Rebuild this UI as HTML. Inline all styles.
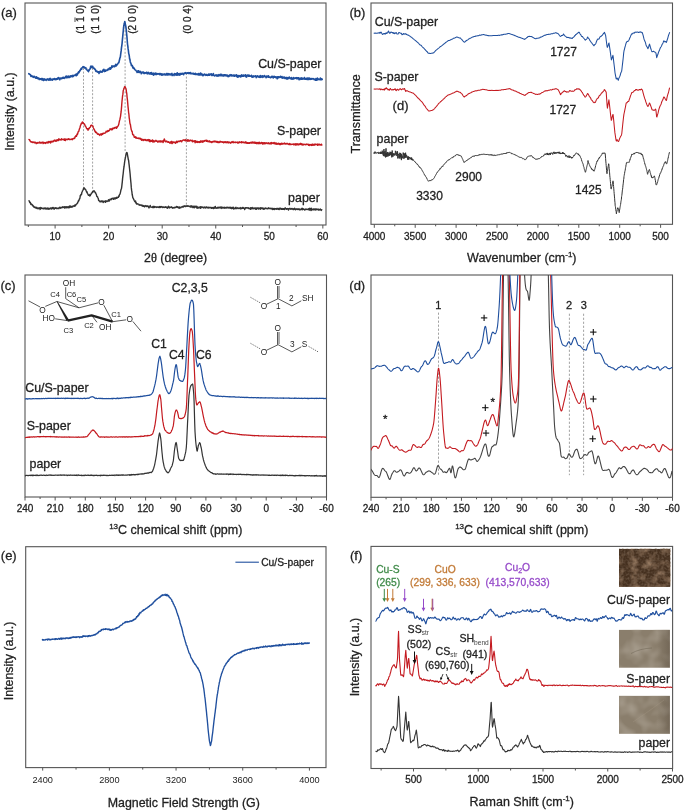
<!DOCTYPE html>
<html><head><meta charset="utf-8"><style>
html,body{margin:0;padding:0;background:#fff;}
svg{display:block;will-change:transform;}
text{font-family:'Liberation Sans',sans-serif;stroke-width:0.28px;}
</style></head><body>
<svg width="685" height="810" viewBox="0 0 685 810">
<rect width="685" height="810" fill="#fff"/>
<rect x="25" y="3" width="301" height="222" fill="none" stroke="#555" stroke-width="1.1"/>
<line x1="55.1" y1="225" x2="55.1" y2="228.5" stroke="#555" stroke-width="1.0" />
<line x1="108.65" y1="225" x2="108.65" y2="228.5" stroke="#555" stroke-width="1.0" />
<line x1="162.2" y1="225" x2="162.2" y2="228.5" stroke="#555" stroke-width="1.0" />
<line x1="215.75" y1="225" x2="215.75" y2="228.5" stroke="#555" stroke-width="1.0" />
<line x1="269.3" y1="225" x2="269.3" y2="228.5" stroke="#555" stroke-width="1.0" />
<line x1="322.85" y1="225" x2="322.85" y2="228.5" stroke="#555" stroke-width="1.0" />
<line x1="28.32" y1="225" x2="28.32" y2="227" stroke="#555" stroke-width="1.0" />
<line x1="81.88" y1="225" x2="81.88" y2="227" stroke="#555" stroke-width="1.0" />
<line x1="135.43" y1="225" x2="135.43" y2="227" stroke="#555" stroke-width="1.0" />
<line x1="188.97" y1="225" x2="188.97" y2="227" stroke="#555" stroke-width="1.0" />
<line x1="242.53" y1="225" x2="242.53" y2="227" stroke="#555" stroke-width="1.0" />
<line x1="296.08" y1="225" x2="296.08" y2="227" stroke="#555" stroke-width="1.0" />
<text x="55.1" y="240.3" font-size="10" text-anchor="middle" fill="#222" stroke="#222" >10</text>
<text x="108.65" y="240.3" font-size="10" text-anchor="middle" fill="#222" stroke="#222" >20</text>
<text x="162.2" y="240.3" font-size="10" text-anchor="middle" fill="#222" stroke="#222" >30</text>
<text x="215.75" y="240.3" font-size="10" text-anchor="middle" fill="#222" stroke="#222" >40</text>
<text x="269.3" y="240.3" font-size="10" text-anchor="middle" fill="#222" stroke="#222" >50</text>
<text x="322.85" y="240.3" font-size="10" text-anchor="middle" fill="#222" stroke="#222" >60</text>
<text x="14" y="111.6" font-size="12.4" text-anchor="middle" fill="#222" stroke="#222" transform="rotate(-90 14 111.6)" >Intensity (a.u.)</text>
<text x="175.6" y="262" font-size="12.4" text-anchor="middle" fill="#222" stroke="#222" >2<tspan font-family="Liberation Serif">θ</tspan> (degree)</text>
<text x="1" y="17" font-size="13" text-anchor="start" fill="#222" stroke="#222" >(a)</text>
<line x1="83.5" y1="68" x2="83.5" y2="188.5" stroke="#8a8a8a" stroke-width="0.8" stroke-dasharray="2,1.6"/>
<line x1="92.6" y1="68" x2="92.6" y2="190.5" stroke="#8a8a8a" stroke-width="0.8" stroke-dasharray="2,1.6"/>
<line x1="125.1" y1="23" x2="125.1" y2="151" stroke="#8a8a8a" stroke-width="0.8" stroke-dasharray="2,1.6"/>
<line x1="186.4" y1="73" x2="186.4" y2="205" stroke="#8a8a8a" stroke-width="0.8" stroke-dasharray="2,1.6"/>
<text x="84.3" y="19.3" font-size="10" text-anchor="middle" fill="#222" stroke="#222" transform="rotate(-90 84.3 19.3)" >(1 1 0)</text>
<text x="98.9" y="19.3" font-size="10" text-anchor="middle" fill="#222" stroke="#222" transform="rotate(-90 98.9 19.3)" >(1 1 0)</text>
<text x="136.2" y="19.3" font-size="10" text-anchor="middle" fill="#222" stroke="#222" transform="rotate(-90 136.2 19.3)" >(2 0 0)</text>
<text x="190.6" y="19.3" font-size="10" text-anchor="middle" fill="#222" stroke="#222" transform="rotate(-90 190.6 19.3)" >(0 0 4)</text>
<line x1="75" y1="17.4" x2="75" y2="22" stroke="#222" stroke-width="0.8" />
<polyline points="28.8,73.7 29.1,74.16 29.4,74.14 29.7,74.08 30,74.59 30.3,74.55 30.6,75.38 30.9,76.32 31.2,75.53 31.5,75.66 31.8,76.46 32.1,76.57 32.4,76.61 32.7,76.21 33,76.87 33.3,77.42 33.6,76.45 33.9,77.07 34.2,76.4 34.5,76.85 34.8,76.66 35.1,77.64 35.4,77.18 35.7,78.12 36,78.15 36.3,78.06 36.6,76.86 36.9,78.04 37.2,78.39 37.5,78.56 37.8,77.73 38.1,78.38 38.4,78.17 38.7,78.33 39,79.41 39.3,78.44 39.6,78.92 39.9,79.47 40.2,78.71 40.5,79.01 40.8,79.18 41.1,79.19 41.4,78.53 41.7,79.29 42,80.03 42.3,78.47 42.6,79.83 42.9,79.46 43.2,79.08 43.5,80.56 43.8,79.91 44.1,78.86 44.4,79.58 44.7,79.88 45,79.47 45.3,79.96 45.6,79.56 45.9,79.97 46.2,80.39 46.5,79.23 46.8,79.71 47.1,79.33 47.4,79.65 47.7,78.92 48,79.25 48.3,79.45 48.6,80.04 48.9,80.16 49.2,78.79 49.5,79.07 49.8,79.84 50.1,78.37 50.4,79.2 50.7,79.38 51,80.1 51.3,79.77 51.6,79.19 51.9,79.14 52.2,79.18 52.5,80.13 52.8,79.03 53.1,79.07 53.4,79.41 53.7,79.12 54,79.05 54.3,78.51 54.6,79.09 54.9,78.82 55.2,79.68 55.5,79.36 55.8,78.96 56.1,79.31 56.4,78.72 56.7,79.45 57,78.84 57.3,79.13 57.6,78.06 57.9,78.93 58.2,77.78 58.5,77.55 58.8,78.47 59.1,78.11 59.4,78.66 59.7,79.77 60,78.04 60.3,78.12 60.6,78.54 60.9,78.66 61.2,78.25 61.5,78.19 61.8,78.64 62.1,78.5 62.4,77.59 62.7,78.07 63,78.08 63.3,77.43 63.6,78.1 63.9,77.43 64.2,78.38 64.5,77.89 64.8,77.77 65.1,77.34 65.4,77.54 65.7,76.44 66,76.86 66.3,77.61 66.6,76.18 66.9,77.75 67.2,76.26 67.5,77.57 67.8,76.62 68.1,77.45 68.4,77.03 68.7,76.04 69,77.51 69.3,77.55 69.6,76.65 69.9,76.47 70.2,76.47 70.5,75.96 70.8,77.03 71.1,76.07 71.4,76.28 71.7,75.81 72,75.84 72.3,75.42 72.6,76.74 72.9,75.9 73.2,76.44 73.5,75.84 73.8,75.38 74.1,75.49 74.4,75.28 74.7,75.49 75,75.18 75.3,75.11 75.6,74.4 75.9,74.58 76.2,75.77 76.5,74.31 76.8,73.9 77.1,74.44 77.4,74.8 77.7,72.97 78,73.39 78.3,72.84 78.6,71.84 78.9,72.78 79.2,71.9 79.5,71.48 79.8,70.56 80.1,70.78 80.4,69.83 80.7,69.67 81,68.75 81.3,68.27 81.6,69.26 81.9,67.85 82.2,67.92 82.5,67.42 82.8,66.94 83.1,66.72 83.4,67.25 83.7,66.75 84,66.92 84.3,67.17 84.6,68 84.9,67.96 85.2,68.05 85.5,67.79 85.8,67.59 86.1,69.1 86.4,69.39 86.7,69.11 87,69.84 87.3,70.32 87.6,70.67 87.9,71 88.2,70.44 88.5,71.63 88.8,69.99 89.1,70.58 89.4,69.59 89.7,69.01 90,69.03 90.3,68.49 90.6,66.75 90.9,66.2 91.2,67.41 91.5,66.34 91.8,66.93 92.1,67.5 92.4,66.3 92.7,66.24 93,67.78 93.3,67.92 93.6,68.02 93.9,68.44 94.2,68.21 94.5,68.2 94.8,69.35 95.1,69.34 95.4,69.41 95.7,71 96,71.05 96.3,71.59 96.6,71.01 96.9,71.35 97.2,71.31 97.5,71.51 97.8,72.22 98.1,71.77 98.4,72.46 98.7,72.48 99,73.41 99.3,71.5 99.6,72.7 99.9,72.1 100.2,72.06 100.5,71.18 100.8,71.63 101.1,72.19 101.4,71.64 101.7,71.63 102,71.34 102.3,72.05 102.6,71.33 102.9,70.05 103.2,70.8 103.5,70.02 103.8,69.23 104.1,70.64 104.4,71.58 104.7,70.79 105,70.03 105.3,70.07 105.6,71.11 105.9,70.48 106.2,70.32 106.5,70.16 106.8,70.1 107.1,70.4 107.4,70.14 107.7,69.82 108,68.99 108.3,69.69 108.6,68.88 108.9,69.69 109.2,68.22 109.5,68.67 109.8,68.57 110.1,67.66 110.4,69.15 110.7,68.83 111,67.58 111.3,68.07 111.6,67.67 111.9,65.84 112.2,67.23 112.5,66.88 112.8,66.79 113.1,65.97 113.4,66.25 113.7,66.15 114,66.75 114.3,66.15 114.6,65.84 114.9,66.56 115.2,65.29 115.5,65.25 115.8,64.33 116.1,66.04 116.4,65.54 116.7,65.33 117,64.98 117.3,64.44 117.6,64.22 117.9,63.59 118.2,63.12 118.5,62.67 118.8,62.78 119.1,61.47 119.4,60.27 119.7,58.98 120,57.63 120.3,57.26 120.6,54.86 120.9,52.69 121.2,50.4 121.5,47.59 121.8,45.53 122.1,43.28 122.4,39.78 122.7,36.82 123,33.5 123.3,30.55 123.6,27.12 123.9,25.78 124.2,23.47 124.5,22.96 124.8,21.48 125.1,22.79 125.4,24.78 125.7,25.74 126,27.67 126.3,30.58 126.6,33.57 126.9,36.34 127.2,40.25 127.5,44.07 127.8,45.82 128.1,48.69 128.4,50.71 128.7,53.49 129,54.46 129.3,56.18 129.6,58.97 129.9,59.09 130.2,61.38 130.5,62.73 130.8,63.04 131.1,64.08 131.4,65.57 131.7,65.01 132,65.36 132.3,65.47 132.6,66.72 132.9,67.95 133.2,68.07 133.5,67.4 133.8,67.81 134.1,68.33 134.4,69.1 134.7,69.15 135,69.7 135.3,70.06 135.6,70.03 135.9,70.46 136.2,70.86 136.5,70.94 136.8,71.49 137.1,72.44 137.4,71.9 137.7,71.73 138,70.87 138.3,72.09 138.6,70.88 138.9,71.25 139.2,72.56 139.5,72.54 139.8,72.13 140.1,71.33 140.4,72.13 140.7,72.02 141,72.79 141.3,73.73 141.6,72.66 141.9,72.16 142.2,71.99 142.5,72.65 142.8,72.62 143.1,72.12 143.4,72.86 143.7,72.2 144,73.48 144.3,73.49 144.6,73.53 144.9,72.71 145.2,73.28 145.5,72.95 145.8,72.84 146.1,72.9 146.4,72.4 146.7,72.34 147,73.6 147.3,73.08 147.6,73.33 147.9,73.79 148.2,72.31 148.5,72.86 148.8,73.41 149.1,73.55 149.4,73.16 149.7,73.95 150,73.53 150.3,72.77 150.6,72.95 150.9,73.93 151.2,73.77 151.5,72.5 151.8,74.31 152.1,73.93 152.4,74.37 152.7,73.45 153,73.52 153.3,73.09 153.6,75.14 153.9,73.67 154.2,74.67 154.5,73.47 154.8,73.94 155.1,72.96 155.4,73.7 155.7,74.48 156,73.28 156.3,74.58 156.6,74.2 156.9,73.47 157.2,73.79 157.5,73.84 157.8,74.09 158.1,73.85 158.4,73.71 158.7,74.03 159,73.65 159.3,73.53 159.6,74.23 159.9,74.77 160.2,73.46 160.5,74.32 160.8,73.98 161.1,73.82 161.4,74.84 161.7,74.1 162,75.23 162.3,73.99 162.6,74.64 162.9,74.32 163.2,74.04 163.5,74.79 163.8,74.39 164.1,74.81 164.4,74.46 164.7,73.9 165,74.44 165.3,74.53 165.6,75.03 165.9,74 166.2,74.48 166.5,73.55 166.8,74.86 167.1,73.9 167.4,73.51 167.7,74.47 168,75.11 168.3,73.66 168.6,73.9 168.9,74.09 169.2,73.87 169.5,74.7 169.8,74.05 170.1,74.1 170.4,74.81 170.7,74.07 171,74.73 171.3,73.95 171.6,73.82 171.9,73.47 172.2,75.51 172.5,74.3 172.8,74.61 173.1,74.46 173.4,74.56 173.7,74.5 174,75.52 174.3,73.9 174.6,73.61 174.9,73.91 175.2,73.72 175.5,74.87 175.8,74.9 176.1,73.92 176.4,73.68 176.7,74.25 177,75.21 177.3,72.89 177.6,74.72 177.9,73.84 178.2,75 178.5,73.83 178.8,74.26 179.1,73.58 179.4,73.87 179.7,75.17 180,74.85 180.3,74.17 180.6,73.88 180.9,73.28 181.2,74.05 181.5,74.18 181.8,74.08 182.1,74 182.4,73.35 182.7,73.84 183,73.77 183.3,74.41 183.6,74.64 183.9,73.46 184.2,73.03 184.5,73.35 184.8,72.99 185.1,72.86 185.4,73.2 185.7,72.63 186,73.53 186.3,73.15 186.6,73.35 186.9,73.13 187.2,72.84 187.5,72.75 187.8,73.16 188.1,73.02 188.4,73.49 188.7,73.39 189,72.68 189.3,73.51 189.6,72.77 189.9,73.21 190.2,73.43 190.5,72.49 190.8,73.72 191.1,73.79 191.4,73.65 191.7,73.54 192,73.59 192.3,73.29 192.6,73.71 192.9,73.58 193.2,73.97 193.5,73.28 193.8,74.1 194.1,74.08 194.4,73.96 194.7,73.82 195,74.4 195.3,73.21 195.6,74.41 195.9,74.31 196.2,74.37 196.5,74.45 196.8,73.91 197.1,74.15 197.4,74.67 197.7,74.58 198,74.48 198.3,73.56 198.6,74.71 198.9,75.08 199.2,75.01 199.5,74.6 199.8,73.63 200.1,75.02 200.4,74.44 200.7,73.14 201,74.76 201.3,73.75 201.6,73.87 201.9,74.25 202.2,75.31 202.5,74.42 202.8,74.79 203.1,75.61 203.4,75.54 203.7,74.62 204,74.56 204.3,74.01 204.6,74.34 204.9,74.96 205.2,74.96 205.5,74.82 205.8,75.31 206.1,74.35 206.4,74.76 206.7,75.2 207,75.13 207.3,75.41 207.6,75.05 207.9,74.68 208.2,75.06 208.5,74.32 208.8,73.98 209.1,75.21 209.4,74.87 209.7,75.08 210,73.99 210.3,74.73 210.6,74.61 210.9,74.47 211.2,73.72 211.5,74.78 211.8,75.47 212.1,75.2 212.4,74.67 212.7,75 213,75.43 213.3,73.51 213.6,74.96 213.9,75.34 214.2,75.43 214.5,75.99 214.8,75.69 215.1,75.25 215.4,75.25 215.7,75.53 216,74.8 216.3,75.09 216.6,75.62 216.9,76.2 217.2,75.05 217.5,75.12 217.8,75.26 218.1,75.9 218.4,75.15 218.7,75.98 219,74.65 219.3,75.09 219.6,75.09 219.9,75.64 220.2,75.79 220.5,74.39 220.8,74.73 221.1,75.42 221.4,74.89 221.7,74.42 222,75.84 222.3,75.54 222.6,75.55 222.9,75.03 223.2,75.86 223.5,75.17 223.8,75.92 224.1,74.82 224.4,74.86 224.7,75.45 225,74.96 225.3,75.73 225.6,75.51 225.9,74.87 226.2,75.42 226.5,75.2 226.8,75.9 227.1,75.06 227.4,75.18 227.7,76.09 228,76.67 228.3,76.54 228.6,75.49 228.9,75.58 229.2,76.32 229.5,75.42 229.8,74.96 230.1,75.57 230.4,75.76 230.7,75.07 231,74.63 231.3,74.75 231.6,75.92 231.9,75.15 232.2,75.49 232.5,75.7 232.8,75.93 233.1,75.42 233.4,75.89 233.7,75.13 234,75.43 234.3,75.08 234.6,76.27 234.9,75.64 235.2,75.26 235.5,75.48 235.8,75.57 236.1,76.08 236.4,74.83 236.7,75.15 237,75.52 237.3,77.13 237.6,76.27 237.9,75.69 238.2,76.15 238.5,76.9 238.8,75.65 239.1,75.59 239.4,76.47 239.7,76.08 240,76.19 240.3,75.55 240.6,76.9 240.9,76.79 241.2,76.17 241.5,76.24 241.8,74.76 242.1,76.23 242.4,75.79 242.7,76.14 243,76.29 243.3,75.73 243.6,75 243.9,76.14 244.2,75.54 244.5,75.78 244.8,75.64 245.1,75.79 245.4,74.72 245.7,76.67 246,76.15 246.3,76.63 246.6,77.11 246.9,76.05 247.2,75.05 247.5,75.56 247.8,75.4 248.1,75.8 248.4,76.13 248.7,74.99 249,76.29 249.3,75.28 249.6,76.29 249.9,76.07 250.2,75.97 250.5,76.11 250.8,75.87 251.1,75.84 251.4,75.26 251.7,76.18 252,77.22 252.3,77.3 252.6,76.95 252.9,76.62 253.2,75.87 253.5,77.05 253.8,76.24 254.1,76.24 254.4,76.13 254.7,76.35 255,76.07 255.3,76.27 255.6,75.74 255.9,76.14 256.2,77.61 256.5,76.33 256.8,76.25 257.1,76.68 257.4,76.79 257.7,75.8 258,76.31 258.3,76.94 258.6,76.59 258.9,76.52 259.2,77.32 259.5,76.11 259.8,76.54 260.1,76.22 260.4,77.34 260.7,75.45 261,76.17 261.3,76.26 261.6,76.93 261.9,76.91 262.2,77.36 262.5,75.74 262.8,77.03 263.1,76.47 263.4,76.28 263.7,76.96 264,76.17 264.3,75.54 264.6,76.5 264.9,75.89 265.2,76.37 265.5,76.95 265.8,76.93 266.1,77.64 266.4,76.68 266.7,75.96 267,76.4 267.3,76.32 267.6,76.18 267.9,77.1 268.2,76.52 268.5,75.8 268.8,77.29 269.1,76.86 269.4,77.13 269.7,77.01 270,77.32 270.3,77 270.6,77.68 270.9,77.25 271.2,77.25 271.5,77.27 271.8,76.26 272.1,76.99 272.4,76.95 272.7,77.22 273,76.38 273.3,78.04 273.6,77.22 273.9,76.51 274.2,76.25 274.5,77.05 274.8,77.17 275.1,76.84 275.4,77.31 275.7,76.92 276,77.59 276.3,76.9 276.6,77.3 276.9,77.87 277.2,78.77 277.5,76.81 277.8,77.13 278.1,76.94 278.4,77.85 278.7,76.8 279,77.18 279.3,77.45 279.6,76.94 279.9,76.97 280.2,77.25 280.5,76.37 280.8,76.75 281.1,77.33 281.4,77.66 281.7,77.49 282,76.63 282.3,77.37 282.6,78.08 282.9,77.96 283.2,77.63 283.5,77.2 283.8,78.05 284.1,77.4 284.4,77.09 284.7,77.31 285,78.56 285.3,77.9 285.6,78.43 285.9,77.54 286.2,78.34 286.5,77.51 286.8,77.76 287.1,79.23 287.4,78.3 287.7,77.62 288,77.86 288.3,78.1 288.6,78.6 288.9,77.68 289.2,77.01 289.5,77.82 289.8,78 290.1,78.06 290.4,78.74 290.7,78.21 291,78.49 291.3,77.45 291.6,78.55 291.9,79.24 292.2,78.52 292.5,78.25 292.8,78.21 293.1,79.12 293.4,77.64 293.7,78.1 294,78.43 294.3,78.6 294.6,77.96 294.9,78.38 295.2,78.08 295.5,78.31 295.8,78.18 296.1,77.64 296.4,78.27 296.7,78.78 297,77.77 297.3,78.19 297.6,78.7 297.9,77.76 298.2,78.46 298.5,77.79 298.8,79.01 299.1,79.67 299.4,79.52 299.7,78.3 300,78.84 300.3,78.51 300.6,78.51 300.9,79.32 301.2,77.76 301.5,79.08 301.8,78.48 302.1,79.3 302.4,78.64 302.7,78.18 303,78.71 303.3,78.98 303.6,78.6 303.9,78.86 304.2,78.32 304.5,77.45 304.8,79.13 305.1,79.03 305.4,78.74 305.7,78.71 306,79.25 306.3,78.44 306.6,78.32 306.9,78.61 307.2,79.38 307.5,77.98 307.8,79.41 308.1,78.41 308.4,78.17 308.7,79.48 309,78.75 309.3,78.1 309.6,78.63 309.9,79.35 310.2,79.5 310.5,78.62 310.8,79.09 311.1,79.28 311.4,78.54 311.7,79.1 312,78.9 312.3,78.63 312.6,78.67 312.9,78.99 313.2,78.98 313.5,78.66 313.8,78.75 314.1,79.61 314.4,79.13 314.7,79.51 315,79.69 315.3,79.37 315.6,80.3 315.9,78.61 316.2,79.52 316.5,78.91 316.8,80.12 317.1,80.04 317.4,78.05 317.7,78.6 318,79.51 318.3,79.59 318.6,79.57 318.9,79.14 319.2,79.44 319.5,79.56 319.8,79.16 320.1,79.78 320.4,77.99 320.7,79.59 321,78.68 321.3,79.79 321.6,79.15 321.9,78.79 322.2,79.5" fill="none" stroke="#1f4f9e" stroke-width="1.6" stroke-linejoin="round" stroke-linecap="round" />
<polyline points="29,139.52 29.3,139.81 29.6,139.82 29.9,140.74 30.2,141.22 30.5,141.67 30.8,141.39 31.1,142.06 31.4,141.77 31.7,141.83 32,142.21 32.3,142.5 32.6,141.99 32.9,142.11 33.2,142.21 33.5,142.37 33.8,142.01 34.1,142.87 34.4,142.31 34.7,142.71 35,142.2 35.3,142.73 35.6,142.77 35.9,142.46 36.2,143.52 36.5,142.86 36.8,143.48 37.1,143.16 37.4,142.51 37.7,142.65 38,143.02 38.3,142.88 38.6,142.9 38.9,142.78 39.2,142.16 39.5,142.84 39.8,142.02 40.1,143.12 40.4,142.67 40.7,142.68 41,142.9 41.3,143.11 41.6,142.4 41.9,142.27 42.2,142.55 42.5,142.13 42.8,142.57 43.1,143.63 43.4,142.5 43.7,143.2 44,142.32 44.3,142.99 44.6,142.7 44.9,142.77 45.2,143 45.5,143.46 45.8,142.76 46.1,142.69 46.4,142.18 46.7,142.79 47,142.39 47.3,142.8 47.6,142.38 47.9,143.08 48.2,141.46 48.5,142.12 48.8,142.57 49.1,142 49.4,141.76 49.7,141.94 50,141.42 50.3,142 50.6,142.92 50.9,142.32 51.2,141.31 51.5,141.35 51.8,141.48 52.1,142 52.4,141.16 52.7,141.14 53,141.72 53.3,141.64 53.6,141.04 53.9,140.64 54.2,140.38 54.5,140.65 54.8,139.93 55.1,141.1 55.4,140.43 55.7,140.82 56,141.32 56.3,140.95 56.6,139.9 56.9,140.67 57.2,140.72 57.5,139.84 57.8,139.69 58.1,139.98 58.4,139.29 58.7,140.52 59,138.83 59.3,139.33 59.6,139.63 59.9,139.61 60.2,139.74 60.5,139.75 60.8,139.52 61.1,140.06 61.4,138.67 61.7,139.55 62,139.23 62.3,139.57 62.6,139.59 62.9,139.11 63.2,139.21 63.5,139.8 63.8,139.6 64.1,139.16 64.4,140.3 64.7,140.4 65,138.81 65.3,139.54 65.6,140.46 65.9,139.73 66.2,139.49 66.5,139.3 66.8,139.16 67.1,139.29 67.4,139.14 67.7,139.68 68,139.19 68.3,139.16 68.6,138.83 68.9,139.31 69.2,138.94 69.5,139.23 69.8,139.73 70.1,139.43 70.4,139.47 70.7,139.39 71,139.25 71.3,139.15 71.6,139.06 71.9,139.48 72.2,138.68 72.5,139.67 72.8,139.08 73.1,138.67 73.4,138.65 73.7,138.4 74,138.55 74.3,137.94 74.6,138.45 74.9,137.35 75.2,136.4 75.5,136.72 75.8,135.83 76.1,136.3 76.4,136.37 76.7,135.69 77,134.25 77.3,133.81 77.6,134.14 77.9,132.75 78.2,131.83 78.5,131.49 78.8,131.33 79.1,130.14 79.4,128.95 79.7,128.25 80,127.52 80.3,126.15 80.6,125.11 80.9,124.77 81.2,123.61 81.5,123.34 81.8,122.89 82.1,123.47 82.4,121.95 82.7,122.29 83,122.46 83.3,123.02 83.6,123.69 83.9,123.52 84.2,123.89 84.5,124.05 84.8,124.83 85.1,125.86 85.4,126.13 85.7,126.22 86,127.05 86.3,127.78 86.6,128.51 86.9,128.53 87.2,129.07 87.5,128.69 87.8,129.11 88.1,130.25 88.4,128.5 88.7,129.03 89,128.93 89.3,128.28 89.6,127.66 89.9,127.5 90.2,127.06 90.5,126.57 90.8,125.4 91.1,125.77 91.4,125.19 91.7,125.14 92,125.4 92.3,125.68 92.6,126.08 92.9,125.96 93.2,127.14 93.5,127.93 93.8,128.66 94.1,129.55 94.4,129.69 94.7,130.44 95,131.55 95.3,131.23 95.6,132.37 95.9,132.38 96.2,132.67 96.5,132.32 96.8,132.89 97.1,133.46 97.4,134.04 97.7,134.27 98,133.99 98.3,134.09 98.6,133.96 98.9,134.6 99.2,134.43 99.5,134.86 99.8,135.4 100.1,134.68 100.4,134.07 100.7,134.31 101,134 101.3,134.02 101.6,134.97 101.9,134.38 102.2,133.5 102.5,134.25 102.8,134.33 103.1,133.47 103.4,133.15 103.7,133.11 104,133.18 104.3,133.15 104.6,133.21 104.9,133.06 105.2,132.9 105.5,132.82 105.8,132.37 106.1,131.29 106.4,131.71 106.7,131.73 107,131.28 107.3,131.65 107.6,130.95 107.9,130.55 108.2,131.38 108.5,130.89 108.8,130.54 109.1,130.68 109.4,130.58 109.7,130.12 110,128.8 110.3,129.41 110.6,129.36 110.9,129.01 111.2,129.38 111.5,129.68 111.8,128.86 112.1,128.48 112.4,129.69 112.7,128.54 113,128.1 113.3,128.61 113.6,128.57 113.9,127.98 114.2,128.49 114.5,127.82 114.8,127.51 115.1,127.83 115.4,127.94 115.7,127.23 116,127.51 116.3,127.2 116.6,128.28 116.9,126.62 117.2,127.3 117.5,126.46 117.8,126.15 118.1,126.04 118.4,125.37 118.7,124.59 119,123.1 119.3,121.54 119.6,120.37 119.9,119.47 120.2,117.97 120.5,116.56 120.8,114.18 121.1,111.95 121.4,109.05 121.7,105.17 122,101.27 122.3,98.61 122.6,95.68 122.9,94.18 123.2,90.75 123.5,89.89 123.8,88.63 124.1,88.28 124.4,87.36 124.7,86.58 125,86.61 125.3,87.16 125.6,87.89 125.9,88.47 126.2,89.84 126.5,92.52 126.8,93.69 127.1,97.34 127.4,99.62 127.7,102.93 128,106.33 128.3,109.13 128.6,112.51 128.9,114.19 129.2,117.86 129.5,119.57 129.8,122.3 130.1,124.02 130.4,124.44 130.7,126.61 131,128.28 131.3,129.98 131.6,130.48 131.9,131.42 132.2,131.64 132.5,133.73 132.8,134.7 133.1,134.66 133.4,135.12 133.7,134.94 134,136.32 134.3,137.39 134.6,136.83 134.9,137.31 135.2,137.24 135.5,136.8 135.8,137.96 136.1,137.05 136.4,137.64 136.7,137.98 137,138.37 137.3,138.3 137.6,138.41 137.9,138.05 138.2,137.94 138.5,138.61 138.8,138.4 139.1,138.25 139.4,138.36 139.7,138.78 140,138.3 140.3,138.6 140.6,138.56 140.9,139.4 141.2,139.57 141.5,140.32 141.8,138.91 142.1,139.32 142.4,140.05 142.7,139.63 143,139.64 143.3,140.54 143.6,139.73 143.9,139.43 144.2,139.4 144.5,140.14 144.8,140.17 145.1,139.5 145.4,139.7 145.7,140.38 146,140.44 146.3,139.97 146.6,140.54 146.9,140.55 147.2,139.6 147.5,140.26 147.8,140.6 148.1,140.22 148.4,139.6 148.7,140.42 149,140.89 149.3,141.27 149.6,139.72 149.9,141.77 150.2,140.23 150.5,141.14 150.8,141.29 151.1,141.22 151.4,140.9 151.7,140.38 152,141.16 152.3,140.62 152.6,139.89 152.9,142.17 153.2,141.31 153.5,141.8 153.8,140.68 154.1,141.7 154.4,141.78 154.7,141.79 155,141.15 155.3,140.68 155.6,141.13 155.9,140.3 156.2,140.53 156.5,141.31 156.8,140.87 157.1,141.24 157.4,141.28 157.7,142.15 158,141.9 158.3,141.35 158.6,141.89 158.9,141.07 159.2,141.27 159.5,141.81 159.8,140.91 160.1,141.33 160.4,140.9 160.7,141.51 161,142.16 161.3,141.16 161.6,141.58 161.9,141.11 162.2,141.01 162.5,140.98 162.8,142.11 163.1,142.49 163.4,141.63 163.7,140.32 164,139.84 164.3,138.86 164.6,139.86 164.9,140.7 165.2,141.52 165.5,141.82 165.8,141.41 166.1,141.57 166.4,141.09 166.7,141.7 167,141.36 167.3,141.96 167.6,141.68 167.9,142.17 168.2,142.37 168.5,141.63 168.8,141.92 169.1,141.91 169.4,142.65 169.7,143.08 170,142.75 170.3,142.27 170.6,143.05 170.9,141.82 171.2,143.09 171.5,142.2 171.8,141.32 172.1,143.61 172.4,143.16 172.7,142.07 173,142.57 173.3,142.41 173.6,142.53 173.9,141.84 174.2,142.16 174.5,142.61 174.8,142.47 175.1,142.84 175.4,142.32 175.7,143.22 176,141.88 176.3,142.23 176.6,141.25 176.9,141.46 177.2,142.48 177.5,141.45 177.8,141.99 178.1,141.67 178.4,141.17 178.7,141.39 179,141.23 179.3,141.16 179.6,141.6 179.9,141.48 180.2,140.88 180.5,140.66 180.8,141.08 181.1,140.84 181.4,141.24 181.7,141.85 182,141.01 182.3,140.57 182.6,140.45 182.9,140.1 183.2,140.02 183.5,139.92 183.8,140.13 184.1,140.07 184.4,140.52 184.7,140.01 185,140.06 185.3,139.61 185.6,140.8 185.9,140.31 186.2,140.85 186.5,140.44 186.8,140.74 187.1,140.02 187.4,140.45 187.7,141.31 188,139.68 188.3,140.72 188.6,140.98 188.9,140.48 189.2,140.66 189.5,140.92 189.8,140.15 190.1,140.66 190.4,140.16 190.7,140.3 191,140.38 191.3,140.64 191.6,140.82 191.9,141.01 192.2,140.27 192.5,141.79 192.8,141.5 193.1,141.37 193.4,140.97 193.7,141.14 194,141.48 194.3,141.48 194.6,140.64 194.9,141.74 195.2,142.73 195.5,140.74 195.8,142.01 196.1,141.79 196.4,141.64 196.7,142.32 197,141.26 197.3,141.88 197.6,142.48 197.9,141.8 198.2,141.73 198.5,141.99 198.8,141.77 199.1,142.64 199.4,141.6 199.7,142.37 200,141.46 200.3,142.28 200.6,141.92 200.9,140.8 201.2,141.86 201.5,141.33 201.8,141.52 202.1,142.28 202.4,141.04 202.7,140.97 203,141.95 203.3,141.27 203.6,141.79 203.9,141.17 204.2,140.55 204.5,140.78 204.8,141.2 205.1,140.94 205.4,140.41 205.7,140.35 206,140.25 206.3,140.11 206.6,141.36 206.9,140.75 207.2,140.5 207.5,140.99 207.8,141.67 208.1,141.69 208.4,141.38 208.7,141.18 209,141.51 209.3,140.8 209.6,140.99 209.9,141.92 210.2,141.39 210.5,141.78 210.8,142.17 211.1,141.95 211.4,141.7 211.7,142.63 212,142.02 212.3,141.59 212.6,142.08 212.9,141.96 213.2,141.43 213.5,141.85 213.8,141.76 214.1,141 214.4,141.79 214.7,141.76 215,141.71 215.3,141.2 215.6,141.77 215.9,141.92 216.2,141.99 216.5,141.47 216.8,142.24 217.1,141.46 217.4,141.9 217.7,142.57 218,141.71 218.3,141.8 218.6,142.49 218.9,141.87 219.2,141.92 219.5,142.15 219.8,142.52 220.1,141.12 220.4,141.72 220.7,141.65 221,141.63 221.3,141.73 221.6,141.75 221.9,142.24 222.2,141.74 222.5,142.18 222.8,142.31 223.1,141.83 223.4,142.2 223.7,142.86 224,142.3 224.3,141.89 224.6,142.14 224.9,141.78 225.2,142.3 225.5,142.56 225.8,141.84 226.1,142.11 226.4,142.69 226.7,142 227,142.3 227.3,141.79 227.6,141.88 227.9,142.02 228.2,143.16 228.5,142.09 228.8,142.04 229.1,142.04 229.4,142.21 229.7,142.57 230,142.38 230.3,143.17 230.6,142.41 230.9,142.93 231.2,142.45 231.5,142.6 231.8,141.75 232.1,142.31 232.4,142.34 232.7,142.28 233,141.48 233.3,142.76 233.6,142.24 233.9,142.23 234.2,142.31 234.5,142.33 234.8,142.6 235.1,141.91 235.4,142.06 235.7,142.58 236,142.52 236.3,142.31 236.6,142.24 236.9,142.13 237.2,142.47 237.5,142.99 237.8,142.06 238.1,143.15 238.4,142.87 238.7,142.34 239,142.86 239.3,141.92 239.6,141.82 239.9,142.01 240.2,142.39 240.5,142.43 240.8,142.36 241.1,142.62 241.4,141.69 241.7,142.8 242,142 242.3,142.33 242.6,142.44 242.9,142.13 243.2,142.05 243.5,142.21 243.8,142.63 244.1,142.89 244.4,142.88 244.7,142.24 245,142.33 245.3,142.28 245.6,142.86 245.9,141.82 246.2,143.2 246.5,142.49 246.8,142.37 247.1,142.85 247.4,143.14 247.7,142.86 248,143.16 248.3,142.78 248.6,143.25 248.9,143.26 249.2,142.7 249.5,143.36 249.8,142.83 250.1,142.8 250.4,142.38 250.7,142.66 251,143.11 251.3,142.24 251.6,143.07 251.9,142.95 252.2,142.93 252.5,141.89 252.8,142.78 253.1,143.1 253.4,142.52 253.7,142.88 254,141.85 254.3,143.14 254.6,142.59 254.9,143.24 255.2,142.1 255.5,143.18 255.8,142.79 256.1,143.24 256.4,142.52 256.7,142.65 257,143.86 257.3,142.58 257.6,142.64 257.9,142.83 258.2,142.52 258.5,143.46 258.8,143.69 259.1,142.68 259.4,142.26 259.7,143.48 260,143.47 260.3,143.35 260.6,143.5 260.9,142.66 261.2,142.96 261.5,142.46 261.8,142.46 262.1,143.47 262.4,142.79 262.7,144.04 263,143.12 263.3,142.83 263.6,143.44 263.9,143.87 264.2,143.33 264.5,142.62 264.8,143.3 265.1,143.73 265.4,142.96 265.7,142.85 266,143.61 266.3,143.25 266.6,142.74 266.9,143.05 267.2,142.9 267.5,143.36 267.8,143.29 268.1,143.74 268.4,143.56 268.7,142.62 269,143.45 269.3,143.67 269.6,143.5 269.9,143.75 270.2,143.09 270.5,142.94 270.8,143.74 271.1,142.91 271.4,142.46 271.7,143.81 272,143.08 272.3,143.27 272.6,142.82 272.9,142.86 273.2,142.95 273.5,143.29 273.8,143.61 274.1,142.5 274.4,143.79 274.7,142.99 275,143.05 275.3,143.79 275.6,143.49 275.9,142.88 276.2,144.31 276.5,143.19 276.8,143.66 277.1,143.66 277.4,144.17 277.7,143.4 278,144.03 278.3,143.3 278.6,144.1 278.9,143.32 279.2,143.49 279.5,144.45 279.8,143.8 280.1,143.72 280.4,144.63 280.7,143.85 281,143.37 281.3,144.03 281.6,143.23 281.9,144.21 282.2,144.26 282.5,143.52 282.8,143.51 283.1,143.86 283.4,143.8 283.7,143.39 284,144.05 284.3,142.96 284.6,143.65 284.9,143.67 285.2,143.74 285.5,143.99 285.8,143.36 286.1,144.13 286.4,143.82 286.7,143.63 287,143.34 287.3,143.42 287.6,144.08 287.9,143.53 288.2,143.97 288.5,144.4 288.8,144.4 289.1,144.63 289.4,143.86 289.7,143.54 290,144.43 290.3,144.14 290.6,144.49 290.9,144.03 291.2,144.54 291.5,144.4 291.8,144.35 292.1,144.27 292.4,144.24 292.7,144.17 293,144.18 293.3,144.51 293.6,143.89 293.9,144.84 294.2,144.07 294.5,144.54 294.8,144.1 295.1,144.04 295.4,145.01 295.7,144.03 296,143.63 296.3,143.88 296.6,144.05 296.9,145.1 297.2,144.29 297.5,144.6 297.8,143.8 298.1,144.37 298.4,144.52 298.7,145 299,143.96 299.3,144.51 299.6,144.39 299.9,143.84 300.2,144.27 300.5,144.18 300.8,143.32 301.1,144.56 301.4,144.54 301.7,144.14 302,143.77 302.3,144.96 302.6,144.46 302.9,144.78 303.2,144.95 303.5,144.15 303.8,144.72 304.1,144.28 304.4,144.36 304.7,144.36 305,144.41 305.3,144.88 305.6,144.47 305.9,144.36 306.2,144.32 306.5,144.59 306.8,144.08 307.1,144.25 307.4,144.44 307.7,144.24 308,144.43 308.3,144.23 308.6,145.34 308.9,145.06 309.2,144.7 309.5,144.5 309.8,145.45 310.1,144.67 310.4,144.5 310.7,144.67 311,144.68 311.3,145.15 311.6,144.56 311.9,145.46 312.2,144.21 312.5,144.88 312.8,144.18 313.1,145.37 313.4,144.47 313.7,144.59 314,145.01 314.3,145.16 314.6,144.17 314.9,144.5 315.2,144.07 315.5,144.72 315.8,144.62 316.1,144.53 316.4,144.39 316.7,144.52 317,144.38 317.3,144.92 317.6,145.34 317.9,143.9 318.2,144.67 318.5,144.55 318.8,144.94 319.1,144.34 319.4,144.68 319.7,144.31 320,145.05 320.3,144.81 320.6,144.7 320.9,144.93 321.2,144.68 321.5,144.14 321.8,145.05" fill="none" stroke="#c41a20" stroke-width="1.4" stroke-linejoin="round" stroke-linecap="round" />
<polyline points="29,200.72 29.3,201.09 29.6,202.1 29.9,202.72 30.2,202.24 30.5,202.84 30.8,204.26 31.1,204.61 31.4,204.07 31.7,204.23 32,204.79 32.3,205.18 32.6,205.04 32.9,206.02 33.2,205.75 33.5,206.04 33.8,207.16 34.1,206.68 34.4,207.09 34.7,207.5 35,207.68 35.3,207.29 35.6,207.54 35.9,207.26 36.2,208.42 36.5,208.03 36.8,207.36 37.1,207.89 37.4,208.25 37.7,208.21 38,208.83 38.3,208.68 38.6,207.92 38.9,208.15 39.2,207.69 39.5,208.36 39.8,208.35 40.1,209.44 40.4,208.37 40.7,207.47 41,208.09 41.3,208.44 41.6,207.89 41.9,208.07 42.2,208.3 42.5,208.62 42.8,208.42 43.1,208.14 43.4,208.86 43.7,208.31 44,208.34 44.3,207.98 44.6,208.24 44.9,208.85 45.2,207.91 45.5,208.56 45.8,208.9 46.1,208.44 46.4,208.7 46.7,208.13 47,209.15 47.3,209.06 47.6,208.69 47.9,207.85 48.2,208.14 48.5,208.98 48.8,209.28 49.1,208.68 49.4,209.07 49.7,208.28 50,208.44 50.3,208.51 50.6,208.67 50.9,207.84 51.2,208.86 51.5,209.01 51.8,207.95 52.1,207.85 52.4,208.55 52.7,208.11 53,207.37 53.3,208.68 53.6,208.39 53.9,208.1 54.2,209.17 54.5,208.32 54.8,207.92 55.1,208.25 55.4,207.75 55.7,207.84 56,208.3 56.3,207.88 56.6,207.9 56.9,208.76 57.2,208.4 57.5,208.35 57.8,208.2 58.1,208.16 58.4,208.54 58.7,207.89 59,208.65 59.3,207.44 59.6,207.71 59.9,207.2 60.2,207.61 60.5,207.94 60.8,208.31 61.1,207.39 61.4,207.64 61.7,207.46 62,207.27 62.3,207.05 62.6,207.54 62.9,206.76 63.2,207.51 63.5,207.44 63.8,207.12 64.1,206.95 64.4,206.76 64.7,208.1 65,206.72 65.3,207.91 65.6,207.48 65.9,207.05 66.2,206.69 66.5,207.59 66.8,207.85 67.1,206.7 67.4,206.93 67.7,207.47 68,207.14 68.3,207.8 68.6,206.69 68.9,207.12 69.2,206.33 69.5,207.69 69.8,206.46 70.1,205.8 70.4,206.63 70.7,206.57 71,207.39 71.3,206.39 71.6,206.47 71.9,206.66 72.2,207.02 72.5,206.26 72.8,206.66 73.1,206.36 73.4,205.95 73.7,206.03 74,205.92 74.3,205.44 74.6,206.24 74.9,205.04 75.2,205.95 75.5,205.64 75.8,204.93 76.1,204.33 76.4,204.21 76.7,204.11 77,203.81 77.3,203.17 77.6,203.01 77.9,201.88 78.2,201.73 78.5,200.47 78.8,200.86 79.1,199.92 79.4,198.92 79.7,198.77 80,197.73 80.3,195.41 80.6,195.78 80.9,194.35 81.2,194.68 81.5,194.58 81.8,192.56 82.1,192.02 82.4,191.08 82.7,190.56 83,189.98 83.3,189.64 83.6,188.21 83.9,188.97 84.2,187.81 84.5,188.42 84.8,189.07 85.1,189.3 85.4,189.12 85.7,189.78 86,190.45 86.3,191.16 86.6,192.13 86.9,191.61 87.2,192.9 87.5,193.51 87.8,194 88.1,194.41 88.4,195.19 88.7,194.96 89,195.27 89.3,195.28 89.6,195.9 89.9,194.4 90.2,195.7 90.5,194.89 90.8,194.59 91.1,193.92 91.4,193.1 91.7,193.24 92,192.61 92.3,192.62 92.6,191.35 92.9,192.19 93.2,191.42 93.5,191.03 93.8,190.81 94.1,190.9 94.4,191.02 94.7,191.63 95,192.31 95.3,192.74 95.6,192.77 95.9,193.82 96.2,194.11 96.5,195.07 96.8,196.35 97.1,196.51 97.4,196.88 97.7,197.13 98,198.02 98.3,198.66 98.6,200.36 98.9,200.31 99.2,201.08 99.5,201.01 99.8,201.36 100.1,201.95 100.4,201.1 100.7,201.28 101,201.11 101.3,201.84 101.6,201.06 101.9,201.04 102.2,200.95 102.5,200.96 102.8,201.76 103.1,202.65 103.4,201.16 103.7,201.99 104,201.7 104.3,201.14 104.6,201.48 104.9,201.5 105.2,201.28 105.5,202.35 105.8,200.68 106.1,201.58 106.4,201.48 106.7,201 107,201.21 107.3,201.4 107.6,200.98 107.9,200.96 108.2,200.95 108.5,199.66 108.8,201 109.1,201.19 109.4,200.5 109.7,200.38 110,199.22 110.3,199.62 110.6,199.2 110.9,199.16 111.2,199.69 111.5,198.83 111.8,199.01 112.1,198.17 112.4,198.81 112.7,198.83 113,198.42 113.3,198.34 113.6,199.36 113.9,197.99 114.2,197.98 114.5,198.01 114.8,198.78 115.1,199.08 115.4,198.25 115.7,197.72 116,197.75 116.3,198.27 116.6,197.33 116.9,198.2 117.2,198.05 117.5,197.33 117.8,197.41 118.1,197.28 118.4,197.4 118.7,195.98 119,196.5 119.3,195.33 119.6,194.57 119.9,194.28 120.2,193.37 120.5,192.03 120.8,190.52 121.1,189.35 121.4,188.75 121.7,187.2 122,184.37 122.3,181.91 122.6,178.36 122.9,175.81 123.2,173.48 123.5,170.45 123.8,168.08 124.1,166.22 124.4,163.87 124.7,161.44 125,159.97 125.3,157.78 125.6,156.69 125.9,154.89 126.2,153.43 126.5,152.67 126.8,152.38 127.1,152.9 127.4,154.26 127.7,156.11 128,157.56 128.3,159.61 128.6,160.37 128.9,163.09 129.2,165.41 129.5,168.28 129.8,170.86 130.1,173.79 130.4,177.43 130.7,180.61 131,183.5 131.3,187.66 131.6,190.14 131.9,191.97 132.2,194.75 132.5,195.78 132.8,197.67 133.1,198.02 133.4,198.55 133.7,199.4 134,199.82 134.3,200.75 134.6,201.24 134.9,201.66 135.2,201.86 135.5,200.98 135.8,202.93 136.1,202.4 136.4,203.54 136.7,204.09 137,203.89 137.3,203.76 137.6,203.99 137.9,204.14 138.2,204.09 138.5,204.19 138.8,204.15 139.1,205.14 139.4,204.73 139.7,205.23 140,204.8 140.3,205.02 140.6,204.99 140.9,205.33 141.2,205.56 141.5,205.38 141.8,205.06 142.1,205.08 142.4,206.17 142.7,205.42 143,205.48 143.3,206.28 143.6,206.19 143.9,206.02 144.2,205.69 144.5,206.91 144.8,206.15 145.1,206.28 145.4,206.04 145.7,205.58 146,205.67 146.3,206.46 146.6,206.52 146.9,206.31 147.2,205.97 147.5,205.9 147.8,206.42 148.1,205.99 148.4,207.03 148.7,207.17 149,207.92 149.3,207.13 149.6,206.55 149.9,206.46 150.2,205.4 150.5,206.62 150.8,206.81 151.1,207.31 151.4,207.17 151.7,207.17 152,207.02 152.3,207.22 152.6,207.56 152.9,206.52 153.2,206.78 153.5,206.4 153.8,207.67 154.1,207.55 154.4,207.33 154.7,206.52 155,207.1 155.3,206.94 155.6,207.08 155.9,206.98 156.2,207.29 156.5,206.91 156.8,207.44 157.1,207.19 157.4,206.98 157.7,207.06 158,206.93 158.3,207.47 158.6,207.02 158.9,207.26 159.2,206.98 159.5,206.53 159.8,207.54 160.1,206.73 160.4,207.46 160.7,207.36 161,206.5 161.3,206.8 161.6,206.99 161.9,206.87 162.2,206.72 162.5,207.53 162.8,207.13 163.1,207.4 163.4,207.06 163.7,207.38 164,206.94 164.3,207.25 164.6,207.51 164.9,207.29 165.2,207.08 165.5,206.82 165.8,207.36 166.1,207.43 166.4,207.19 166.7,206.98 167,207.53 167.3,208.35 167.6,207.19 167.9,207.46 168.2,207.48 168.5,206.25 168.8,207.38 169.1,207.04 169.4,207.92 169.7,207.23 170,207.02 170.3,207.25 170.6,207.42 170.9,207.12 171.2,207.33 171.5,206.79 171.8,207.27 172.1,207.69 172.4,208.19 172.7,207.67 173,207.49 173.3,207.87 173.6,207.8 173.9,208.08 174.2,207.84 174.5,207.33 174.8,207.49 175.1,207.46 175.4,207.51 175.7,207.47 176,207.06 176.3,206.51 176.6,207.11 176.9,206.54 177.2,207.42 177.5,207.4 177.8,206.69 178.1,207.69 178.4,207.76 178.7,207.44 179,208.1 179.3,208.19 179.6,206.89 179.9,207.84 180.2,207.59 180.5,207.57 180.8,207.77 181.1,207.03 181.4,207.03 181.7,206.87 182,206.82 182.3,207.02 182.6,206.37 182.9,206.45 183.2,207.05 183.5,206.69 183.8,206.81 184.1,205.78 184.4,206.17 184.7,206.19 185,206.35 185.3,206 185.6,206.55 185.9,206.05 186.2,206 186.5,205.93 186.8,206.17 187.1,205.63 187.4,206.28 187.7,205.99 188,205.89 188.3,205.88 188.6,206.14 188.9,206.41 189.2,206.46 189.5,206.3 189.8,206.6 190.1,206.36 190.4,206.91 190.7,206.44 191,205.63 191.3,207.1 191.6,206.63 191.9,206.13 192.2,206.58 192.5,206.34 192.8,207.63 193.1,207 193.4,206.17 193.7,207.1 194,206.74 194.3,207.75 194.6,206.54 194.9,206.07 195.2,207.07 195.5,206.93 195.8,206.94 196.1,206.24 196.4,207.35 196.7,207.9 197,206.42 197.3,207.74 197.6,207.03 197.9,208.28 198.2,207.5 198.5,207.26 198.8,207.82 199.1,207.59 199.4,207.13 199.7,207.69 200,207.19 200.3,206.66 200.6,208.27 200.9,207.28 201.2,207.18 201.5,207.58 201.8,206.79 202.1,206.88 202.4,207.25 202.7,207.25 203,207.5 203.3,207.95 203.6,207.29 203.9,207.7 204.2,207.75 204.5,207.05 204.8,207.6 205.1,207.12 205.4,207.97 205.7,207.72 206,207.54 206.3,206.97 206.6,207.59 206.9,207.22 207.2,207.85 207.5,207.5 207.8,207.22 208.1,207.95 208.4,207.87 208.7,207.32 209,208.06 209.3,207.45 209.6,207.45 209.9,207.64 210.2,207.27 210.5,207.41 210.8,207.53 211.1,208.24 211.4,208.23 211.7,207.5 212,208.29 212.3,207.59 212.6,207.78 212.9,207.99 213.2,207.74 213.5,208.64 213.8,207.73 214.1,207.13 214.4,208.18 214.7,207.46 215,207.51 215.3,206.38 215.6,208.06 215.9,207.99 216.2,207.98 216.5,208.06 216.8,208.36 217.1,207.64 217.4,208.05 217.7,207.35 218,207.52 218.3,208.11 218.6,207.83 218.9,207.11 219.2,207.83 219.5,207.6 219.8,207.34 220.1,207.86 220.4,207.52 220.7,207.03 221,207.22 221.3,208.44 221.6,207.06 221.9,207.79 222.2,207.96 222.5,207.97 222.8,207.19 223.1,207.58 223.4,207.77 223.7,208.05 224,207.45 224.3,207.23 224.6,208.15 224.9,208.19 225.2,207.89 225.5,207.48 225.8,207.91 226.1,207.79 226.4,208.1 226.7,207.23 227,207.8 227.3,207.69 227.6,207.3 227.9,207.86 228.2,207.79 228.5,207.6 228.8,207.95 229.1,207.19 229.4,207.77 229.7,207.98 230,207.92 230.3,208.26 230.6,207.31 230.9,207.18 231.2,207.92 231.5,208.02 231.8,208.72 232.1,208.1 232.4,207.48 232.7,208.19 233,207.5 233.3,207.24 233.6,208.96 233.9,208.01 234.2,208.18 234.5,208.12 234.8,208.65 235.1,208.02 235.4,208.42 235.7,207.48 236,207.33 236.3,208.53 236.6,208.55 236.9,208.15 237.2,208.04 237.5,208.02 237.8,207.67 238.1,208.61 238.4,208.25 238.7,208.19 239,208.15 239.3,208.44 239.6,208.22 239.9,208.32 240.2,207.53 240.5,208.24 240.8,208.95 241.1,207.82 241.4,207.99 241.7,208.43 242,208.47 242.3,208.33 242.6,207.4 242.9,208.3 243.2,207.6 243.5,207.76 243.8,208.34 244.1,207.99 244.4,208.47 244.7,209.46 245,208.47 245.3,208.45 245.6,207.78 245.9,207.89 246.2,207.73 246.5,207.96 246.8,207.73 247.1,207.92 247.4,208.12 247.7,207.79 248,207.62 248.3,207.65 248.6,208.42 248.9,208.27 249.2,208.68 249.5,208.7 249.8,208.12 250.1,208.55 250.4,207.67 250.7,209.25 251,208.8 251.3,208.21 251.6,207.82 251.9,208.48 252.2,207.54 252.5,208.01 252.8,208.65 253.1,208.38 253.4,208.15 253.7,208.76 254,207.93 254.3,208.5 254.6,208.17 254.9,208.03 255.2,208.59 255.5,207.99 255.8,209.21 256.1,208.17 256.4,209.26 256.7,207.97 257,208.69 257.3,207.94 257.6,207.89 257.9,208.52 258.2,208.75 258.5,207.93 258.8,208.97 259.1,208.15 259.4,208.54 259.7,208.65 260,208.75 260.3,207.75 260.6,209.19 260.9,208.75 261.2,208.34 261.5,208.1 261.8,207.82 262.1,207.97 262.4,208.77 262.7,208.41 263,208.08 263.3,208.34 263.6,209.22 263.9,208.43 264.2,208.33 264.5,209.15 264.8,208.78 265.1,208.61 265.4,208.34 265.7,207.95 266,208.12 266.3,208.41 266.6,208.53 266.9,208.77 267.2,208.86 267.5,208.73 267.8,208.73 268.1,208.22 268.4,207.75 268.7,208.44 269,208.26 269.3,208.39 269.6,208.55 269.9,208.15 270.2,208.21 270.5,208.64 270.8,208.74 271.1,208.42 271.4,208.91 271.7,208.61 272,208.28 272.3,208.73 272.6,209.51 272.9,208.44 273.2,209.22 273.5,209.31 273.8,209.37 274.1,208.4 274.4,209.59 274.7,208.8 275,208.65 275.3,208.66 275.6,209.02 275.9,208.79 276.2,208.7 276.5,209.32 276.8,208.48 277.1,208.35 277.4,209.13 277.7,209.09 278,209.26 278.3,208.36 278.6,209.27 278.9,209.02 279.2,209.56 279.5,208.3 279.8,208.92 280.1,208.72 280.4,208.17 280.7,208.55 281,209.32 281.3,208.66 281.6,208.56 281.9,209.23 282.2,209.29 282.5,209.29 282.8,208.55 283.1,208.86 283.4,209.32 283.7,208.62 284,208.58 284.3,209.25 284.6,209.56 284.9,208.43 285.2,207.83 285.5,208.31 285.8,208.5 286.1,208.88 286.4,209.2 286.7,208.88 287,208.65 287.3,209.02 287.6,208.55 287.9,208.94 288.2,208.7 288.5,210.1 288.8,209.32 289.1,208.63 289.4,208.57 289.7,208.81 290,208.31 290.3,208.7 290.6,208.7 290.9,209.39 291.2,208.84 291.5,208.69 291.8,208.47 292.1,208.54 292.4,209.01 292.7,208.96 293,209.53 293.3,208.79 293.6,209.51 293.9,209.18 294.2,209.07 294.5,208.24 294.8,208.54 295.1,209.4 295.4,209.68 295.7,209.19 296,209.43 296.3,208.94 296.6,208.96 296.9,208.84 297.2,209.54 297.5,209.28 297.8,209.04 298.1,209.01 298.4,209.38 298.7,209.29 299,208.81 299.3,209.89 299.6,209.28 299.9,209.18 300.2,209.8 300.5,209.62 300.8,209.16 301.1,209.43 301.4,208.76 301.7,208.94 302,208.27 302.3,209.73 302.6,208.43 302.9,209.52 303.2,208.89 303.5,208.83 303.8,209.17 304.1,209.37 304.4,209.52 304.7,210.01 305,209.42 305.3,209.65 305.6,209.03 305.9,209.59 306.2,209.36 306.5,209.11 306.8,209.27 307.1,209.29 307.4,209.4 307.7,209.49 308,209.12 308.3,209.02 308.6,209.65 308.9,208.63 309.2,209.09 309.5,210.01 309.8,208.23 310.1,209.08 310.4,209.66 310.7,208.69 311,210.48 311.3,208.3 311.6,210 311.9,210.06 312.2,209.79 312.5,209.32 312.8,209.57 313.1,209.05 313.4,209.77 313.7,208.97 314,209.33 314.3,209.87 314.6,208.99 314.9,209.31 315.2,209.54 315.5,208.91 315.8,209.97 316.1,209.63 316.4,208.85 316.7,209.48 317,209.18 317.3,209.23 317.6,209.55 317.9,209.22 318.2,209.93 318.5,209.24 318.8,209.95 319.1,209.52 319.4,209.91 319.7,209.33 320,209.35 320.3,209.08 320.6,209.82 320.9,209.97 321.2,210.47 321.5,210.13 321.8,209.7" fill="none" stroke="#333333" stroke-width="1.4" stroke-linejoin="round" stroke-linecap="round" />
<text x="321.5" y="67.7" font-size="12.4" text-anchor="end" fill="#222" stroke="#222" >Cu/S-paper</text>
<text x="321" y="134.5" font-size="12.4" text-anchor="end" fill="#222" stroke="#222" >S-paper</text>
<text x="319.8" y="202" font-size="12.4" text-anchor="end" fill="#222" stroke="#222" >paper</text>
<rect x="371" y="3" width="301.5" height="221.3" fill="none" stroke="#555" stroke-width="1.1"/>
<line x1="374.3" y1="224.3" x2="374.3" y2="227.8" stroke="#555" stroke-width="1.0" />
<line x1="415.2" y1="224.3" x2="415.2" y2="227.8" stroke="#555" stroke-width="1.0" />
<line x1="456.1" y1="224.3" x2="456.1" y2="227.8" stroke="#555" stroke-width="1.0" />
<line x1="497" y1="224.3" x2="497" y2="227.8" stroke="#555" stroke-width="1.0" />
<line x1="537.9" y1="224.3" x2="537.9" y2="227.8" stroke="#555" stroke-width="1.0" />
<line x1="578.8" y1="224.3" x2="578.8" y2="227.8" stroke="#555" stroke-width="1.0" />
<line x1="619.7" y1="224.3" x2="619.7" y2="227.8" stroke="#555" stroke-width="1.0" />
<line x1="660.6" y1="224.3" x2="660.6" y2="227.8" stroke="#555" stroke-width="1.0" />
<line x1="394.75" y1="224.3" x2="394.75" y2="226.3" stroke="#555" stroke-width="1.0" />
<line x1="435.65" y1="224.3" x2="435.65" y2="226.3" stroke="#555" stroke-width="1.0" />
<line x1="476.55" y1="224.3" x2="476.55" y2="226.3" stroke="#555" stroke-width="1.0" />
<line x1="517.45" y1="224.3" x2="517.45" y2="226.3" stroke="#555" stroke-width="1.0" />
<line x1="558.35" y1="224.3" x2="558.35" y2="226.3" stroke="#555" stroke-width="1.0" />
<line x1="599.25" y1="224.3" x2="599.25" y2="226.3" stroke="#555" stroke-width="1.0" />
<line x1="640.15" y1="224.3" x2="640.15" y2="226.3" stroke="#555" stroke-width="1.0" />
<text x="374.3" y="240.2" font-size="10" text-anchor="middle" fill="#222" stroke="#222" >4000</text>
<text x="415.2" y="240.2" font-size="10" text-anchor="middle" fill="#222" stroke="#222" >3500</text>
<text x="456.1" y="240.2" font-size="10" text-anchor="middle" fill="#222" stroke="#222" >3000</text>
<text x="497" y="240.2" font-size="10" text-anchor="middle" fill="#222" stroke="#222" >2500</text>
<text x="537.9" y="240.2" font-size="10" text-anchor="middle" fill="#222" stroke="#222" >2000</text>
<text x="578.8" y="240.2" font-size="10" text-anchor="middle" fill="#222" stroke="#222" >1500</text>
<text x="619.7" y="240.2" font-size="10" text-anchor="middle" fill="#222" stroke="#222" >1000</text>
<text x="660.6" y="240.2" font-size="10" text-anchor="middle" fill="#222" stroke="#222" >500</text>
<text x="360.2" y="113.9" font-size="12.6" text-anchor="middle" fill="#222" stroke="#222" transform="rotate(-90 360.2 113.9)" >Transmittance</text>
<text x="521.8" y="262.1" font-size="12.5" text-anchor="middle" fill="#222" stroke="#222" >Wavenumber (cm<tspan font-size="8" dy="-5.6">-1</tspan><tspan dy="5.6">)</tspan></text>
<text x="349.5" y="17" font-size="13" text-anchor="start" fill="#222" stroke="#222" >(b)</text>
<polyline points="374.1,33.11 374.4,33.14 374.7,33.2 375,33.25 375.3,33.2 375.6,33.12 375.9,33.12 376.2,33.19 376.5,33.21 376.8,33.2 377.1,33.19 377.4,33.14 377.7,33.07 378,33.02 378.3,33.01 378.6,33.04 378.9,33.05 379.2,32.37 379.5,32.73 379.8,33.14 380.1,33.11 380.4,32.63 380.7,32.19 381,32.12 381.3,32.4 381.6,32.97 381.9,33.54 382.2,34.08 382.5,34.49 382.8,34.37 383.1,33.96 383.4,33.64 383.7,33.68 384,33.9 384.3,33.76 384.6,33.51 384.9,33.74 385.2,34.07 385.5,33.98 385.8,33.35 386.1,32.73 386.4,32.95 386.7,33.55 387,33.4 387.3,32.88 387.6,32.65 387.9,32.16 388.2,31.33 388.5,31 388.8,31.6 389.1,32.55 389.4,33.09 389.7,33.28 390,33.31 390.3,32.91 390.6,32.3 390.9,32.11 391.2,32.12 391.5,32.18 391.8,32.46 392.1,32.69 392.4,32.58 392.7,32.58 393,33.14 393.3,33.48 393.6,32.93 393.9,32.59 394.2,33.11 394.5,33.62 394.8,33.55 395.1,33.32 395.4,33.18 395.7,32.81 396,32.5 396.3,32.74 396.6,33.35 396.9,33.89 397.2,34.07 397.5,34.07 397.8,34.09 398.1,33.95 398.4,33.41 398.7,32.66 399,32.45 399.3,32.7 399.6,32.76 399.9,32.86 400.2,33.03 400.5,33.15 400.8,33.33 401.1,33.29 401.4,33.27 401.7,34.05 402,34.73 402.3,34.51 402.6,34.26 402.9,34.45 403.2,34.32 403.5,33.72 403.8,33.45 404.1,33.65 404.4,33.96 404.7,34.18 405,34.17 405.3,33.98 405.6,33.78 405.9,33.66 406.2,34.28 406.5,34.42 406.8,34.55 407.1,34.71 407.4,34.88 407.7,34.97 408,35.06 408.3,35.2 408.6,35.34 408.9,35.48 409.2,35.67 409.5,35.89 409.8,36.09 410.1,36.3 410.4,36.56 410.7,36.77 411,36.91 411.3,37.11 411.6,37.33 411.9,37.53 412.2,37.8 412.5,38.14 412.8,38.43 413.1,38.68 413.4,38.86 413.7,39.03 414,39.28 414.3,39.58 414.6,39.86 414.9,40.09 415.2,40.33 415.5,40.62 415.8,40.91 416.1,41.12 416.4,41.28 416.7,41.51 417,41.79 417.3,42.04 417.6,42.28 417.9,42.55 418.2,42.88 418.5,43.24 418.8,43.57 419.1,43.88 419.4,44.2 419.7,44.52 420,44.83 420.3,45.02 420.6,45.12 420.9,45.2 421.2,45.39 421.5,45.79 421.8,46.25 422.1,46.62 422.4,46.91 422.7,47.22 423,47.49 423.3,47.69 423.6,47.91 423.9,48.25 424.2,48.64 424.5,48.98 424.8,49.27 425.1,49.57 425.4,49.94 425.7,50.31 426,50.65 426.3,50.98 426.6,51.28 426.9,51.51 427.2,51.76 427.5,52.15 427.8,52.63 428.1,53.03 428.4,53.34 428.7,53.31 429,53.33 429.3,53.34 429.6,53.37 429.9,53.46 430.2,53.55 430.5,53.52 430.8,53.41 431.1,53.34 431.4,53.31 431.7,53.33 432,53.28 432.3,53.16 432.6,53.03 432.9,52.92 433.2,52.87 433.5,52.89 433.8,52.69 434.1,52.39 434.4,52.01 434.7,51.66 435,51.35 435.3,50.99 435.6,50.62 435.9,50.34 436.2,50.13 436.5,49.91 436.8,49.66 437.1,49.42 437.4,49.18 437.7,48.89 438,48.61 438.3,48.37 438.6,48.18 438.9,47.96 439.2,47.7 439.5,47.41 439.8,47.08 440.1,46.78 440.4,46.6 440.7,46.48 441,46.35 441.3,46.15 441.6,45.9 441.9,45.68 442.2,45.45 442.5,45.16 442.8,44.83 443.1,44.54 443.4,44.29 443.7,44.07 444,43.9 444.3,43.72 444.6,43.51 444.9,43.27 445.2,42.98 445.5,42.67 445.8,42.4 446.1,42.18 446.4,42 446.7,41.85 447,41.67 447.3,41.42 447.6,41.17 447.9,40.92 448.2,40.72 448.5,40.59 448.8,40.51 449.1,40.46 449.4,40.4 449.7,40.31 450,40.17 450.3,39.99 450.6,39.81 450.9,39.66 451.2,39.54 451.5,39.38 451.8,39.23 452.1,39.16 452.4,39.07 452.7,38.84 453,38.57 453.3,38.36 453.6,38.25 453.9,38.2 454.2,38.14 454.5,38.08 454.8,38.03 455.1,37.88 455.4,37.65 455.7,37.47 456,37.33 456.3,37.18 456.6,37.03 456.9,36.92 457.2,37.07 457.5,37.19 457.8,37.31 458.1,37.44 458.4,37.55 458.7,37.64 459,37.77 459.3,37.9 459.6,37.96 459.9,37.97 460.2,38 460.5,38.09 460.8,38.43 461.1,38.79 461.4,39.11 461.7,39.41 462,39.8 462.3,40.2 462.6,40.54 462.9,40.86 463.2,41.18 463.5,41.45 463.8,41.71 464.1,42.07 464.4,42.15 464.7,42.05 465,41.85 465.3,41.54 465.6,41.21 465.9,40.95 466.2,40.74 466.5,40.52 466.8,40.33 467.1,40.2 467.4,40.06 467.7,39.85 468,39.58 468.3,39.28 468.6,39.04 468.9,38.92 469.2,38.84 469.5,38.66 469.8,38.43 470.1,38.25 470.4,38.15 470.7,38.04 471,37.88 471.3,37.71 471.6,37.53 471.9,37.33 472.2,37.14 472.5,37.03 472.8,36.98 473.1,36.91 473.4,36.8 473.7,36.71 474,36.61 474.3,36.46 474.6,36.39 474.9,36.41 475.2,36.37 475.5,36.19 475.8,36.01 476.1,35.97 476.4,36 476.7,36 477,35.92 477.3,35.81 477.6,35.74 477.9,35.71 478.2,35.69 478.5,35.64 478.8,35.52 479.1,35.35 479.4,35.19 479.7,35.11 480,35.1 480.3,35.14 480.6,35.2 480.9,35.18 481.2,35.04 481.5,34.88 481.8,34.81 482.1,34.81 482.4,34.83 482.7,34.78 483,34.64 483.3,34.53 483.6,34.5 483.9,34.56 484.2,34.69 484.5,34.83 484.8,34.91 485.1,34.96 485.4,35.06 485.7,35.14 486,35.14 486.3,35.14 486.6,35.2 486.9,35.29 487.2,35.41 487.5,35.55 487.8,35.61 488.1,35.58 488.4,35.62 488.7,35.71 489,35.78 489.3,35.77 489.6,35.78 489.9,35.78 490.2,35.75 490.5,35.71 490.8,35.71 491.1,35.71 491.4,35.72 491.7,35.73 492,35.7 492.3,35.64 492.6,35.57 492.9,35.48 493.2,35.44 493.5,35.45 493.8,35.46 494.1,35.44 494.4,35.44 494.7,35.48 495,35.48 495.3,35.48 495.6,35.52 495.9,35.53 496.2,35.52 496.5,35.51 496.8,35.48 497.1,35.47 497.4,35.46 497.7,35.4 498,35.36 498.3,35.33 498.6,35.3 498.9,35.32 499.2,35.41 499.5,35.38 499.8,35.25 500.1,35.15 500.4,35.09 500.7,35 501,34.91 501.3,34.89 501.6,34.89 501.9,34.89 502.2,34.88 502.5,34.82 502.8,34.7 503.1,34.56 503.4,34.44 503.7,34.38 504,34.35 504.3,34.29 504.6,34.24 504.9,34.25 505.2,34.31 505.5,34.29 505.8,34.15 506.1,34.03 506.4,33.99 506.7,33.96 507,33.89 507.3,33.78 507.6,33.68 507.9,33.59 508.2,33.53 508.5,33.49 508.8,33.46 509.1,33.44 509.4,33.6 509.7,33.75 510,33.85 510.3,33.94 510.6,34.02 510.9,34.13 511.2,34.26 511.5,34.39 511.8,34.52 512.1,34.59 512.4,34.63 512.7,34.74 513,34.88 513.3,35 513.6,35.05 513.9,35.13 514.2,35.31 514.5,35.51 514.8,35.62 515.1,35.69 515.4,35.75 515.7,35.84 516,36.02 516.3,36.22 516.6,36.38 516.9,36.49 517.2,36.56 517.5,36.65 517.8,36.79 518.1,36.98 518.4,37.15 518.7,37.22 519,37.23 519.3,37.28 519.6,37.4 519.9,37.53 520.2,37.58 520.5,37.66 520.8,37.81 521.1,37.98 521.4,38.09 521.7,38.15 522,38.27 522.3,38.39 522.6,38.47 522.9,38.6 523.2,38.79 523.5,38.91 523.8,38.93 524.1,39.02 524.4,39.23 524.7,39.38 525,39.04 525.3,38.76 525.6,38.6 525.9,38.43 526.2,38.2 526.5,37.92 526.8,37.65 527.1,37.46 527.4,37.29 527.7,37 528,36.64 528.3,36.41 528.6,36.42 528.9,36.39 529.2,36.34 529.5,36.36 529.8,36.41 530.1,36.41 530.4,36.41 530.7,36.41 531,36.44 531.3,36.45 531.6,36.59 531.9,36.76 532.2,36.98 532.5,37.19 532.8,37.34 533.1,37.47 533.4,37.63 533.7,37.82 534,38.01 534.3,38.2 534.6,38.38 534.9,38.48 535.2,38.54 535.5,38.65 535.8,38.74 536.1,38.65 536.4,38.48 536.7,38.3 537,38.25 537.3,38.31 537.6,38.34 537.9,38.26 538.2,38.16 538.5,38.09 538.8,38.04 539.1,37.97 539.4,37.88 539.7,37.73 540,37.5 540.3,37.28 540.6,37.12 540.9,37.04 541.2,37 541.5,36.94 541.8,36.81 542.1,36.62 542.4,36.42 542.7,36.25 543,36.11 543.3,35.97 543.6,35.78 543.9,35.57 544.2,35.42 544.5,35.29 544.8,35.28 545.1,35.29 545.4,35.23 545.7,35.06 546,34.85 546.3,34.72 546.6,34.67 546.9,34.61 547.2,34.56 547.5,34.58 547.8,34.56 548.1,34.47 548.4,34.37 548.7,34.31 549,34.26 549.3,34.2 549.6,34.21 549.9,34.24 550.2,34.18 550.5,34.05 550.8,33.9 551.1,33.8 551.4,33.76 551.7,33.72 552,33.67 552.3,33.67 552.6,33.67 552.9,33.53 553.2,33.32 553.5,33.18 553.8,33.18 554.1,33.25 554.4,33.25 554.7,33.13 555,32.97 555.3,32.87 555.6,32.84 555.9,32.8 556.2,32.81 556.5,33 556.8,33.18 557.1,33.26 557.4,33.29 557.7,33.4 558,33.62 558.3,33.84 558.6,34.25 558.9,34.63 559.2,35.05 559.5,35.49 559.8,35.88 560.1,36.15 560.4,36.4 560.7,36.33 561,36.06 561.3,35.7 561.6,35.46 561.9,35.49 562.2,35.57 562.5,35.46 562.8,35.16 563.1,34.65 563.4,34.07 563.7,34.22 564,34.71 564.3,35.31 564.6,35.71 564.9,35.96 565.2,36.13 565.5,36.24 565.8,36.42 566.1,36.76 566.4,37.13 566.7,37.42 567,37.6 567.3,37.53 567.6,37.38 567.9,37.35 568.2,37.43 568.5,37.45 568.8,37.47 569.1,37.79 569.4,38.09 569.7,37.95 570,37.78 570.3,37.93 570.6,38.14 570.9,38.17 571.2,38.14 571.5,38.17 571.8,38.39 572.1,38.58 572.4,38.36 572.7,37.74 573,37.41 573.3,37.31 573.6,37.19 573.9,36.9 574.2,36.43 574.5,36.02 574.8,35.78 575.1,35.51 575.4,35.08 575.7,34.68 576,34.44 576.3,34.27 576.6,34.03 576.9,33.79 577.2,33.63 577.5,33.38 577.8,33.01 578.1,32.72 578.4,32.53 578.7,32.22 579,32.16 579.3,32.43 579.6,32.9 579.9,33.51 580.2,34.08 580.5,34.44 580.8,34.79 581.1,35.34 581.4,36 581.7,36.41 582,36.46 582.3,36.43 582.6,36.73 582.9,37.27 583.2,37.67 583.5,37.95 583.8,38.23 584.1,38.59 584.4,39.06 584.7,39.5 585,39.8 585.3,40.08 585.6,39.74 585.9,39.5 586.2,39.38 586.5,39.2 586.8,38.83 587.1,38.27 587.4,37.56 587.7,36.97 588,37.49 588.3,38.05 588.6,38.43 588.9,38.68 589.2,39 589.5,39.61 589.8,40.35 590.1,40.83 590.4,41.05 590.7,41.4 591,41.95 591.3,42.47 591.6,42.92 591.9,43.16 592.2,43.46 592.5,43.98 592.8,44.4 593.1,44.66 593.4,45.06 593.7,45.5 594,45.78 594.3,45.29 594.6,44.65 594.9,44.42 595.2,44.35 595.5,44.11 595.8,43.52 596.1,42.64 596.4,41.73 596.7,40.97 597,40.33 597.3,39.7 597.6,39.25 597.9,38.93 598.2,38.97 598.5,39.2 598.8,39.21 599.1,38.78 599.4,38.15 599.7,37.58 600,37.04 600.3,36.62 600.6,36.5 600.9,36.52 601.2,36.27 601.5,35.84 601.8,35.62 602.1,35.52 602.4,35.19 602.7,34.64 603,34.08 603.3,33.72 603.6,33.53 603.9,33.2 604.2,32.7 604.5,32.32 604.8,33.16 605.1,33.99 605.4,34.83 605.7,35.69 606,38.25 606.3,40.74 606.6,43 606.9,45.09 607.2,47.21 607.5,47.24 607.8,46.4 608.1,45.59 608.4,44.59 608.7,43.32 609,42.99 609.3,45 609.6,47.12 609.9,49.17 610.2,51.2 610.5,53.35 610.8,55.6 611.1,57.77 611.4,59.93 611.7,59.05 612,58.22 612.3,57.32 612.6,56.33 612.9,55.34 613.2,56.91 613.5,59.72 613.8,62.32 614.1,64.81 614.4,67.25 614.7,69.85 615,72.72 615.3,74.4 615.6,75.91 615.9,77.39 616.2,78.81 616.5,78.88 616.8,78.42 617.1,78.07 617.4,78.46 617.7,79.09 618,79.76 618.3,80.29 618.6,79.09 618.9,78.19 619.2,77.62 619.5,77.03 619.8,76.36 620.1,75.59 620.4,74.5 620.7,73.32 621,72.42 621.3,71.89 621.6,71.4 621.9,69.46 622.2,66.75 622.5,64.11 622.8,61.65 623.1,59.01 623.4,55.99 623.7,52.87 624,50.99 624.3,49.77 624.6,48.57 624.9,47.45 625.2,46.45 625.5,45.39 625.8,44.21 626.1,43.04 626.4,42.47 626.7,41.94 627,41.39 627.3,41.29 627.6,41.46 627.9,41.45 628.2,41.17 628.5,40.85 628.8,40.34 629.1,39.71 629.4,38.95 629.7,38.18 630,37.53 630.3,36.9 630.6,36.11 630.9,35.38 631.2,34.84 631.5,34.31 631.8,33.81 632.1,33.89 632.4,33.88 632.7,33.63 633,33.21 633.3,32.9 633.6,32.9 633.9,33.09 634.2,33.12 634.5,32.85 634.8,32.37 635.1,32.12 635.4,32.21 635.7,32.21 636,32.16 636.3,32.19 636.6,32.22 636.9,32.11 637.2,32.01 637.5,32.07 637.8,32.15 638.1,32.33 638.4,32.58 638.7,32.5 639,32.13 639.3,31.94 639.6,32.11 639.9,32.28 640.2,32.17 640.5,31.94 640.8,31.88 641.1,32.05 641.4,32.41 641.7,32.7 642,32.72 642.3,32.59 642.6,33.6 642.9,34.66 643.2,35.71 643.5,36.95 643.8,38.22 644.1,39.24 644.4,40.09 644.7,40.89 645,41.4 645.3,42.1 645.6,43.18 645.9,44.43 646.2,45.45 646.5,46.11 646.8,46.55 647.1,46.99 647.4,47.58 647.7,48.35 648,48.65 648.3,47.89 648.6,47.02 648.9,45.98 649.2,44.94 649.5,44.09 649.8,44.97 650.1,46.07 650.4,47.24 650.7,48.24 651,49.18 651.3,50.14 651.6,50.93 651.9,51.64 652.2,51.69 652.5,51.69 652.8,51.59 653.1,51.42 653.4,51.26 653.7,51.32 654,51.59 654.3,51.79 654.6,51.88 654.9,52.06 655.2,52.38 655.5,52.61 655.8,52.65 656.1,53.88 656.4,55.72 656.7,57.67 657,56.76 657.3,55.87 657.6,55.09 657.9,54.29 658.2,53.27 658.5,52.3 658.8,51.64 659.1,50.97 659.4,50.35 659.7,49.57 660,48.7 660.3,47.9 660.6,47.33 660.9,46.97 661.2,46.53 661.5,45.9 661.8,45.21 662.1,44.5 662.4,43.93 662.7,43.5 663,42.9 663.3,42.06 663.6,41.26 663.9,40.73 664.2,41.22 664.5,41.65 664.8,41.72 665.1,41.59 665.4,41.53 665.7,41.65 666,41.98 666.3,42.41 666.6,41.94 666.9,40.94 667.2,39.91 667.5,39.01 667.8,38.07 668.1,36.89 668.4,35.79 668.7,34.92 669,34.08 669.3,33.32 669.6,32.57" fill="none" stroke="#1f4f9e" stroke-width="1.05" stroke-linejoin="round" stroke-linecap="round" />
<polyline points="374,88.98 374.3,89.02 374.6,89.08 374.9,89.16 375.2,89.15 375.5,89.06 375.8,88.99 376.1,88.99 376.4,89.05 376.7,89.07 377,89.03 377.3,88.99 377.6,88.93 377.9,88.91 378.2,89 378.5,89.13 378.8,89.17 379.1,89.29 379.4,89.02 379.7,88.76 380,88.63 380.3,89.23 380.6,89.87 380.9,89.72 381.2,89.4 381.5,89.22 381.8,89.1 382.1,89.32 382.4,89.66 382.7,89.66 383,89.44 383.3,89.31 383.6,89.46 383.9,89.85 384.2,90.12 384.5,89.71 384.8,88.76 385.1,88.35 385.4,88.84 385.7,89 386,88.28 386.3,87.74 386.6,88.1 386.9,88.66 387.2,88.77 387.5,88.96 387.8,89.52 388.1,89.84 388.4,89.62 388.7,89.38 389,89.67 389.3,90.21 389.6,90.1 389.9,89.23 390.2,88.53 390.5,88.6 390.8,89.05 391.1,89.41 391.4,89.75 391.7,89.93 392,89.97 392.3,89.91 392.6,89.59 392.9,89.34 393.2,89.66 393.5,89.9 393.8,89.51 394.1,89.36 394.4,89.52 394.7,89.23 395,88.74 395.3,88.85 395.6,89.69 395.9,90.48 396.2,90.65 396.5,90.34 396.8,89.86 397.1,89.37 397.4,89.17 397.7,89.31 398,89.74 398.3,90.16 398.6,90.13 398.9,89.87 399.2,89.7 399.5,89.29 399.8,88.83 400.1,88.64 400.4,88.74 400.7,89.16 401,89.58 401.3,89.74 401.6,89.72 401.9,89.49 402.2,89.1 402.5,88.84 402.8,88.86 403.1,88.95 403.4,89.11 403.7,89.25 404,88.96 404.3,88.5 404.6,88.59 404.9,89.4 405.2,90.32 405.5,90.99 405.8,91.47 406.1,90.65 406.4,90.7 406.7,90.7 407,90.72 407.3,90.81 407.6,90.98 407.9,91.16 408.2,91.3 408.5,91.42 408.8,91.54 409.1,91.68 409.4,91.8 409.7,91.9 410,91.96 410.3,92.02 410.6,92.13 410.9,92.3 411.2,92.44 411.5,92.56 411.8,92.71 412.1,92.85 412.4,92.91 412.7,92.96 413,93.05 413.3,93.18 413.6,93.38 413.9,93.68 414.2,94.02 414.5,94.3 414.8,94.58 415.1,94.88 415.4,95.18 415.7,95.45 416,95.75 416.3,96.11 416.6,96.47 416.9,96.78 417.2,97.04 417.5,97.35 417.8,97.8 418.1,98.24 418.4,98.5 418.7,98.68 419,98.91 419.3,99.22 419.6,99.56 419.9,99.91 420.2,100.28 420.5,100.64 420.8,100.92 421.1,101.14 421.4,101.41 421.7,101.7 422,102 422.3,102.36 422.6,102.76 422.9,103.22 423.2,103.66 423.5,104.18 423.8,104.68 424.1,105.07 424.4,105.4 424.7,105.73 425,106.11 425.3,106.59 425.6,107.1 425.9,107.62 426.2,108.09 426.5,108.48 426.8,108.82 427.1,109.15 427.4,109.43 427.7,109.78 428,110.22 428.3,110.71 428.6,110.9 428.9,110.95 429.2,111.01 429.5,110.99 429.8,110.89 430.1,110.78 430.4,110.73 430.7,110.67 431,110.6 431.3,110.52 431.6,110.47 431.9,110.42 432.2,110.35 432.5,110.19 432.8,109.97 433.1,109.8 433.4,109.69 433.7,109.44 434,109.11 434.3,108.81 434.6,108.48 434.9,108.1 435.2,107.67 435.5,107.3 435.8,107.02 436.1,106.72 436.4,106.38 436.7,106.03 437,105.7 437.3,105.36 437.6,104.97 437.9,104.52 438.2,104.09 438.5,103.72 438.8,103.42 439.1,103.14 439.4,102.89 439.7,102.66 440,102.35 440.3,101.99 440.6,101.68 440.9,101.46 441.2,101.24 441.5,100.96 441.8,100.68 442.1,100.42 442.4,100.18 442.7,99.9 443,99.56 443.3,99.21 443.6,98.92 443.9,98.71 444.2,98.48 444.5,98.19 444.8,97.83 445.1,97.41 445.4,97.05 445.7,96.83 446,96.65 446.3,96.46 446.6,96.23 446.9,95.97 447.2,95.68 447.5,95.38 447.8,95.19 448.1,95.09 448.4,95 448.7,94.84 449,94.76 449.3,94.71 449.6,94.56 449.9,94.37 450.2,94.26 450.5,94.19 450.8,94.05 451.1,93.88 451.4,93.75 451.7,93.67 452,93.57 452.3,93.4 452.6,93.15 452.9,92.97 453.2,92.93 453.5,92.9 453.8,92.79 454.1,92.65 454.4,92.49 454.7,92.28 455,92.09 455.3,91.93 455.6,91.8 455.9,91.71 456.2,91.57 456.5,91.34 456.8,91.12 457.1,91.14 457.4,91.31 457.7,91.46 458,91.55 458.3,91.64 458.6,91.79 458.9,91.96 459.2,92.1 459.5,92.21 459.8,92.27 460.1,92.31 460.4,92.4 460.7,92.75 461,93.15 461.3,93.43 461.6,93.63 461.9,93.89 462.2,94.29 462.5,94.8 462.8,95.32 463.1,95.73 463.4,96.08 463.7,96.44 464,96.81 464.3,96.97 464.6,96.73 464.9,96.45 465.2,96.19 465.5,96.06 465.8,95.94 466.1,95.73 466.4,95.48 466.7,95.26 467,95.1 467.3,94.92 467.6,94.64 467.9,94.28 468.2,93.98 468.5,93.78 468.8,93.62 469.1,93.51 469.4,93.44 469.7,93.28 470,93.06 470.3,92.96 470.6,92.85 470.9,92.69 471.2,92.5 471.5,92.28 471.8,92.09 472.1,91.97 472.4,91.91 472.7,91.83 473,91.66 473.3,91.5 473.6,91.41 473.9,91.36 474.2,91.28 474.5,91.17 474.8,91.03 475.1,90.92 475.4,90.87 475.7,90.85 476,90.83 476.3,90.86 476.6,90.84 476.9,90.75 477.2,90.68 477.5,90.6 477.8,90.46 478.1,90.32 478.4,90.27 478.7,90.29 479,90.28 479.3,90.23 479.6,90.2 479.9,90.17 480.2,90.05 480.5,89.9 480.8,89.84 481.1,89.83 481.4,89.78 481.7,89.66 482,89.53 482.3,89.41 482.6,89.33 482.9,89.32 483.2,89.34 483.5,89.4 483.8,89.41 484.1,89.43 484.4,89.47 484.7,89.56 485,89.68 485.3,89.75 485.6,89.78 485.9,89.78 486.2,89.79 486.5,89.81 486.8,89.89 487.1,90.02 487.4,90.13 487.7,90.21 488,90.27 488.3,90.35 488.6,90.41 488.9,90.47 489.2,90.47 489.5,90.42 489.8,90.39 490.1,90.39 490.4,90.41 490.7,90.47 491,90.51 491.3,90.47 491.6,90.36 491.9,90.3 492.2,90.33 492.5,90.4 492.8,90.44 493.1,90.42 493.4,90.4 493.7,90.41 494,90.41 494.3,90.48 494.6,90.58 494.9,90.6 495.2,90.53 495.5,90.43 495.8,90.38 496.1,90.39 496.4,90.41 496.7,90.39 497,90.36 497.3,90.37 497.6,90.41 497.9,90.47 498.2,90.49 498.5,90.39 498.8,90.24 499.1,90.17 499.4,90.15 499.7,90.19 500,90.24 500.3,90.21 500.6,90.13 500.9,90.03 501.2,89.91 501.5,89.79 501.8,89.74 502.1,89.79 502.4,89.83 502.7,89.83 503,89.84 503.3,89.81 503.6,89.69 503.9,89.57 504.2,89.5 504.5,89.48 504.8,89.48 505.1,89.47 505.4,89.47 505.7,89.43 506,89.33 506.3,89.23 506.6,89.14 506.9,89.05 507.2,88.98 507.5,88.95 507.8,88.92 508.1,88.9 508.4,88.86 508.7,88.74 509,88.61 509.3,88.62 509.6,88.67 509.9,88.74 510.2,88.87 510.5,89.04 510.8,89.26 511.1,89.48 511.4,89.67 511.7,89.81 512,89.9 512.3,89.95 512.6,90.02 512.9,90.1 513.2,90.18 513.5,90.32 513.8,90.5 514.1,90.67 514.4,90.79 514.7,90.91 515,90.98 515.3,91.03 515.6,91.12 515.9,91.26 516.2,91.45 516.5,91.66 516.8,91.87 517.1,91.98 517.4,92.04 517.7,92.13 518,92.27 518.3,92.46 518.6,92.64 518.9,92.72 519.2,92.8 519.5,92.98 519.8,93.22 520.1,93.41 520.4,93.52 520.7,93.6 521,93.72 521.3,93.88 521.6,94.05 521.9,94.23 522.2,94.36 522.5,94.45 522.8,94.52 523.1,94.6 523.4,94.75 523.7,94.94 524,95.07 524.3,95.15 524.6,95.33 524.9,95.36 525.2,95.25 525.5,95.02 525.8,94.67 526.1,94.33 526.4,94.11 526.7,93.95 527,93.75 527.3,93.53 527.6,93.33 527.9,93.17 528.2,92.91 528.5,92.65 528.8,92.58 529.1,92.59 529.4,92.58 529.7,92.57 530,92.51 530.3,92.38 530.6,92.29 530.9,92.26 531.2,92.27 531.5,92.44 531.8,92.64 532.1,92.76 532.4,92.87 532.7,93 533,93.13 533.3,93.31 533.6,93.48 533.9,93.57 534.2,93.65 534.5,93.75 534.8,93.85 535.1,94.01 535.4,94.24 535.7,94.41 536,94.36 536.3,94.3 536.6,94.26 536.9,94.29 537.2,94.41 537.5,94.51 537.8,94.46 538.1,94.3 538.4,94.16 538.7,94.09 539,94.09 539.3,94.12 539.6,94.11 539.9,94.01 540.2,93.78 540.5,93.54 540.8,93.34 541.1,93.16 541.4,92.94 541.7,92.75 542,92.6 542.3,92.49 542.6,92.39 542.9,92.26 543.2,92.07 543.5,91.86 543.8,91.65 544.1,91.41 544.4,91.16 544.7,91.03 545,90.95 545.3,90.88 545.6,90.87 545.9,90.88 546.2,90.86 546.5,90.75 546.8,90.62 547.1,90.64 547.4,90.73 547.7,90.71 548,90.59 548.3,90.38 548.6,90.19 548.9,90.15 549.2,90.18 549.5,90.15 549.8,90.04 550.1,89.93 550.4,89.83 550.7,89.75 551,89.79 551.3,89.9 551.6,89.9 551.9,89.79 552.2,89.65 552.5,89.45 552.8,89.25 553.1,89.18 553.4,89.24 553.7,89.31 554,89.31 554.3,89.19 554.6,89.01 554.9,88.91 555.2,88.88 555.5,88.8 555.8,88.65 556.1,88.58 556.4,88.82 556.7,89.01 557,89.13 557.3,89.26 557.6,89.45 557.9,89.62 558.2,89.78 558.5,90.27 558.8,90.87 559.1,91.45 559.4,92.04 559.7,92.7 560,93.2 560.3,94.27 560.6,94.67 560.9,94.13 561.2,93.57 561.5,93.11 561.8,92.92 562.1,92.83 562.4,92.55 562.7,92.22 563,92.03 563.3,91.74 563.6,91.44 563.9,91.14 564.2,90.84 564.5,90.87 564.8,91.22 565.1,91.48 565.4,91.52 565.7,91.53 566,91.72 566.3,92.04 566.6,92.13 566.9,91.9 567.2,91.76 567.5,91.88 567.8,91.98 568.1,91.94 568.4,91.94 568.7,91.89 569,91.56 569.3,91.04 569.6,90.6 569.9,90.44 570.2,90.61 570.5,90.85 570.8,91.03 571.1,91.18 571.4,91.25 571.7,91.15 572,91.09 572.3,91.15 572.6,91.14 572.9,91.19 573.2,91.23 573.5,91.23 573.8,91.18 574.1,90.91 574.4,90.45 574.7,89.97 575,89.67 575.3,89.64 575.6,89.7 575.9,89.67 576.2,89.4 576.5,88.96 576.8,88.73 577.1,88.86 577.4,89.06 577.7,88.95 578,88.71 578.3,88.83 578.6,89.06 578.9,89.12 579.2,89.06 579.5,89.13 579.8,89.47 580.1,89.79 580.4,89.95 580.7,90.38 581,90.69 581.3,91.11 581.6,91.63 581.9,92.07 582.2,92.43 582.5,92.84 582.8,93.38 583.1,94.04 583.4,94.64 583.7,95.12 584,95.45 584.3,95.7 584.6,96.21 584.9,96.78 585.2,97.09 585.5,96.88 585.8,96.62 586.1,96.2 586.4,95.6 586.7,95.04 587,94.43 587.3,93.9 587.6,93.52 587.9,93.71 588.2,94.15 588.5,94.64 588.8,95.22 589.1,95.87 589.4,96.51 589.7,96.97 590,97.19 590.3,97.42 590.6,97.95 590.9,98.82 591.2,99.56 591.5,99.94 591.8,100.14 592.1,100.41 592.4,100.75 592.7,101.19 593,101.65 593.3,102.1 593.6,102.44 593.9,102.68 594.2,102.66 594.5,102.26 594.8,102.2 595.1,102.42 595.4,102.35 595.7,101.63 596,100.71 596.3,100.06 596.6,99.56 596.9,99.02 597.2,98.64 597.5,98.4 597.8,98.23 598.1,98.09 598.4,97.68 598.7,96.96 599,96.22 599.3,95.65 599.6,95.39 599.9,95.34 600.2,95.18 600.5,94.79 600.8,94.27 601.1,93.73 601.4,93.21 601.7,92.81 602,92.68 602.3,92.64 602.6,92.28 602.9,91.7 603.2,91.35 603.5,91.19 603.8,90.74 604.1,90.02 604.4,89.57 604.7,89.89 605,90.36 605.3,90.67 605.6,91.08 605.9,91.66 606.2,92.21 606.5,96.65 606.8,100.99 607.1,105.54 607.4,108.19 607.7,106.59 608,104.85 608.3,103.16 608.6,101.49 608.9,99.86 609.2,102.3 609.5,104.83 609.8,107.48 610.1,110.24 610.4,113.03 610.7,115.63 611,117.97 611.3,120.31 611.6,119.99 611.9,118.27 612.2,116.85 612.5,115.79 612.8,114.63 613.1,114.64 613.4,117.46 613.7,120.36 614,123.52 614.3,126.72 614.6,129.72 614.9,132.65 615.2,134.76 615.5,136.67 615.8,138.66 616.1,140.36 616.4,141.05 616.7,140.34 617,139.87 617.3,139.8 617.6,140.42 617.9,140.94 618.2,141.55 618.5,141.42 618.8,140.94 619.1,140.21 619.4,139.21 619.7,138.36 620,137.77 620.3,137.13 620.6,136.5 620.9,136 621.2,135.53 621.5,134.97 621.8,133.51 622.1,130.53 622.4,127.63 622.7,124.74 623,121.88 623.3,119.21 623.6,116.62 623.9,114.38 624.2,113.01 624.5,111.59 624.8,110.09 625.1,108.66 625.4,107.24 625.7,105.67 626,103.97 626.3,102.83 626.6,102.82 626.9,102.84 627.2,102.51 627.5,101.96 627.8,101.57 628.1,101.4 628.4,101.41 628.7,101.26 629,100.47 629.3,99.47 629.6,98.62 629.9,97.76 630.2,96.78 630.5,95.88 630.8,95.12 631.1,94.41 631.4,93.61 631.7,92.76 632,92.46 632.3,92.41 632.6,92.33 632.9,92.19 633.2,91.98 633.5,91.73 633.8,91.37 634.1,90.93 634.4,90.63 634.7,90.6 635,90.57 635.3,90.22 635.6,89.66 635.9,89.45 636.2,89.52 636.5,89.53 636.8,89.77 637.1,90.11 637.4,90.11 637.7,89.97 638,90.05 638.3,90.14 638.6,90.04 638.9,89.83 639.2,89.59 639.5,89.42 639.8,89.49 640.1,89.72 640.4,89.92 640.7,89.85 641,89.43 641.3,89.09 641.6,89.22 641.9,89.53 642.2,89.65 642.5,90.38 642.8,91.57 643.1,92.82 643.4,93.96 643.7,95.04 644,96.07 644.3,97.15 644.6,98.21 644.9,98.9 645.2,99.7 645.5,100.72 645.8,101.66 646.1,102.48 646.4,103.24 646.7,104.11 647,104.97 647.3,105.55 647.6,105.98 647.9,106.57 648.2,105.94 648.5,105.44 648.8,104.77 649.1,103.91 649.4,103.04 649.7,103.2 650,103.86 650.3,104.65 650.6,105.52 650.9,106.36 651.2,107.19 651.5,108.04 651.8,109.06 652.1,109.72 652.4,109.94 652.7,109.95 653,109.93 653.3,110.03 653.6,110.23 653.9,110.44 654.2,110.44 654.5,110.18 654.8,109.83 655.1,109.39 655.4,109.07 655.7,109.28 656,110.71 656.3,113.77 656.6,116.67 656.9,117.01 657.2,115.97 657.5,114.87 657.8,113.89 658.1,112.8 658.4,111.44 658.7,110.14 659,109.03 659.3,108.08 659.6,107.21 659.9,106.45 660.2,105.84 660.5,105.32 660.8,104.74 661.1,103.96 661.4,102.98 661.7,102 662,101.27 662.3,100.71 662.6,100.18 662.9,99.54 663.2,98.58 663.5,97.68 663.8,97.02 664.1,97.1 664.4,97.45 664.7,97.88 665,98.48 665.3,99.06 665.6,99.5 665.9,99.9 666.2,100.4 666.5,100.29 666.8,98.71 667.1,97.04 667.4,95.79 667.7,94.85 668,93.95 668.3,93.02 668.6,91.98 668.9,90.75 669.2,89.41 669.5,88.12" fill="none" stroke="#c41a20" stroke-width="1.05" stroke-linejoin="round" stroke-linecap="round" />
<polyline points="374,153.48 374.2,152.31 374.4,152.79 374.6,153.45 374.8,152.84 375,151.59 375.2,152.89 375.4,152.5 375.6,152.66 375.8,153.31 376,153.01 376.2,152.62 376.4,153.29 376.6,153.04 376.8,152.87 377,153 377.2,152.99 377.4,152.65 377.6,152.59 377.8,152.9 378,152.31 378.2,152.13 378.4,153.74 378.6,152.79 378.8,152.94 379,152.89 379.2,153.01 379.4,153.02 379.6,153.06 379.8,152.5 380,153.68 380.2,152.6 380.4,153.79 380.6,151.77 380.8,152.37 381,153.82 381.2,153.03 381.4,152.58 381.6,153.52 381.8,152.14 382,153.28 382.2,150.67 382.4,152.68 382.6,152.4 382.8,154 383,154.54 383.2,151.99 383.4,155.88 383.6,152.33 383.8,149.74 384,149.01 384.2,156.29 384.4,153.21 384.6,152.07 384.8,151.82 385,151.02 385.2,156.41 385.4,153.27 385.6,157.41 385.8,153.05 386,148.33 386.2,155.37 386.4,152.72 386.6,153.02 386.8,157.01 387,153 387.2,156.15 387.4,153.59 387.6,151.97 387.8,154.75 388,152.33 388.2,156.37 388.4,155.79 388.6,153.83 388.8,155.05 389,154.97 389.2,153.13 389.4,155.72 389.6,153.27 389.8,155.14 390,151.71 390.2,154.05 390.4,154.76 390.6,152.13 390.8,152.98 391,152.74 391.2,155.54 391.4,152.38 391.6,154.95 391.8,157.36 392,154.82 392.2,150.51 392.4,154.35 392.6,156.39 392.8,153.49 393,156.59 393.2,155.53 393.4,155.12 393.6,153.64 393.8,153.11 394,153.7 394.2,154.42 394.4,155.46 394.6,155.25 394.8,153.69 395,154.52 395.2,155.25 395.4,150.84 395.6,152.75 395.8,152.71 396,154.04 396.2,153.9 396.4,153.97 396.6,152.64 396.8,156.06 397,155.21 397.2,151.01 397.4,154.68 397.6,152.19 397.8,158.44 398,153.71 398.2,153.87 398.4,154.94 398.6,154.34 398.8,154.68 399,158.23 399.2,155.35 399.4,156.71 399.6,157.38 399.8,152.77 400,158.66 400.2,156.48 400.4,157.09 400.6,153.11 400.8,156.83 401,155.96 401.2,153.89 401.4,160.12 401.6,156.37 401.8,154.61 402,155.59 402.2,157.19 402.4,157.7 402.6,156.51 402.8,157.93 403,158.51 403.2,152.58 403.4,154.25 403.6,153.28 403.8,155.64 404,158.68 404.2,157 404.4,153.45 404.6,155.14 404.8,157.93 405,154.85 405.2,155.8 405.4,156.66 405.6,152.73 405.8,157.67 406,156.93 406.2,157.4 406.4,154.79 406.6,155.27 406.8,155.66 407,157.12 407.2,156.91 407.4,157.07 407.6,159.61 407.8,158.92 408,156.11 408.2,156.31 408.4,159.55 408.6,156.96 408.8,159.15 409,159.44 409.2,157.02 409.4,157.47 409.6,157.99 409.8,157.13 410,157.17 410.2,157.89 410.4,159.17 410.6,158.13 410.8,158.47 411,158.4 411.2,157.86 411.4,160.07 411.6,157.57 411.8,158.85 412,159.72 412.2,158.75 412.4,159.94 412.6,160.34 412.8,159.52 413,160.09 413.2,159.75 413.4,160.41 413.6,160.4 413.8,160.55 414,160.97 414.2,161.04 414.4,161.42 414.6,161.52 414.8,161.41 415,161.9 415.2,162.16 415.4,162.04 415.6,162.77 415.8,162.76 416,163.04 416.2,163.04 416.4,163.44 416.6,163.7 416.8,163.81 417,164.11 417.2,163.94 417.4,164.79 417.6,164.57 417.8,164.6 418,165.05 418.2,165.3 418.4,165.77 418.6,165.73 418.8,166.17 419,166.17 419.2,166.97 419.4,166.89 419.6,167.37 419.8,167.06 420,167.59 420.2,167.52 420.4,168.02 420.6,168.26 420.8,168.08 421,168.39 421.2,168.66 421.4,168.94 421.6,169.42 421.8,169.72 422,169.98 422.2,170.6 422.4,171.02 422.6,171.02 422.8,171.5 423,171.95 423.2,172.24 423.4,172.5 423.6,173.11 423.8,173.46 424,173.77 424.2,173.95 424.4,174.69 424.6,174.99 424.8,174.94 425,175.33 425.2,175.91 425.4,175.89 425.6,176.45 425.8,176.73 426,176.93 426.2,177.36 426.4,177.46 426.6,177.98 426.8,178.05 427,179.16 427.2,179.35 427.4,179.64 427.6,179.81 427.8,180.27 428,180.66 428.2,180.95 428.4,181.27 428.6,180.89 428.8,181.09 429,180.87 429.2,180.7 429.4,180.66 429.6,180.9 429.8,180.97 430,180.49 430.2,181 430.4,180.9 430.6,180.52 430.8,180.46 431,180.49 431.2,180.55 431.4,180.18 431.6,179.92 431.8,180.05 432,179.49 432.2,179.76 432.4,179.81 432.6,179.53 432.8,179.49 433,179.31 433.2,179.22 433.4,178.99 433.6,178.57 433.8,178.32 434,177.99 434.2,177.88 434.4,177.59 434.6,177.01 434.8,176.45 435,176.09 435.2,175.83 435.4,175.76 435.6,175.21 435.8,174.79 436,174.3 436.2,174.24 436.4,173.78 436.6,173.36 436.8,173.03 437,172.96 437.2,172.27 437.4,172.38 437.6,172.07 437.8,171.63 438,171.55 438.2,171.14 438.4,170.79 438.6,170.66 438.8,170.32 439,170.35 439.2,170.03 439.4,169.9 439.6,169.72 439.8,168.78 440,169.17 440.2,168.56 440.4,168.69 440.6,168.28 440.8,168.22 441,168.22 441.2,167.44 441.4,167.56 441.6,167.28 441.8,166.73 442,166.96 442.2,166.62 442.4,166.29 442.6,166.03 442.8,166.51 443,165.63 443.2,165.15 443.4,165.08 443.6,164.96 443.8,164.72 444,164.55 444.2,164.15 444.4,164.21 444.6,163.8 444.8,163.41 445,163.28 445.2,163.13 445.4,163.13 445.6,162.83 445.8,162.46 446,162.3 446.2,162.1 446.4,162.2 446.6,161.5 446.8,161.47 447,161.29 447.2,160.76 447.4,160.73 447.6,160.6 447.8,160.36 448,160.41 448.2,160.37 448.4,160.26 448.6,159.89 448.8,159.83 449,160.09 449.2,159.34 449.4,159.45 449.6,159.44 449.8,159.18 450,159.14 450.2,158.92 450.4,158.9 450.6,158.86 450.8,158.46 451,158.41 451.2,158.24 451.4,158.04 451.6,157.98 451.8,157.65 452,157.86 452.2,157.91 452.4,157.78 452.6,157.57 452.8,157.04 453,157.36 453.2,156.83 453.4,156.82 453.6,157.03 453.8,156.37 454,156.59 454.2,156.36 454.4,156.15 454.6,155.89 454.8,156 455,155.71 455.2,155.85 455.4,155.75 455.6,155.16 455.8,155.18 456,155.09 456.2,154.8 456.4,154.69 456.6,154.77 456.8,154.59 457,154.2 457.2,154.48 457.4,154.76 457.6,154.53 457.8,154.66 458,155.19 458.2,155.23 458.4,154.78 458.6,154.91 458.8,155.3 459,155.1 459.2,155.35 459.4,155.4 459.6,155.66 459.8,155.19 460,155.33 460.2,155.59 460.4,156.07 460.6,155.94 460.8,155.75 461,156.23 461.2,156.35 461.4,156.26 461.6,156.71 461.8,157.32 462,157.93 462.2,158.2 462.4,158.74 462.6,159.11 462.8,159.52 463,159.89 463.2,160.57 463.4,160.94 463.6,161.42 463.8,162.1 464,162.49 464.2,162.42 464.4,161.84 464.6,162.08 464.8,161.74 465,161.56 465.2,161.41 465.4,161.65 465.6,161.44 465.8,161.02 466,160.81 466.2,160.88 466.4,160.65 466.6,160.9 466.8,160.2 467,159.99 467.2,160.14 467.4,160.05 467.6,159.93 467.8,159.9 468,160 468.2,159.43 468.4,159.25 468.6,158.89 468.8,159.12 469,159.09 469.2,158.75 469.4,158.87 469.6,158.52 469.8,158.65 470,158.3 470.2,157.91 470.4,157.85 470.6,157.55 470.8,157.37 471,157.6 471.2,157.57 471.4,157.62 471.6,157.12 471.8,156.95 472,156.65 472.2,156.89 472.4,156.65 472.6,156.33 472.8,156.42 473,156.36 473.2,155.88 473.4,156.31 473.6,156.16 473.8,156.03 474,155.98 474.2,156.33 474.4,156.26 474.6,156.27 474.8,155.69 475,155.74 475.2,155.98 475.4,155.56 475.6,155.61 475.8,155.38 476,155.99 476.2,155.81 476.4,155.66 476.6,155.58 476.8,155.42 477,155.39 477.2,155.53 477.4,155.25 477.6,155.56 477.8,155.21 478,155.1 478.2,155.45 478.4,155.15 478.6,155.24 478.8,155.03 479,154.65 479.2,155.12 479.4,154.74 479.6,155.13 479.8,154.62 480,154.52 480.2,154.88 480.4,154.86 480.6,154.76 480.8,154.48 481,154.82 481.2,154.36 481.4,154.5 481.6,154.4 481.8,154.43 482,154.61 482.2,154.31 482.4,154.48 482.6,154.46 482.8,153.99 483,154.05 483.2,154.15 483.4,154.1 483.6,154.28 483.8,153.9 484,154.4 484.2,154.42 484.4,154.28 484.6,154.08 484.8,154.35 485,154.27 485.2,154.49 485.4,154.39 485.6,154.56 485.8,154.37 486,154.73 486.2,154.07 486.4,154.32 486.6,154.61 486.8,154.27 487,154.7 487.2,154.36 487.4,154.62 487.6,154.46 487.8,154.56 488,154.69 488.2,154.66 488.4,154.63 488.6,155.11 488.8,154.74 489,154.59 489.2,154.95 489.4,154.95 489.6,155.04 489.8,155.16 490,154.69 490.2,155.07 490.4,155.1 490.6,154.92 490.8,154.98 491,154.42 491.2,154.87 491.4,155.32 491.6,154.69 491.8,154.94 492,155.11 492.2,155.18 492.4,155.39 492.6,154.8 492.8,155.14 493,155.31 493.2,154.94 493.4,155.19 493.6,155.55 493.8,155.47 494,155.35 494.2,154.8 494.4,155.27 494.6,155.38 494.8,155.28 495,155.34 495.2,155.93 495.4,155.35 495.6,155.2 495.8,155.38 496,155.24 496.2,155.19 496.4,155.19 496.6,155.3 496.8,155.16 497,154.86 497.2,155.01 497.4,155.08 497.6,154.87 497.8,155.11 498,155 498.2,154.64 498.4,154.84 498.6,155.09 498.8,154.97 499,154.64 499.2,154.77 499.4,154.44 499.6,154.26 499.8,154.58 500,154.48 500.2,154.49 500.4,154.35 500.6,154.37 500.8,154.17 501,154.31 501.2,154.33 501.4,154.13 501.6,154.24 501.8,153.73 502,153.87 502.2,154.22 502.4,154.24 502.6,153.92 502.8,153.82 503,153.56 503.2,153.82 503.4,153.85 503.6,153.4 503.8,153.72 504,153.67 504.2,153.62 504.4,153.29 504.6,153.55 504.8,153.14 505,153.63 505.2,153.35 505.4,153.07 505.6,153.48 505.8,153.4 506,153.03 506.2,153.5 506.4,152.88 506.6,153.08 506.8,153.19 507,152.53 507.2,153.07 507.4,152.84 507.6,152.8 507.8,152.57 508,152.78 508.2,152.48 508.4,152.46 508.6,152.51 508.8,152.33 509,152.79 509.2,152.23 509.4,152.29 509.6,152.39 509.8,152.54 510,152.77 510.2,152.87 510.4,152.76 510.6,152.84 510.8,153.01 511,153.24 511.2,153.31 511.4,153.18 511.6,153 511.8,153.85 512,153.72 512.2,153.69 512.4,153.8 512.6,153.74 512.8,153.74 513,153.95 513.2,154.07 513.4,154.09 513.6,154.03 513.8,154.33 514,154.58 514.2,154.48 514.4,154.66 514.6,154.38 514.8,154.81 515,154.91 515.2,154.81 515.4,154.81 515.6,155.29 515.8,155.16 516,155.48 516.2,155.41 516.4,155.69 516.6,155.61 516.8,155.49 517,155.84 517.2,155.89 517.4,156.16 517.6,156.05 517.8,156.16 518,156.47 518.2,156.62 518.4,156.64 518.6,156.78 518.8,156.77 519,156.92 519.2,157.03 519.4,157.04 519.6,157.07 519.8,157.17 520,157.67 520.2,157.34 520.4,157.38 520.6,157.45 520.8,157.6 521,157.75 521.2,157.59 521.4,157.53 521.6,158.03 521.8,157.78 522,158.21 522.2,158.28 522.4,158.55 522.6,158.74 522.8,158.6 523,158.52 523.2,158.5 523.4,158.67 523.6,158.91 523.8,158.67 524,159.2 524.2,159.32 524.4,159.58 524.6,159.55 524.8,159.77 525,159.76 525.2,159.95 525.4,159.63 525.6,159.68 525.8,159.65 526,159.11 526.2,158.85 526.4,158.32 526.6,158.46 526.8,157.77 527,157.76 527.2,157.34 527.4,156.86 527.6,156.92 527.8,156.45 528,156.32 528.2,156.35 528.4,156.24 528.6,156.15 528.8,156.28 529,156.1 529.2,156.16 529.4,156.01 529.6,155.84 529.8,155.96 530,155.97 530.2,156.04 530.4,156.23 530.6,155.69 530.8,155.99 531,155.55 531.2,155.73 531.4,155.81 531.6,155.65 531.8,155.88 532,156.41 532.2,156.55 532.4,156.67 532.6,156.71 532.8,157.4 533,157.14 533.2,157.18 533.4,157.79 533.6,157.76 533.8,157.74 534,158.18 534.2,158.16 534.4,158.4 534.6,158.49 534.8,158.42 535,158.94 535.2,158.95 535.4,158.9 535.6,159.1 535.8,159.57 536,159.28 536.2,159.29 536.4,159.35 536.6,159.19 536.8,158.84 537,159.17 537.2,159.17 537.4,159.1 537.6,159.18 537.8,158.89 538,158.91 538.2,159 538.4,158.6 538.6,158.91 538.8,158.86 539,158.63 539.2,158.76 539.4,158.48 539.6,158.02 539.8,158.24 540,157.94 540.2,157.82 540.4,157.62 540.6,157.75 540.8,157.43 541,156.97 541.2,157.13 541.4,157.06 541.6,156.49 541.8,156.42 542,156.29 542.2,156.06 542.4,156.24 542.6,156.35 542.8,156.56 543,156.16 543.2,155.96 543.4,155.88 543.6,155.83 543.8,154.91 544,155.27 544.2,154.95 544.4,154.58 544.6,154.26 544.8,154.2 545,154.29 545.2,153.72 545.4,154.66 545.6,154.33 545.8,154.36 546,154.46 546.2,154.64 546.4,153.88 546.6,154.12 546.8,153.26 547,152.89 547.2,153.01 547.4,154.89 547.6,153.01 547.8,154.24 548,154.76 548.2,153.67 548.4,154.78 548.6,154.87 548.8,154.34 549,155.09 549.2,154.1 549.4,153.32 549.6,153.98 549.8,153.42 550,152.91 550.2,152.89 550.4,154.83 550.6,153.23 550.8,153.49 551,153.1 551.2,153.51 551.4,153.27 551.6,153.15 551.8,152.67 552,152.53 552.2,152.87 552.4,153.4 552.6,154.35 552.8,153.76 553,154.15 553.2,153.38 553.4,153.04 553.6,152.32 553.8,153.02 554,151.81 554.2,152.79 554.4,153.82 554.6,153.07 554.8,153.48 555,152.62 555.2,152.05 555.4,152.55 555.6,152.59 555.8,153.47 556,153.9 556.2,152.4 556.4,152.61 556.6,152.73 556.8,152.62 557,152.13 557.2,152.86 557.4,153.01 557.6,153.03 557.8,152.15 558,152.75 558.2,151.86 558.4,153.32 558.6,152.25 558.8,152.66 559,152.57 559.2,152.49 559.4,152.23 559.6,151.84 559.8,153.77 560,152.96 560.2,153 560.4,154.05 560.6,152.89 560.8,153.29 561,153.04 561.2,153.72 561.4,153.39 561.6,153.33 561.8,153.06 562,153.39 562.2,153.92 562.4,152.18 562.6,153.29 562.8,153.18 563,153.28 563.2,152.4 563.4,153.94 563.6,153.11 563.8,153.49 564,153.51 564.2,153.04 564.4,153.88 564.6,153.28 564.8,153.94 565,154.46 565.2,154.8 565.4,155 565.6,155.06 565.8,156.48 566,155.71 566.2,154.98 566.4,155.48 566.6,155.63 566.8,156.06 567,156.01 567.2,155.94 567.4,157.23 567.6,156.5 567.8,156.37 568,156.46 568.2,156.53 568.4,157.31 568.6,156.95 568.8,157.28 569,155.52 569.2,157.03 569.4,157.38 569.6,157.79 569.8,157.06 570,156.45 570.2,157.38 570.4,156.99 570.6,156.62 570.8,157.1 571,157.73 571.2,157.82 571.4,157.71 571.6,157.19 571.8,158.36 572,157.28 572.2,157.66 572.4,157.16 572.6,157.76 572.8,157.28 573,157.18 573.2,156.71 573.4,156.44 573.6,156.28 573.8,155.44 574,156.07 574.2,155.82 574.4,155.2 574.6,155.09 574.8,154.95 575,155.11 575.2,154.54 575.4,154.19 575.6,153.8 575.8,153.27 576,153.32 576.2,153.29 576.4,152.97 576.6,152.84 576.8,153.21 577,153.3 577.2,153.43 577.4,153.72 577.6,153.76 577.8,153.87 578,154.19 578.2,153.71 578.4,154.78 578.6,154.2 578.8,155.01 579,154.94 579.2,155.45 579.4,155.3 579.6,155.19 579.8,155.97 580,155.88 580.2,156.22 580.4,156.76 580.6,157.59 580.8,158.08 581,158.45 581.2,158.46 581.4,159.36 581.6,160.06 581.8,161.11 582,161.24 582.2,161.64 582.4,162.58 582.6,162.73 582.8,163.31 583,164.1 583.2,164.34 583.4,165.82 583.6,166.4 583.8,166.92 584,167.4 584.2,168.55 584.4,169.64 584.6,169.77 584.8,170.38 585,171.57 585.2,171.7 585.4,172.25 585.6,171.91 585.8,170.96 586,170.2 586.2,169.24 586.4,168.63 586.6,167.59 586.8,166.6 587,165.76 587.2,165.21 587.4,164.44 587.6,163.54 587.8,162.6 588,160.53 588.2,161.69 588.4,162.38 588.6,163.01 588.8,162.94 589,164.33 589.2,164.47 589.4,164.67 589.6,165.38 589.8,165.71 590,166.06 590.2,166.92 590.4,167.1 590.6,167.29 590.8,167.72 591,168.07 591.2,167.98 591.4,168.87 591.6,168.36 591.8,169.41 592,169.35 592.2,168.99 592.4,169.51 592.6,170.02 592.8,169.8 593,169.69 593.2,170.28 593.4,171.04 593.6,170.19 593.8,171 594,171.03 594.2,171.18 594.4,170.36 594.6,169.63 594.8,169.29 595,168.41 595.2,167.19 595.4,167.21 595.6,165.61 595.8,165.45 596,164.56 596.2,164.12 596.4,163.12 596.6,162.58 596.8,161.51 597,161.53 597.2,161.05 597.4,161.31 597.6,160.17 597.8,160.45 598,159.95 598.2,159.58 598.4,159.07 598.6,159.09 598.8,158.23 599,157.97 599.2,158.31 599.4,157.35 599.6,157.96 599.8,157.16 600,157.03 600.2,156.7 600.4,156.51 600.6,156.02 600.8,155.71 601,155.49 601.2,155.56 601.4,155.3 601.6,155.06 601.8,154.5 602,154.05 602.2,153.32 602.4,153.73 602.6,153.5 602.8,152.84 603,153.1 603.2,153.31 603.4,153.03 603.6,153.38 603.8,153.23 604,152.69 604.2,153.13 604.4,153.22 604.6,153.57 604.8,153.22 605,153.42 605.2,153.33 605.4,155.99 605.6,158.4 605.8,161.04 606,163.37 606.2,165.55 606.4,167.95 606.6,170.29 606.8,172.67 607,173.7 607.2,171.33 607.4,170.85 607.6,169.83 607.8,168.91 608,167.08 608.2,166.34 608.4,165.33 608.6,163.77 608.8,163.84 609,166.49 609.2,168.42 609.4,171.16 609.6,172.89 609.8,175.87 610,177.56 610.2,179.46 610.4,181.73 610.6,183.74 610.8,186.37 611,188.88 611.2,189.02 611.4,188.5 611.6,187.07 611.8,186.57 612,186.3 612.2,184.32 612.4,184.24 612.6,183.35 612.8,181.56 613,180.83 613.2,181.7 613.4,184.61 613.6,186.53 613.8,188.94 614,191.54 614.2,193.69 614.4,196.06 614.6,198.23 614.8,200.99 615,202.76 615.2,205.83 615.4,206.62 615.6,207.88 615.8,209.72 616,211.06 616.2,211.73 616.4,213.79 616.6,212.37 616.8,211.59 617,211.13 617.2,209.69 617.4,209.11 617.6,207.95 617.8,207.7 618,207.84 618.2,208.26 618.4,209.02 618.6,209.82 618.8,210.87 619,211.58 619.2,212.61 619.4,211.2 619.6,210.02 619.8,208.9 620,207.6 620.2,206.55 620.4,205.53 620.6,204.36 620.8,202.78 621,201.25 621.2,200.36 621.4,199.23 621.6,196.65 621.8,195.51 622,194.04 622.2,191.99 622.4,190.08 622.6,189.19 622.8,187.34 623,185.1 623.2,183.83 623.4,182.07 623.6,179.6 623.8,179 624,176.46 624.2,175.52 624.4,174.12 624.6,173.33 624.8,171.77 625,171.01 625.2,170.19 625.4,168.78 625.6,167.5 625.8,166.89 626,165.01 626.2,164.43 626.4,162.9 626.6,162.48 626.8,162.43 627,162.45 627.2,162.4 627.4,162.18 627.6,162.24 627.8,162.55 628,162.38 628.2,162.07 628.4,162.2 628.6,162.21 628.8,162.4 629,162.47 629.2,162.44 629.4,161.61 629.6,161.2 629.8,160.18 630,159.12 630.2,159.36 630.4,158.27 630.6,157.87 630.8,157.19 631,157.13 631.2,155.97 631.4,155.81 631.6,154.97 631.8,154.14 632,153.96 632.2,154.49 632.4,154.39 632.6,154.42 632.8,154.66 633,154.11 633.2,154.04 633.4,153.84 633.6,153.83 633.8,153.61 634,153.37 634.2,154.15 634.4,152.92 634.6,153.47 634.8,153.45 635,153.28 635.2,152.87 635.4,153.02 635.6,152.86 635.8,152.6 636,152.83 636.2,152.64 636.4,152.51 636.6,152.81 636.8,152.2 637,152.57 637.2,152.26 637.4,152.65 637.6,152.62 637.8,152.76 638,152.47 638.2,152.61 638.4,152.67 638.6,153.06 638.8,153.31 639,153.49 639.2,153.1 639.4,153.35 639.6,152.92 639.8,152.82 640,153.31 640.2,153.45 640.4,153.27 640.6,153.28 640.8,154.05 641,153.73 641.2,153.55 641.4,154.83 641.6,154.26 641.8,154.2 642,154.58 642.2,154.23 642.4,155.32 642.6,155.09 642.8,155.86 643,156.91 643.2,157.43 643.4,158.78 643.6,158.58 643.8,159.55 644,160.54 644.2,161.34 644.4,162.17 644.6,162.68 644.8,163.94 645,163.84 645.2,164.74 645.4,165.64 645.6,165.99 645.8,166.7 646,167.43 646.2,168.15 646.4,168.79 646.6,169.73 646.8,170.21 647,171.57 647.2,171.76 647.4,173.63 647.6,174.3 647.8,173.6 648,172.69 648.2,172.06 648.4,172.08 648.6,171.25 648.8,170.85 649,169.95 649.2,169.96 649.4,169.49 649.6,170.43 649.8,170.56 650,171.56 650.2,172.58 650.4,172.97 650.6,173.65 650.8,174.7 651,175.12 651.2,176.19 651.4,175.77 651.6,177.34 651.8,178 652,177.66 652.2,177.6 652.4,178.11 652.6,177.4 652.8,177.39 653,177.63 653.2,177.22 653.4,177.33 653.6,176.79 653.8,177.01 654,177.11 654.2,176.75 654.4,175.86 654.6,176.58 654.8,177.5 655,178.3 655.2,180.08 655.4,180.24 655.6,182.41 655.8,182.76 656,184.51 656.2,185.12 656.4,184.97 656.6,184.77 656.8,184.21 657,183.65 657.2,183.17 657.4,181.96 657.6,181.75 657.8,181.19 658,180.26 658.2,179.43 658.4,178.8 658.6,178.68 658.8,178.07 659,176.95 659.2,176.17 659.4,176.31 659.6,174.85 659.8,174.73 660,173.94 660.2,173.16 660.4,173.23 660.6,172.63 660.8,172.62 661,172.37 661.2,171.14 661.4,171 661.6,170.51 661.8,169.55 662,168.95 662.2,169.19 662.4,168.1 662.6,167.7 662.8,167.12 663,166.67 663.2,166.03 663.4,165.94 663.6,165.59 663.8,164.61 664,163.81 664.2,163.74 664.4,162.78 664.6,162.54 664.8,162.6 665,162.43 665.2,161.75 665.4,161.64 665.6,162.51 665.8,161.92 666,162.71 666.2,163.69 666.4,163.77 666.6,163.45 666.8,163.69 667,163.53 667.2,162.35 667.4,161.27 667.6,160.66 667.8,159.46 668,158.14 668.2,158.05 668.4,156.7 668.6,155.68 668.8,154.67 669,154.24 669.2,153.01 669.4,152.53" fill="none" stroke="#333333" stroke-width="1.0" stroke-linejoin="round" stroke-linecap="round" />
<text x="374.7" y="25.7" font-size="12.4" text-anchor="start" fill="#222" stroke="#222" >Cu/S-paper</text>
<text x="374.4" y="81.4" font-size="12.4" text-anchor="start" fill="#222" stroke="#222" >S-paper</text>
<text x="392.6" y="109.6" font-size="13" text-anchor="start" fill="#222" stroke="#222" >(d)</text>
<text x="376.6" y="143.1" font-size="12.4" text-anchor="start" fill="#222" stroke="#222" >paper</text>
<text x="416.2" y="199.8" font-size="12" text-anchor="start" fill="#222" stroke="#222" >3330</text>
<text x="455.3" y="181.1" font-size="12" text-anchor="start" fill="#222" stroke="#222" >2900</text>
<text x="575" y="194.3" font-size="12" text-anchor="start" fill="#222" stroke="#222" >1425</text>
<text x="550.2" y="55.8" font-size="12" text-anchor="start" fill="#222" stroke="#222" >1727</text>
<text x="549.5" y="113.5" font-size="12" text-anchor="start" fill="#222" stroke="#222" >1727</text>
<rect x="25" y="275" width="301.5" height="222" fill="none" stroke="#555" stroke-width="1.1"/>
<line x1="25" y1="497" x2="25" y2="500.5" stroke="#555" stroke-width="1.0" />
<line x1="55.15" y1="497" x2="55.15" y2="500.5" stroke="#555" stroke-width="1.0" />
<line x1="85.3" y1="497" x2="85.3" y2="500.5" stroke="#555" stroke-width="1.0" />
<line x1="115.45" y1="497" x2="115.45" y2="500.5" stroke="#555" stroke-width="1.0" />
<line x1="145.6" y1="497" x2="145.6" y2="500.5" stroke="#555" stroke-width="1.0" />
<line x1="175.75" y1="497" x2="175.75" y2="500.5" stroke="#555" stroke-width="1.0" />
<line x1="205.9" y1="497" x2="205.9" y2="500.5" stroke="#555" stroke-width="1.0" />
<line x1="236.05" y1="497" x2="236.05" y2="500.5" stroke="#555" stroke-width="1.0" />
<line x1="266.2" y1="497" x2="266.2" y2="500.5" stroke="#555" stroke-width="1.0" />
<line x1="296.35" y1="497" x2="296.35" y2="500.5" stroke="#555" stroke-width="1.0" />
<line x1="326.5" y1="497" x2="326.5" y2="500.5" stroke="#555" stroke-width="1.0" />
<line x1="40.08" y1="497" x2="40.08" y2="499" stroke="#555" stroke-width="1.0" />
<line x1="70.22" y1="497" x2="70.22" y2="499" stroke="#555" stroke-width="1.0" />
<line x1="100.38" y1="497" x2="100.38" y2="499" stroke="#555" stroke-width="1.0" />
<line x1="130.53" y1="497" x2="130.53" y2="499" stroke="#555" stroke-width="1.0" />
<line x1="160.68" y1="497" x2="160.68" y2="499" stroke="#555" stroke-width="1.0" />
<line x1="190.82" y1="497" x2="190.82" y2="499" stroke="#555" stroke-width="1.0" />
<line x1="220.97" y1="497" x2="220.97" y2="499" stroke="#555" stroke-width="1.0" />
<line x1="251.12" y1="497" x2="251.12" y2="499" stroke="#555" stroke-width="1.0" />
<line x1="281.27" y1="497" x2="281.27" y2="499" stroke="#555" stroke-width="1.0" />
<line x1="311.43" y1="497" x2="311.43" y2="499" stroke="#555" stroke-width="1.0" />
<text x="25" y="512.4" font-size="10" text-anchor="middle" fill="#222" stroke="#222" >240</text>
<text x="55.15" y="512.4" font-size="10" text-anchor="middle" fill="#222" stroke="#222" >210</text>
<text x="85.3" y="512.4" font-size="10" text-anchor="middle" fill="#222" stroke="#222" >180</text>
<text x="115.45" y="512.4" font-size="10" text-anchor="middle" fill="#222" stroke="#222" >150</text>
<text x="145.6" y="512.4" font-size="10" text-anchor="middle" fill="#222" stroke="#222" >120</text>
<text x="175.75" y="512.4" font-size="10" text-anchor="middle" fill="#222" stroke="#222" >90</text>
<text x="205.9" y="512.4" font-size="10" text-anchor="middle" fill="#222" stroke="#222" >60</text>
<text x="236.05" y="512.4" font-size="10" text-anchor="middle" fill="#222" stroke="#222" >30</text>
<text x="266.2" y="512.4" font-size="10" text-anchor="middle" fill="#222" stroke="#222" >0</text>
<text x="296.35" y="512.4" font-size="10" text-anchor="middle" fill="#222" stroke="#222" >-30</text>
<text x="326.5" y="512.4" font-size="10" text-anchor="middle" fill="#222" stroke="#222" >-60</text>
<text x="175.75" y="533.6" font-size="12.5" text-anchor="middle" fill="#222" stroke="#222" ><tspan font-size="8" dy="-4.5">13</tspan><tspan dy="4.5">C chemical shift (ppm)</tspan></text>
<text x="0.5" y="290" font-size="13" text-anchor="start" fill="#222" stroke="#222" >(c)</text>
<polyline points="25.5,398.86 25.8,399.02 26.1,398.83 26.4,398.79 26.7,398.63 27,398.73 27.3,398.94 27.6,399.21 27.9,398.69 28.2,398.71 28.5,398.87 28.8,398.88 29.1,398.73 29.4,398.81 29.7,398.61 30,398.76 30.3,398.89 30.6,398.97 30.9,398.75 31.2,398.74 31.5,398.81 31.8,398.89 32.1,398.81 32.4,398.65 32.7,398.78 33,398.84 33.3,398.64 33.6,398.56 33.9,398.77 34.2,398.75 34.5,398.81 34.8,398.7 35.1,398.61 35.4,398.63 35.7,398.55 36,398.55 36.3,398.6 36.6,398.6 36.9,398.78 37.2,398.5 37.5,398.63 37.8,398.56 38.1,398.81 38.4,398.65 38.7,398.57 39,398.71 39.3,398.61 39.6,398.54 39.9,398.78 40.2,398.68 40.5,398.79 40.8,398.72 41.1,398.67 41.4,398.58 41.7,398.43 42,398.64 42.3,398.56 42.6,398.63 42.9,398.54 43.2,398.45 43.5,398.41 43.8,398.61 44.1,398.67 44.4,398.48 44.7,398.56 45,398.66 45.3,398.39 45.6,398.45 45.9,398.35 46.2,398.62 46.5,398.5 46.8,398.41 47.1,398.26 47.4,398.43 47.7,398.56 48,398.4 48.3,398.38 48.6,398.5 48.9,398.27 49.2,398.42 49.5,398.48 49.8,398.31 50.1,398.3 50.4,398.42 50.7,398.38 51,398.36 51.3,398.4 51.6,398.4 51.9,398.26 52.2,398.28 52.5,398.41 52.8,398.49 53.1,398.51 53.4,398.25 53.7,398.47 54,398.43 54.3,398.33 54.6,398.39 54.9,398.43 55.2,398.54 55.5,398.2 55.8,398.39 56.1,398.3 56.4,398.29 56.7,398.45 57,398.4 57.3,398.18 57.6,398.27 57.9,398.33 58.2,398.13 58.5,398.4 58.8,398.29 59.1,398.32 59.4,398.34 59.7,398.51 60,398.3 60.3,398.25 60.6,398.5 60.9,398.24 61.2,398.24 61.5,398.13 61.8,398.43 62.1,398.33 62.4,398.36 62.7,398.33 63,398.29 63.3,398.22 63.6,398.22 63.9,398.37 64.2,398.33 64.5,398.52 64.8,398.24 65.1,398.27 65.4,398.21 65.7,398.5 66,398.19 66.3,398.44 66.6,398.52 66.9,398.33 67.2,398.44 67.5,398.11 67.8,398.32 68.1,398.17 68.4,398.39 68.7,398.38 69,398.29 69.3,398.5 69.6,398.43 69.9,398.33 70.2,398.34 70.5,398.23 70.8,398.39 71.1,398.66 71.4,398.33 71.7,398.47 72,398.36 72.3,398.53 72.6,398.49 72.9,398.41 73.2,398.23 73.5,398.39 73.8,398.59 74.1,398.43 74.4,398.53 74.7,398.41 75,398.24 75.3,398.52 75.6,398.51 75.9,398.41 76.2,398.43 76.5,398.52 76.8,398.41 77.1,398.53 77.4,398.46 77.7,398.21 78,398.47 78.3,398.42 78.6,398.4 78.9,398.54 79.2,398.44 79.5,398.56 79.8,398.63 80.1,398.51 80.4,398.31 80.7,398.41 81,398.6 81.3,398.46 81.6,398.39 81.9,398.47 82.2,398.53 82.5,398.5 82.8,398.54 83.1,398.35 83.4,398.41 83.7,398.4 84,398.42 84.3,398.16 84.6,398.37 84.9,398.22 85.2,398.53 85.5,398.54 85.8,398.54 86.1,398.42 86.4,398.25 86.7,398.4 87,398.24 87.3,398.32 87.6,398.12 87.9,398.14 88.2,398.23 88.5,398.32 88.8,398.02 89.1,398.18 89.4,398.1 89.7,397.48 90,397.48 90.3,397.22 90.6,397.17 90.9,396.99 91.2,396.92 91.5,396.94 91.8,396.86 92.1,396.74 92.4,396.7 92.7,396.77 93,396.87 93.3,397.06 93.6,397.17 93.9,397.42 94.2,397.41 94.5,397.86 94.8,398.17 95.1,398.15 95.4,398.1 95.7,398.52 96,398.36 96.3,398.05 96.6,398.39 96.9,398.5 97.2,398.48 97.5,398.59 97.8,398.53 98.1,398.48 98.4,398.24 98.7,398.35 99,398.51 99.3,398.57 99.6,398.38 99.9,398.43 100.2,398.57 100.5,398.29 100.8,398.29 101.1,398.5 101.4,398.56 101.7,398.48 102,398.27 102.3,398.55 102.6,398.39 102.9,398.63 103.2,398.55 103.5,398.6 103.8,398.64 104.1,398.51 104.4,398.67 104.7,398.72 105,398.63 105.3,398.74 105.6,398.51 105.9,398.69 106.2,398.62 106.5,398.47 106.8,398.58 107.1,398.53 107.4,398.53 107.7,398.61 108,398.72 108.3,398.56 108.6,398.61 108.9,398.42 109.2,398.61 109.5,398.74 109.8,398.69 110.1,398.65 110.4,398.54 110.7,398.48 111,398.58 111.3,398.43 111.6,398.44 111.9,398.69 112.2,398.47 112.5,398.78 112.8,398.4 113.1,398.61 113.4,398.41 113.7,398.56 114,398.41 114.3,398.53 114.6,398.49 114.9,398.45 115.2,398.55 115.5,398.65 115.8,398.39 116.1,398.55 116.4,398.45 116.7,398.42 117,398.67 117.3,398.13 117.6,398.29 117.9,398.14 118.2,398.3 118.5,398.3 118.8,398.76 119.1,398.33 119.4,398.48 119.7,398.41 120,398.18 120.3,398.27 120.6,398.39 120.9,398.19 121.2,398.18 121.5,398.19 121.8,397.93 122.1,397.99 122.4,398.11 122.7,398.11 123,397.92 123.3,397.97 123.6,397.97 123.9,397.94 124.2,398.02 124.5,397.93 124.8,397.91 125.1,397.7 125.4,397.72 125.7,397.86 126,397.61 126.3,397.81 126.6,397.68 126.9,397.64 127.2,397.79 127.5,397.61 127.8,397.56 128.1,397.56 128.4,397.62 128.7,397.92 129,397.32 129.3,397.55 129.6,397.5 129.9,397.62 130.2,397.44 130.5,397.17 130.8,397.6 131.1,397.28 131.4,397.38 131.7,397.2 132,397.21 132.3,397.26 132.6,397.39 132.9,397.37 133.2,397.17 133.5,397.27 133.8,397.14 134.1,397.17 134.4,397.15 134.7,397.18 135,397 135.3,397.03 135.6,397.04 135.9,397 136.2,396.86 136.5,397.13 136.8,396.84 137.1,396.95 137.4,396.86 137.7,396.95 138,396.51 138.3,396.98 138.6,396.68 138.9,396.52 139.2,396.65 139.5,396.87 139.8,396.62 140.1,396.38 140.4,396.44 140.7,396.62 141,396.25 141.3,396.36 141.6,396.31 141.9,396.57 142.2,396.24 142.5,396.39 142.8,396.11 143.1,396.06 143.4,396.23 143.7,396.15 144,395.83 144.3,396.07 144.6,396.03 144.9,395.84 145.2,395.9 145.5,395.86 145.8,395.73 146.1,395.68 146.4,395.63 146.7,395.64 147,395.48 147.3,395.59 147.6,395.37 147.9,395.5 148.2,395.43 148.5,395.26 148.8,395.42 149.1,395.48 149.4,395.33 149.7,394.93 150,395.15 150.3,394.9 150.6,394.71 150.9,394.45 151.2,394.28 151.5,394.17 151.8,393.75 152.1,393.28 152.4,392.86 152.7,392.4 153,391.78 153.3,391.01 153.6,389.6 153.9,388.61 154.2,387.45 154.5,386.28 154.8,385.21 155.1,383.94 155.4,382.31 155.7,380.86 156,379.45 156.3,377.51 156.6,375.56 156.9,373.22 157.2,370.81 157.5,368.55 157.8,366.16 158.1,363.86 158.4,362 158.7,360.3 159,358.48 159.3,357.58 159.6,356.62 159.9,356.26 160.2,357.11 160.5,358.16 160.8,359.7 161.1,361.47 161.4,363.14 161.7,365.3 162,367.86 162.3,370.06 162.6,372.53 162.9,374.83 163.2,377.02 163.5,378.6 163.8,380.6 164.1,381.87 164.4,383.4 164.7,384.71 165,385.51 165.3,386.73 165.6,387.57 165.9,388.43 166.2,389.27 166.5,389.86 166.8,390.51 167.1,391.25 167.4,391.81 167.7,392.17 168,392.56 168.3,393.41 168.6,393.57 168.9,393.63 169.2,393.43 169.5,393.25 169.8,392.96 170.1,392.31 170.4,392.01 170.7,391.18 171,390.54 171.3,389.57 171.6,388.55 171.9,387.37 172.2,386.23 172.5,384.88 172.8,383.65 173.1,382.47 173.4,381.08 173.7,379.56 174,377.05 174.3,374.27 174.6,371.74 174.9,369.73 175.2,367.9 175.5,366.45 175.8,365.17 176.1,364.59 176.4,364.87 176.7,366.23 177,368.4 177.3,370.61 177.6,372.85 177.9,375.29 178.2,377.21 178.5,378.04 178.8,378.8 179.1,379.58 179.4,379.84 179.7,380.34 180,380.38 180.3,380.73 180.6,380.85 180.9,380.93 181.2,381.26 181.5,381.2 181.8,381.31 182.1,381.36 182.4,381.3 182.7,381.37 183,380.77 183.3,380.32 183.6,379.47 183.9,378.8 184.2,377.96 184.5,376.75 184.8,374.91 185.1,372.7 185.4,370.16 185.7,366.55 186,361.61 186.3,355.84 186.6,350.46 186.9,345.07 187.2,339.4 187.5,333.8 187.8,328.21 188.1,323.34 188.4,319.2 188.7,315.79 189,312.46 189.3,309.48 189.6,307.02 189.9,304.88 190.2,303.09 190.5,302.42 190.8,301.75 191.1,300.86 191.4,300.48 191.7,300.04 192,300.35 192.3,300.42 192.6,300.92 192.9,301.75 193.2,302.95 193.5,304.6 193.8,310.16 194.1,318.55 194.4,327.9 194.7,337.28 195,344.63 195.3,349.61 195.6,353.69 195.9,357.19 196.2,359.98 196.5,362.12 196.8,363.45 197.1,364.97 197.4,366.09 197.7,366.6 198,366.34 198.3,365.69 198.6,364.9 198.9,364.38 199.2,363.77 199.5,363.64 199.8,363.43 200.1,364.38 200.4,365.18 200.7,366.6 201,367.92 201.3,369.38 201.6,371.08 201.9,373.04 202.2,375.1 202.5,377.02 202.8,378.97 203.1,380.44 203.4,381.71 203.7,383.04 204,383.96 204.3,384.93 204.6,385.82 204.9,386.69 205.2,387.56 205.5,388.18 205.8,389.17 206.1,389.94 206.4,390.56 206.7,390.99 207,391.42 207.3,392.05 207.6,392.55 207.9,393.05 208.2,393.32 208.5,393.66 208.8,394.19 209.1,394.21 209.4,394.65 209.7,394.83 210,394.76 210.3,395.12 210.6,395.17 210.9,395.25 211.2,395.23 211.5,395.33 211.8,395.61 212.1,395.57 212.4,395.69 212.7,395.57 213,395.7 213.3,395.74 213.6,395.62 213.9,395.63 214.2,395.91 214.5,395.9 214.8,395.79 215.1,395.91 215.4,396.03 215.7,396.18 216,395.88 216.3,396.08 216.6,396.28 216.9,396.06 217.2,396.24 217.5,395.79 217.8,396.28 218.1,396.13 218.4,395.93 218.7,396.27 219,396.32 219.3,396.36 219.6,396.38 219.9,396.25 220.2,396.19 220.5,396.24 220.8,396.31 221.1,396.38 221.4,396.3 221.7,396.38 222,396.49 222.3,396.45 222.6,396.69 222.9,396.7 223.2,396.32 223.5,396.41 223.8,396.34 224.1,396.37 224.4,396.59 224.7,396.43 225,396.43 225.3,396.54 225.6,396.68 225.9,396.56 226.2,396.58 226.5,396.74 226.8,396.7 227.1,396.72 227.4,396.79 227.7,396.57 228,396.73 228.3,396.65 228.6,396.86 228.9,396.84 229.2,396.64 229.5,396.93 229.8,396.65 230.1,396.94 230.4,396.84 230.7,396.72 231,396.71 231.3,396.82 231.6,396.86 231.9,396.79 232.2,396.96 232.5,396.74 232.8,396.92 233.1,396.93 233.4,396.72 233.7,396.99 234,396.82 234.3,396.68 234.6,396.92 234.9,396.98 235.2,397.12 235.5,396.97 235.8,397.22 236.1,397.22 236.4,397.19 236.7,397.23 237,397.13 237.3,397.04 237.6,397.19 237.9,397.24 238.2,397.17 238.5,397.12 238.8,396.98 239.1,397.25 239.4,397.23 239.7,397.04 240,397.22 240.3,397.3 240.6,397.22 240.9,397.33 241.2,397.34 241.5,397.09 241.8,397.24 242.1,397.34 242.4,397.41 242.7,397.48 243,397.09 243.3,397.32 243.6,397.43 243.9,397.5 244.2,397.56 244.5,397.26 244.8,397.34 245.1,397.27 245.4,397.5 245.7,397.26 246,397.56 246.3,397.54 246.6,397.5 246.9,397.2 247.2,397.38 247.5,397.56 247.8,397.31 248.1,397.46 248.4,397.49 248.7,397.62 249,397.55 249.3,397.56 249.6,397.49 249.9,397.55 250.2,397.54 250.5,397.65 250.8,397.55 251.1,397.71 251.4,397.39 251.7,397.74 252,397.59 252.3,397.75 252.6,397.64 252.9,397.73 253.2,397.82 253.5,397.58 253.8,397.67 254.1,397.64 254.4,397.7 254.7,397.49 255,397.67 255.3,397.67 255.6,397.61 255.9,397.69 256.2,397.53 256.5,397.89 256.8,397.78 257.1,397.96 257.4,397.64 257.7,397.61 258,397.79 258.3,397.56 258.6,397.8 258.9,397.69 259.2,397.74 259.5,397.82 259.8,397.8 260.1,398.02 260.4,397.88 260.7,397.66 261,397.93 261.3,397.66 261.6,397.84 261.9,397.68 262.2,397.74 262.5,398 262.8,397.78 263.1,397.77 263.4,397.79 263.7,397.82 264,398.04 264.3,397.73 264.6,397.73 264.9,397.95 265.2,397.7 265.5,397.85 265.8,398.03 266.1,397.9 266.4,397.85 266.7,397.83 267,397.81 267.3,397.85 267.6,397.94 267.9,398.08 268.2,398.05 268.5,397.87 268.8,397.86 269.1,398.03 269.4,397.74 269.7,397.9 270,397.92 270.3,397.83 270.6,397.85 270.9,398.01 271.2,397.78 271.5,397.87 271.8,397.91 272.1,398 272.4,397.83 272.7,398.13 273,397.96 273.3,397.97 273.6,397.97 273.9,397.93 274.2,397.9 274.5,398.16 274.8,398.05 275.1,398.02 275.4,398.15 275.7,397.95 276,398.11 276.3,398.05 276.6,397.94 276.9,398.14 277.2,397.88 277.5,398.14 277.8,397.96 278.1,398.11 278.4,398.23 278.7,398.14 279,398 279.3,398.08 279.6,398.04 279.9,397.95 280.2,397.96 280.5,398.1 280.8,398.16 281.1,397.89 281.4,398.09 281.7,398.17 282,398.12 282.3,397.99 282.6,398.24 282.9,397.98 283.2,398.2 283.5,398.32 283.8,397.89 284.1,398.16 284.4,398.17 284.7,398.17 285,398.05 285.3,398.11 285.6,397.98 285.9,398.17 286.2,398.22 286.5,398.08 286.8,398.05 287.1,398.11 287.4,398.17 287.7,398.18 288,398.16 288.3,398.18 288.6,398.02 288.9,397.86 289.2,398.26 289.5,398.36 289.8,398.02 290.1,398.12 290.4,398.23 290.7,398.31 291,398.28 291.3,398.36 291.6,398.2 291.9,398.26 292.2,398.26 292.5,398.17 292.8,398.36 293.1,398.3 293.4,398.34 293.7,398.18 294,398.35 294.3,398.11 294.6,398.28 294.9,397.93 295.2,398.12 295.5,398.33 295.8,398.2 296.1,398.27 296.4,398.06 296.7,398.44 297,398.33 297.3,398.26 297.6,398.31 297.9,398.31 298.2,398.44 298.5,398.3 298.8,398.1 299.1,398.25 299.4,398.43 299.7,398.35 300,398.24 300.3,398.36 300.6,398.31 300.9,398.37 301.2,398.11 301.5,398.2 301.8,398.38 302.1,398.28 302.4,398.35 302.7,398.54 303,398.28 303.3,398.35 303.6,398.26 303.9,398.25 304.2,398.32 304.5,398.16 304.8,398.08 305.1,398.49 305.4,398.32 305.7,398.47 306,398.36 306.3,398.36 306.6,398.43 306.9,398.43 307.2,398.21 307.5,398.5 307.8,398.24 308.1,398.38 308.4,398.66 308.7,398.37 309,398.56 309.3,398.33 309.6,398.44 309.9,398.38 310.2,398.43 310.5,398.28 310.8,398.27 311.1,398.42 311.4,398.2 311.7,398.29 312,398.47 312.3,398.32 312.6,398.29 312.9,398.27 313.2,398.42 313.5,398.36 313.8,398.42 314.1,398.39 314.4,398.63 314.7,398.36 315,398.19 315.3,398.43 315.6,398.42 315.9,398.44 316.2,398.24 316.5,398.56 316.8,398.42 317.1,398.43 317.4,398.25 317.7,398.49 318,398.43 318.3,398.6 318.6,398.39 318.9,398.3 319.2,398.46 319.5,398.34 319.8,398.5 320.1,398.32 320.4,398.44 320.7,398.43 321,398.45 321.3,398.4 321.6,398.37 321.9,398.46 322.2,398.4 322.5,398.48 322.8,398.44 323.1,398.21 323.4,398.47 323.7,398.64 324,398.51 324.3,398.55 324.6,398.53 324.9,398.43 325.2,398.33 325.5,398.58 325.8,398.61" fill="none" stroke="#1f4f9e" stroke-width="1.2" stroke-linejoin="round" stroke-linecap="round" />
<polyline points="25.5,437.55 25.8,437.51 26.1,437.48 26.4,437.41 26.7,437.42 27,437.36 27.3,437.38 27.6,437.2 27.9,437.22 28.2,437.33 28.5,437.2 28.8,436.94 29.1,437.21 29.4,436.91 29.7,437.38 30,437.22 30.3,437.19 30.6,437.02 30.9,436.94 31.2,437.03 31.5,437.04 31.8,436.93 32.1,437.02 32.4,437.06 32.7,437.03 33,436.82 33.3,436.68 33.6,436.91 33.9,436.82 34.2,436.93 34.5,437.05 34.8,437.04 35.1,436.87 35.4,436.95 35.7,436.99 36,436.8 36.3,436.81 36.6,436.86 36.9,436.75 37.2,436.69 37.5,436.65 37.8,436.72 38.1,436.64 38.4,436.79 38.7,436.65 39,436.85 39.3,436.81 39.6,436.52 39.9,436.78 40.2,436.6 40.5,436.8 40.8,436.69 41.1,436.62 41.4,436.7 41.7,436.55 42,436.65 42.3,436.65 42.6,436.59 42.9,436.65 43.2,436.48 43.5,436.66 43.8,436.46 44.1,436.66 44.4,436.65 44.7,436.67 45,436.53 45.3,436.94 45.6,436.57 45.9,436.61 46.2,436.51 46.5,436.76 46.8,436.55 47.1,436.72 47.4,436.51 47.7,436.66 48,436.58 48.3,436.74 48.6,436.61 48.9,436.55 49.2,436.71 49.5,436.53 49.8,436.57 50.1,436.77 50.4,436.48 50.7,436.79 51,436.67 51.3,436.62 51.6,436.76 51.9,436.82 52.2,436.69 52.5,436.75 52.8,436.87 53.1,436.87 53.4,436.79 53.7,436.72 54,436.71 54.3,436.76 54.6,436.92 54.9,436.92 55.2,436.9 55.5,437.03 55.8,436.85 56.1,436.85 56.4,436.86 56.7,437.13 57,436.69 57.3,436.97 57.6,436.99 57.9,436.96 58.2,437.22 58.5,437.1 58.8,437.06 59.1,436.88 59.4,437.04 59.7,436.95 60,437 60.3,437.02 60.6,436.95 60.9,437.08 61.2,437.2 61.5,437.14 61.8,437.05 62.1,436.81 62.4,437.16 62.7,437.16 63,437.02 63.3,436.99 63.6,437.13 63.9,436.96 64.2,437.15 64.5,436.94 64.8,436.96 65.1,437.07 65.4,436.91 65.7,437.08 66,437.15 66.3,436.94 66.6,437.2 66.9,437.03 67.2,437.16 67.5,437.13 67.8,437.06 68.1,437.05 68.4,436.92 68.7,437.04 69,437.04 69.3,437.31 69.6,437.25 69.9,436.98 70.2,437.23 70.5,437.17 70.8,437.1 71.1,437.2 71.4,437.24 71.7,437.09 72,437.13 72.3,437.18 72.6,437.05 72.9,437.19 73.2,437.16 73.5,437.09 73.8,437.08 74.1,437.21 74.4,437.28 74.7,437.22 75,437.09 75.3,437.27 75.6,437.21 75.9,437.25 76.2,437.32 76.5,437.09 76.8,437.18 77.1,437.13 77.4,437.1 77.7,437.42 78,437.3 78.3,437 78.6,437.25 78.9,437.14 79.2,437.33 79.5,437.21 79.8,437.18 80.1,437.22 80.4,437.24 80.7,437.2 81,437.17 81.3,437.17 81.6,437.23 81.9,437.04 82.2,437.16 82.5,437.13 82.8,437.07 83.1,437.19 83.4,436.95 83.7,437.03 84,436.95 84.3,437.09 84.6,436.95 84.9,436.98 85.2,436.98 85.5,436.73 85.8,436.93 86.1,436.75 86.4,436.77 86.7,436.7 87,436.61 87.3,436.34 87.6,436.13 87.9,435.58 88.2,435.1 88.5,434.69 88.8,434.41 89.1,434.13 89.4,433.64 89.7,433.22 90,432.97 90.3,432.59 90.6,432.18 90.9,431.71 91.2,431.13 91.5,431 91.8,430.87 92.1,430.51 92.4,430.03 92.7,430.15 93,429.89 93.3,430.37 93.6,430.3 93.9,430.34 94.2,430.83 94.5,430.97 94.8,431.47 95.1,431.78 95.4,432.03 95.7,432.62 96,432.78 96.3,433.43 96.6,433.62 96.9,433.86 97.2,434.19 97.5,435.02 97.8,435.45 98.1,435.59 98.4,436.31 98.7,436.5 99,436.73 99.3,436.93 99.6,436.97 99.9,437.16 100.2,437.02 100.5,436.79 100.8,437.23 101.1,437.1 101.4,436.88 101.7,436.96 102,436.9 102.3,437 102.6,437.04 102.9,437.03 103.2,436.93 103.5,436.91 103.8,437.09 104.1,436.99 104.4,437.25 104.7,436.91 105,437.09 105.3,437 105.6,436.91 105.9,437.15 106.2,437.01 106.5,436.9 106.8,436.96 107.1,437.11 107.4,436.86 107.7,437.15 108,437.07 108.3,436.96 108.6,437.14 108.9,437.19 109.2,437.06 109.5,437.01 109.8,437.2 110.1,437.16 110.4,436.88 110.7,436.96 111,436.96 111.3,436.94 111.6,436.82 111.9,437.09 112.2,436.99 112.5,436.99 112.8,437.14 113.1,436.92 113.4,436.97 113.7,437.01 114,436.93 114.3,436.97 114.6,437.06 114.9,436.98 115.2,437.12 115.5,436.89 115.8,437 116.1,436.81 116.4,436.96 116.7,436.89 117,437.12 117.3,437.05 117.6,437.02 117.9,437.17 118.2,437.13 118.5,437.04 118.8,436.88 119.1,436.8 119.4,436.96 119.7,436.92 120,436.88 120.3,436.92 120.6,436.77 120.9,437.12 121.2,436.82 121.5,436.87 121.8,437.01 122.1,436.76 122.4,437.05 122.7,437.05 123,436.91 123.3,436.82 123.6,436.89 123.9,436.73 124.2,437.09 124.5,436.94 124.8,436.85 125.1,436.83 125.4,436.99 125.7,437.1 126,436.78 126.3,436.86 126.6,436.72 126.9,437 127.2,436.94 127.5,437.17 127.8,436.9 128.1,436.86 128.4,436.83 128.7,437.01 129,436.72 129.3,436.99 129.6,436.93 129.9,436.84 130.2,436.8 130.5,437.02 130.8,437.1 131.1,436.84 131.4,436.94 131.7,437.07 132,436.8 132.3,436.83 132.6,436.71 132.9,436.83 133.2,436.82 133.5,436.77 133.8,436.73 134.1,436.62 134.4,436.63 134.7,436.66 135,436.83 135.3,436.69 135.6,436.63 135.9,436.79 136.2,436.76 136.5,436.59 136.8,436.59 137.1,436.72 137.4,436.67 137.7,436.51 138,436.61 138.3,436.56 138.6,436.67 138.9,436.42 139.2,436.6 139.5,436.53 139.8,436.34 140.1,436.55 140.4,436.51 140.7,436.24 141,436.59 141.3,436.21 141.6,436.21 141.9,436.25 142.2,436.35 142.5,436.3 142.8,436.2 143.1,436.34 143.4,436.2 143.7,436.28 144,436.42 144.3,436.09 144.6,435.74 144.9,435.96 145.2,435.86 145.5,435.96 145.8,435.94 146.1,435.75 146.4,435.73 146.7,435.81 147,435.78 147.3,435.47 147.6,435.85 147.9,435.7 148.2,435.65 148.5,435.64 148.8,435.44 149.1,435.5 149.4,435.56 149.7,435.5 150,435.36 150.3,435.2 150.6,435.05 150.9,435.21 151.2,435.02 151.5,434.8 151.8,434.49 152.1,434.47 152.4,433.96 152.7,433.76 153,432.88 153.3,431.87 153.6,430.9 153.9,430.1 154.2,428.72 154.5,427.15 154.8,425.98 155.1,424.28 155.4,422.21 155.7,420.11 156,417.84 156.3,415.13 156.6,412.38 156.9,409.91 157.2,407.71 157.5,405.43 157.8,402.79 158.1,400.58 158.4,399.22 158.7,397.57 159,396.31 159.3,395.06 159.6,394.77 159.9,394.91 160.2,396.06 160.5,397.61 160.8,399.29 161.1,402.25 161.4,406.39 161.7,409.92 162,413.18 162.3,416.73 162.6,419.71 162.9,421.7 163.2,423.18 163.5,425.03 163.8,426.44 164.1,427.55 164.4,428.35 164.7,429.57 165,430.11 165.3,430.46 165.6,430.58 165.9,430.96 166.2,431.59 166.5,431.88 166.8,432.13 167.1,432.3 167.4,432.6 167.7,432.69 168,432.89 168.3,432.96 168.6,433.21 168.9,433.2 169.2,433.41 169.5,433.38 169.8,433.11 170.1,433.23 170.4,432.59 170.7,432.41 171,432.02 171.3,431.5 171.6,430.46 171.9,430.16 172.2,429.43 172.5,428.65 172.8,427.35 173.1,426.62 173.4,425.17 173.7,422.75 174,420.18 174.3,417.19 174.6,415.16 174.9,413.69 175.2,412.33 175.5,411.37 175.8,410.61 176.1,410.12 176.4,410.02 176.7,410.1 177,410.84 177.3,411.41 177.6,412.24 177.9,413.62 178.2,414.95 178.5,416.55 178.8,417.73 179.1,418.15 179.4,418.45 179.7,418.31 180,418.31 180.3,418.35 180.6,418.72 180.9,418.49 181.2,418.57 181.5,418.61 181.8,418.53 182.1,418.2 182.4,418.31 182.7,418.16 183,417.95 183.3,417.83 183.6,417.44 183.9,417.27 184.2,416.93 184.5,416.57 184.8,415.67 185.1,414.82 185.4,413.44 185.7,412.12 186,410.41 186.3,408.35 186.6,403.95 186.9,397.41 187.2,389.87 187.5,382.09 187.8,375.26 188.1,366.93 188.4,358.67 188.7,350.97 189,345.12 189.3,339.92 189.6,335.62 189.9,332.38 190.2,330.82 190.5,329.78 190.8,329.03 191.1,328.56 191.4,329.06 191.7,329.61 192,330.42 192.3,331.58 192.6,334.29 192.9,338.43 193.2,343.49 193.5,348.82 193.8,355.26 194.1,362.99 194.4,370.4 194.7,377.38 195,384.64 195.3,391.76 195.6,397.01 195.9,399.9 196.2,402.03 196.5,404.1 196.8,404.94 197.1,404.78 197.4,404.61 197.7,403.82 198,403.52 198.3,403.2 198.6,402.64 198.9,402.51 199.2,402.2 199.5,402.05 199.8,401.74 200.1,402.23 200.4,402.87 200.7,403.93 201,405.01 201.3,406.36 201.6,407.42 201.9,408.79 202.2,410.38 202.5,411.85 202.8,413.59 203.1,415.09 203.4,416.61 203.7,417.83 204,419.31 204.3,420.66 204.6,421.72 204.9,422.93 205.2,423.85 205.5,424.53 205.8,425.52 206.1,426.4 206.4,426.9 206.7,427.4 207,428.22 207.3,428.63 207.6,429.37 207.9,429.54 208.2,429.92 208.5,430.19 208.8,430.62 209.1,430.82 209.4,431.05 209.7,431.39 210,431.52 210.3,431.96 210.6,431.84 210.9,432.14 211.2,432.24 211.5,432.32 211.8,432.84 212.1,432.56 212.4,433.13 212.7,432.93 213,433.25 213.3,433.63 213.6,433.24 213.9,433.43 214.2,433.85 214.5,433.8 214.8,433.79 215.1,433.91 215.4,433.85 215.7,434 216,434.18 216.3,433.95 216.6,433.96 216.9,434 217.2,433.97 217.5,433.53 217.8,433.48 218.1,433.2 218.4,433.02 218.7,432.87 219,432.68 219.3,432.39 219.6,432.22 219.9,432.22 220.2,432.16 220.5,432.11 220.8,431.74 221.1,431.61 221.4,431.55 221.7,431.42 222,431.21 222.3,431.14 222.6,431.33 222.9,431.08 223.2,431.12 223.5,431.08 223.8,431.45 224.1,431.52 224.4,431.94 224.7,431.85 225,432.16 225.3,432.33 225.6,432.56 225.9,432.32 226.2,432.74 226.5,432.64 226.8,432.7 227.1,432.75 227.4,432.8 227.7,432.87 228,432.7 228.3,433.09 228.6,433.1 228.9,433.03 229.2,433.18 229.5,433.5 229.8,433.32 230.1,433.27 230.4,433.56 230.7,433.3 231,433.42 231.3,433.41 231.6,433.48 231.9,433.63 232.2,433.65 232.5,433.54 232.8,433.64 233.1,433.71 233.4,433.69 233.7,433.76 234,433.72 234.3,433.75 234.6,433.88 234.9,433.79 235.2,433.99 235.5,433.96 235.8,433.91 236.1,433.98 236.4,434.03 236.7,434.1 237,434.16 237.3,434.16 237.6,434.11 237.9,434.41 238.2,434.38 238.5,434.32 238.8,434.45 239.1,434.41 239.4,434.37 239.7,434.44 240,434.77 240.3,434.61 240.6,434.64 240.9,434.5 241.2,434.65 241.5,434.87 241.8,434.69 242.1,434.79 242.4,434.84 242.7,434.8 243,434.93 243.3,434.8 243.6,434.86 243.9,434.75 244.2,435.16 244.5,434.91 244.8,434.92 245.1,435.09 245.4,434.9 245.7,434.98 246,434.91 246.3,435.03 246.6,435.01 246.9,435.14 247.2,435.08 247.5,435.05 247.8,435.11 248.1,435.15 248.4,435.13 248.7,435.32 249,435.31 249.3,435.27 249.6,435.13 249.9,435.35 250.2,435.16 250.5,435.35 250.8,435.36 251.1,435.3 251.4,435.29 251.7,435.33 252,435.67 252.3,435.41 252.6,435.44 252.9,435.59 253.2,435.55 253.5,435.64 253.8,435.39 254.1,435.42 254.4,435.95 254.7,435.57 255,435.56 255.3,435.63 255.6,435.74 255.9,435.5 256.2,435.68 256.5,435.66 256.8,435.76 257.1,435.71 257.4,435.64 257.7,435.62 258,435.45 258.3,435.86 258.6,435.58 258.9,435.72 259.2,435.97 259.5,435.74 259.8,435.87 260.1,435.78 260.4,435.9 260.7,435.83 261,435.78 261.3,436 261.6,435.82 261.9,435.71 262.2,435.84 262.5,435.94 262.8,435.76 263.1,435.99 263.4,436 263.7,436.16 264,435.85 264.3,436.01 264.6,435.75 264.9,435.9 265.2,435.97 265.5,436.02 265.8,435.97 266.1,435.97 266.4,435.92 266.7,435.95 267,436.04 267.3,436.08 267.6,436.1 267.9,436.15 268.2,436.18 268.5,435.84 268.8,435.99 269.1,436.04 269.4,435.99 269.7,436.2 270,436.17 270.3,436.08 270.6,436.11 270.9,436.25 271.2,436.07 271.5,436.08 271.8,436.23 272.1,436.18 272.4,436.3 272.7,436.19 273,436.24 273.3,436.09 273.6,436.05 273.9,436.17 274.2,435.87 274.5,436.23 274.8,436.3 275.1,436.2 275.4,436.17 275.7,436.33 276,436.21 276.3,436.33 276.6,436.47 276.9,436.31 277.2,436.34 277.5,436.3 277.8,436.27 278.1,436.28 278.4,436.26 278.7,436.38 279,436.08 279.3,436.24 279.6,436.35 279.9,436.18 280.2,436.27 280.5,436.21 280.8,436.35 281.1,436.4 281.4,436.47 281.7,436.37 282,436.23 282.3,436.35 282.6,436.39 282.9,436.49 283.2,436.09 283.5,436.38 283.8,436.14 284.1,436.43 284.4,436.41 284.7,436.42 285,436.47 285.3,436.41 285.6,436.3 285.9,436.42 286.2,436.52 286.5,436.38 286.8,436.4 287.1,436.26 287.4,436.54 287.7,436.35 288,436.33 288.3,436.37 288.6,436.32 288.9,436.4 289.2,436.58 289.5,436.53 289.8,436.6 290.1,436.62 290.4,436.35 290.7,436.51 291,436.63 291.3,436.73 291.6,436.31 291.9,436.31 292.2,436.53 292.5,436.44 292.8,436.37 293.1,436.53 293.4,436.41 293.7,436.24 294,436.5 294.3,436.52 294.6,436.59 294.9,436.63 295.2,436.54 295.5,436.5 295.8,436.46 296.1,436.35 296.4,436.49 296.7,436.66 297,436.63 297.3,436.79 297.6,436.54 297.9,436.36 298.2,436.67 298.5,436.7 298.8,436.45 299.1,436.4 299.4,436.61 299.7,436.68 300,436.47 300.3,436.57 300.6,436.52 300.9,436.48 301.2,436.47 301.5,436.64 301.8,436.59 302.1,436.56 302.4,436.34 302.7,436.85 303,436.55 303.3,436.64 303.6,436.53 303.9,436.71 304.2,436.5 304.5,436.69 304.8,436.66 305.1,436.79 305.4,436.57 305.7,436.62 306,436.68 306.3,436.95 306.6,436.54 306.9,436.75 307.2,436.65 307.5,436.76 307.8,436.81 308.1,436.75 308.4,436.77 308.7,436.78 309,436.68 309.3,436.73 309.6,436.57 309.9,436.72 310.2,436.68 310.5,436.75 310.8,436.86 311.1,436.83 311.4,436.84 311.7,436.92 312,436.52 312.3,436.85 312.6,436.8 312.9,436.8 313.2,436.67 313.5,436.88 313.8,436.96 314.1,436.95 314.4,436.82 314.7,436.91 315,436.95 315.3,437.06 315.6,436.99 315.9,436.87 316.2,436.87 316.5,436.88 316.8,436.9 317.1,436.82 317.4,436.97 317.7,436.8 318,436.8 318.3,436.93 318.6,436.83 318.9,436.87 319.2,436.67 319.5,437 319.8,436.91 320.1,436.9 320.4,436.98 320.7,436.95 321,436.85 321.3,437.16 321.6,436.89 321.9,437.06 322.2,437.16 322.5,436.88 322.8,436.97 323.1,436.87 323.4,437.08 323.7,436.93 324,436.85 324.3,437.13 324.6,437.09 324.9,436.88 325.2,437.12 325.5,437.02 325.8,437.31" fill="none" stroke="#c41a20" stroke-width="1.2" stroke-linejoin="round" stroke-linecap="round" />
<polyline points="25.5,475.75 25.8,475.42 26.1,475.45 26.4,475.36 26.7,475.5 27,475.48 27.3,475.58 27.6,475.48 27.9,475.25 28.2,475.34 28.5,475.66 28.8,475.62 29.1,475.42 29.4,475.42 29.7,475.42 30,475.44 30.3,475.19 30.6,475.55 30.9,475.33 31.2,475.44 31.5,475.05 31.8,475.44 32.1,475.6 32.4,475.08 32.7,475.62 33,475.46 33.3,475.29 33.6,475.16 33.9,475.55 34.2,475.42 34.5,475.46 34.8,475.33 35.1,475.25 35.4,475.49 35.7,475.22 36,475.49 36.3,475.11 36.6,475.22 36.9,475.14 37.2,475.53 37.5,475.09 37.8,475.17 38.1,475.43 38.4,475.36 38.7,475.64 39,475.59 39.3,475.41 39.6,475.42 39.9,475.05 40.2,475.18 40.5,475.26 40.8,475.28 41.1,475.1 41.4,475.16 41.7,475.17 42,475.44 42.3,475.35 42.6,475.24 42.9,475.24 43.2,475.32 43.5,475.18 43.8,475.24 44.1,475.03 44.4,475.37 44.7,475.41 45,475.32 45.3,475.33 45.6,475.31 45.9,475.55 46.2,475.28 46.5,475.06 46.8,475.1 47.1,475.35 47.4,475.4 47.7,475.36 48,475.36 48.3,475.27 48.6,475.02 48.9,475.13 49.2,474.97 49.5,475.18 49.8,475.04 50.1,475.24 50.4,475.2 50.7,474.95 51,475.33 51.3,475.33 51.6,475.02 51.9,475.24 52.2,475.32 52.5,475.17 52.8,475.34 53.1,475.24 53.4,475.37 53.7,475.24 54,475.19 54.3,475.28 54.6,475.32 54.9,475.24 55.2,475.14 55.5,475.09 55.8,475.15 56.1,475.12 56.4,475.23 56.7,475.23 57,475.19 57.3,475.2 57.6,475.22 57.9,475.43 58.2,475.37 58.5,475.12 58.8,475.26 59.1,475.15 59.4,475.18 59.7,475.16 60,475.11 60.3,475 60.6,474.84 60.9,475.23 61.2,475.37 61.5,475.07 61.8,475.27 62.1,475.14 62.4,475.24 62.7,475.08 63,475.17 63.3,475.19 63.6,474.86 63.9,475.23 64.2,475.18 64.5,474.85 64.8,475.3 65.1,475.2 65.4,475.24 65.7,475.26 66,475.15 66.3,475.05 66.6,475.15 66.9,475.15 67.2,475.54 67.5,475.48 67.8,475.15 68.1,475.16 68.4,475.27 68.7,475.3 69,475.12 69.3,475.08 69.6,475.51 69.9,475.38 70.2,475 70.5,474.97 70.8,475.11 71.1,475.27 71.4,475.32 71.7,475.19 72,475 72.3,475.27 72.6,475.33 72.9,475.24 73.2,475.17 73.5,475.33 73.8,475.24 74.1,475.09 74.4,475.27 74.7,475.07 75,475.4 75.3,475.33 75.6,475.12 75.9,475.3 76.2,475.45 76.5,474.96 76.8,475.25 77.1,475.51 77.4,475.05 77.7,475.25 78,475.07 78.3,475.27 78.6,474.93 78.9,475.05 79.2,475.21 79.5,475.31 79.8,475.35 80.1,475.36 80.4,475.47 80.7,475.4 81,475.41 81.3,475.16 81.6,475.28 81.9,475.78 82.2,475.64 82.5,475.44 82.8,475.42 83.1,475.46 83.4,475.26 83.7,475.61 84,475.27 84.3,475.32 84.6,475.65 84.9,475.03 85.2,475.39 85.5,475.08 85.8,475.24 86.1,475.33 86.4,475.29 86.7,475.37 87,475.23 87.3,475.33 87.6,475.17 87.9,475.29 88.2,475.15 88.5,475.45 88.8,475.17 89.1,475.46 89.4,475.3 89.7,475.32 90,475.54 90.3,475.38 90.6,475.09 90.9,475.44 91.2,474.94 91.5,475.41 91.8,475.31 92.1,475.17 92.4,475.39 92.7,475.33 93,475.68 93.3,475.32 93.6,475.67 93.9,475.59 94.2,475.29 94.5,475.26 94.8,475.58 95.1,475.37 95.4,475.41 95.7,475.35 96,475.21 96.3,475.34 96.6,475.25 96.9,475.16 97.2,475.35 97.5,475.66 97.8,475.63 98.1,475.38 98.4,475.41 98.7,475.47 99,475.6 99.3,475.44 99.6,475.32 99.9,475.34 100.2,475.56 100.5,475.78 100.8,475.3 101.1,475.09 101.4,475.52 101.7,475.38 102,475.41 102.3,475.58 102.6,475.4 102.9,475.19 103.2,475.1 103.5,475.38 103.8,475.21 104.1,475.43 104.4,475.19 104.7,475.33 105,475.16 105.3,475.32 105.6,475.31 105.9,475.46 106.2,475.57 106.5,475.34 106.8,475.24 107.1,475.66 107.4,475.42 107.7,475.45 108,475.45 108.3,475.57 108.6,475.5 108.9,475.45 109.2,475.46 109.5,475.21 109.8,475.25 110.1,475.32 110.4,475.34 110.7,475.33 111,475.37 111.3,475.32 111.6,475.25 111.9,475.07 112.2,475.43 112.5,475.39 112.8,475.17 113.1,475.37 113.4,475.35 113.7,475.29 114,475 114.3,475.09 114.6,475.18 114.9,475.5 115.2,475.13 115.5,475.2 115.8,475.08 116.1,475.17 116.4,475.29 116.7,474.92 117,474.8 117.3,475.32 117.6,475.22 117.9,475.12 118.2,475.35 118.5,475.34 118.8,474.87 119.1,475.16 119.4,475.34 119.7,475.07 120,475.12 120.3,475.3 120.6,475.11 120.9,474.96 121.2,475.03 121.5,474.93 121.8,475.2 122.1,474.85 122.4,475.26 122.7,474.85 123,475.1 123.3,474.86 123.6,475.03 123.9,475.22 124.2,475.23 124.5,475.25 124.8,475.03 125.1,475.05 125.4,475.06 125.7,475.11 126,474.95 126.3,475.17 126.6,475.04 126.9,475.16 127.2,475.05 127.5,475.07 127.8,474.85 128.1,474.89 128.4,474.75 128.7,474.89 129,474.9 129.3,475.04 129.6,474.72 129.9,475.38 130.2,474.87 130.5,475.07 130.8,475.02 131.1,474.48 131.4,474.8 131.7,475.05 132,474.45 132.3,474.91 132.6,474.64 132.9,474.69 133.2,474.78 133.5,474.45 133.8,474.74 134.1,474.59 134.4,474.55 134.7,474.75 135,475.14 135.3,474.64 135.6,474.65 135.9,474.54 136.2,474.41 136.5,474.53 136.8,474.69 137.1,474.46 137.4,474.54 137.7,474.34 138,474.72 138.3,474.07 138.6,474.37 138.9,474.33 139.2,474.26 139.5,474.02 139.8,473.98 140.1,474.08 140.4,474.1 140.7,473.87 141,473.85 141.3,474.06 141.6,474.09 141.9,473.82 142.2,473.76 142.5,473.72 142.8,474.16 143.1,473.82 143.4,473.7 143.7,473.82 144,473.97 144.3,473.77 144.6,473.34 144.9,473.5 145.2,473.41 145.5,473.38 145.8,473.21 146.1,473.29 146.4,473.15 146.7,473.33 147,473.25 147.3,472.99 147.6,472.9 147.9,473.04 148.2,473.17 148.5,473.09 148.8,472.95 149.1,472.4 149.4,472.76 149.7,472.65 150,472.63 150.3,472.41 150.6,472.44 150.9,472.3 151.2,472.7 151.5,472.28 151.8,472.01 152.1,471.84 152.4,471.44 152.7,470.9 153,470.08 153.3,469.29 153.6,468.5 153.9,467.48 154.2,466.38 154.5,465.48 154.8,464.08 155.1,462.51 155.4,460.86 155.7,459.37 156,457.71 156.3,455.95 156.6,453.97 156.9,451.28 157.2,448.59 157.5,446.11 157.8,443.55 158.1,440.92 158.4,439.04 158.7,437.33 159,435.32 159.3,433.85 159.6,432.98 159.9,434.01 160.2,435.23 160.5,436.99 160.8,438.92 161.1,441.53 161.4,445.28 161.7,448.9 162,452.25 162.3,455.06 162.6,458.25 162.9,460.12 163.2,462.05 163.5,463.35 163.8,465.01 164.1,466.44 164.4,467.39 164.7,468.07 165,468.94 165.3,469.66 165.6,469.93 165.9,470.45 166.2,471.18 166.5,471.44 166.8,472.06 167.1,472.09 167.4,472.22 167.7,472.53 168,472.92 168.3,472.48 168.6,472.37 168.9,472.04 169.2,471.39 169.5,471.15 169.8,470.43 170.1,469.86 170.4,468.94 170.7,468.34 171,467.59 171.3,467.33 171.6,466.63 171.9,466 172.2,465.26 172.5,464.04 172.8,462.96 173.1,461.86 173.4,460.26 173.7,457.4 174,454.76 174.3,451.76 174.6,449.24 174.9,447.56 175.2,445.58 175.5,443.95 175.8,443.05 176.1,442.49 176.4,443.16 176.7,444.93 177,447.26 177.3,449.32 177.6,451.38 177.9,453.47 178.2,455.77 178.5,457.58 178.8,458.72 179.1,459.05 179.4,459.49 179.7,459.71 180,460.5 180.3,460.25 180.6,460.51 180.9,460.69 181.2,460.29 181.5,460.36 181.8,460.41 182.1,460.3 182.4,460.23 182.7,460.31 183,460.54 183.3,460.4 183.6,460 183.9,459.29 184.2,458.02 184.5,457.18 184.8,455.88 185.1,454.43 185.4,453.38 185.7,451.88 186,450.01 186.3,447.49 186.6,443.17 186.9,437.19 187.2,430.7 187.5,424.04 187.8,418.12 188.1,411.8 188.4,405.39 188.7,400.06 189,395.26 189.3,393.22 189.6,391.01 189.9,389.19 190.2,387.67 190.5,386.64 190.8,385.82 191.1,385.33 191.4,385.12 191.7,384.56 192,384.69 192.3,384.59 192.6,383.97 192.9,385.45 193.2,388.1 193.5,391.3 193.8,395.01 194.1,401.89 194.4,412.46 194.7,423.35 195,431.36 195.3,436.01 195.6,440.29 195.9,443.26 196.2,445.98 196.5,447.85 196.8,449.97 197.1,451.07 197.4,450.57 197.7,448.98 198,447.36 198.3,445.72 198.6,444.78 198.9,444.19 199.2,443.55 199.5,442.57 199.8,443 200.1,443.11 200.4,444.1 200.7,445.77 201,447.01 201.3,448.26 201.6,449.87 201.9,451.89 202.2,453.87 202.5,455.72 202.8,456.97 203.1,458.21 203.4,459.73 203.7,460.54 204,461.87 204.3,462.64 204.6,463.52 204.9,464.3 205.2,465.21 205.5,465.88 205.8,466.6 206.1,467.37 206.4,467.91 206.7,468.59 207,469.01 207.3,469.34 207.6,469.71 207.9,470.03 208.2,470.64 208.5,470.66 208.8,470.83 209.1,471.12 209.4,471.49 209.7,471.58 210,471.78 210.3,471.96 210.6,472.21 210.9,472.43 211.2,472.63 211.5,472.5 211.8,472.77 212.1,472.71 212.4,473.39 212.7,473.59 213,473.75 213.3,473.71 213.6,473.96 213.9,473.87 214.2,473.93 214.5,473.75 214.8,473.88 215.1,473.92 215.4,474.15 215.7,474.27 216,473.96 216.3,474.1 216.6,474.09 216.9,473.94 217.2,473.8 217.5,473.95 217.8,473.85 218.1,474.03 218.4,474.06 218.7,474.06 219,474.06 219.3,474.16 219.6,473.96 219.9,474.23 220.2,473.85 220.5,474.12 220.8,474.17 221.1,473.99 221.4,473.88 221.7,474.21 222,474.02 222.3,474.24 222.6,474.24 222.9,474.13 223.2,474.13 223.5,474.28 223.8,474.19 224.1,474 224.4,474.16 224.7,474.22 225,474.17 225.3,474.17 225.6,474.12 225.9,474.13 226.2,474.01 226.5,473.94 226.8,474.32 227.1,474.06 227.4,474.19 227.7,473.94 228,474.19 228.3,474.05 228.6,474.62 228.9,474.03 229.2,474.04 229.5,474.33 229.8,474.36 230.1,473.88 230.4,474.24 230.7,474.34 231,474.03 231.3,474.32 231.6,474.15 231.9,474.08 232.2,474.18 232.5,474.17 232.8,474.04 233.1,474.59 233.4,474.19 233.7,474.16 234,474.4 234.3,474.27 234.6,474.49 234.9,474.26 235.2,474.36 235.5,474.33 235.8,474.34 236.1,474.3 236.4,474.32 236.7,474.59 237,474.25 237.3,474.28 237.6,474.32 237.9,474.46 238.2,474.44 238.5,474.53 238.8,474.2 239.1,474.45 239.4,474.39 239.7,474.38 240,474.46 240.3,474.15 240.6,474.49 240.9,474.48 241.2,474.26 241.5,474.47 241.8,474.72 242.1,474.44 242.4,474.59 242.7,474.48 243,474.4 243.3,474.4 243.6,474.48 243.9,474.75 244.2,474.68 244.5,474.47 244.8,474.73 245.1,474.57 245.4,474.5 245.7,474.67 246,474.48 246.3,474.39 246.6,474.83 246.9,474.37 247.2,474.73 247.5,474.44 247.8,474.67 248.1,474.65 248.4,474.63 248.7,474.38 249,474.69 249.3,474.71 249.6,474.59 249.9,474.73 250.2,474.89 250.5,474.65 250.8,474.8 251.1,474.6 251.4,474.84 251.7,474.88 252,475.17 252.3,474.94 252.6,474.88 252.9,475.03 253.2,474.69 253.5,475 253.8,474.77 254.1,474.77 254.4,475.03 254.7,474.91 255,475.08 255.3,474.67 255.6,474.94 255.9,474.83 256.2,474.87 256.5,474.64 256.8,475.07 257.1,474.96 257.4,474.8 257.7,474.75 258,474.83 258.3,475.17 258.6,474.95 258.9,474.93 259.2,475.05 259.5,474.99 259.8,475.03 260.1,475.11 260.4,475.05 260.7,475.14 261,474.84 261.3,475.03 261.6,474.98 261.9,475.05 262.2,475.03 262.5,474.95 262.8,475 263.1,475.2 263.4,474.98 263.7,474.88 264,475.16 264.3,475.22 264.6,475.04 264.9,475.11 265.2,474.97 265.5,475.07 265.8,475.27 266.1,475.23 266.4,475.14 266.7,475.08 267,474.89 267.3,475.18 267.6,475.2 267.9,475.3 268.2,475.44 268.5,475.21 268.8,475.3 269.1,475 269.4,475.34 269.7,475.3 270,475.37 270.3,475.28 270.6,475.25 270.9,475.41 271.2,475.1 271.5,475.29 271.8,475.36 272.1,475.09 272.4,475.04 272.7,475.28 273,475.24 273.3,475.32 273.6,475.32 273.9,475.12 274.2,475.29 274.5,475.41 274.8,475.2 275.1,475.21 275.4,475.09 275.7,475.38 276,475.55 276.3,475.07 276.6,475.39 276.9,475.41 277.2,475.2 277.5,475.23 277.8,475.14 278.1,475.18 278.4,475.33 278.7,475.4 279,475.33 279.3,475.44 279.6,475.35 279.9,475.15 280.2,475.54 280.5,475.5 280.8,475.23 281.1,475.6 281.4,475.41 281.7,475.37 282,475.63 282.3,474.99 282.6,475.13 282.9,475.47 283.2,475.33 283.5,475.23 283.8,475.6 284.1,475.45 284.4,475.2 284.7,475.29 285,475.52 285.3,475.66 285.6,475.11 285.9,475.44 286.2,475.35 286.5,475.16 286.8,475.39 287.1,475.19 287.4,475.35 287.7,475.67 288,475.51 288.3,475.55 288.6,475.53 288.9,475.5 289.2,475.59 289.5,475.28 289.8,475.41 290.1,475.59 290.4,475.36 290.7,475.41 291,475.65 291.3,475.7 291.6,475.4 291.9,475.37 292.2,475.58 292.5,475.54 292.8,475.4 293.1,475.59 293.4,475.59 293.7,475.53 294,475.95 294.3,475.72 294.6,475.65 294.9,475.68 295.2,475.97 295.5,475.7 295.8,475.44 296.1,475.6 296.4,475.56 296.7,475.47 297,475.6 297.3,475.6 297.6,475.56 297.9,475.5 298.2,475.7 298.5,475.35 298.8,475.71 299.1,475.59 299.4,475.64 299.7,475.25 300,475.85 300.3,475.36 300.6,475.49 300.9,475.71 301.2,475.54 301.5,475.57 301.8,475.31 302.1,475.57 302.4,475.67 302.7,475.75 303,475.61 303.3,475.69 303.6,475.73 303.9,475.57 304.2,475.56 304.5,475.96 304.8,475.55 305.1,475.87 305.4,475.7 305.7,475.91 306,475.6 306.3,475.78 306.6,475.76 306.9,475.68 307.2,475.76 307.5,475.61 307.8,475.71 308.1,475.67 308.4,475.85 308.7,475.73 309,475.54 309.3,475.69 309.6,475.74 309.9,475.63 310.2,475.96 310.5,475.83 310.8,475.9 311.1,475.66 311.4,475.72 311.7,475.93 312,475.58 312.3,475.85 312.6,475.81 312.9,475.73 313.2,475.82 313.5,475.66 313.8,475.85 314.1,475.64 314.4,475.64 314.7,476.04 315,475.73 315.3,475.53 315.6,475.99 315.9,475.74 316.2,475.34 316.5,475.85 316.8,476 317.1,475.92 317.4,476.13 317.7,475.86 318,475.97 318.3,475.74 318.6,475.92 318.9,476.12 319.2,475.98 319.5,475.93 319.8,475.62 320.1,475.86 320.4,475.73 320.7,476.04 321,475.82 321.3,475.99 321.6,475.79 321.9,476.22 322.2,475.77 322.5,475.97 322.8,476.35 323.1,475.99 323.4,475.84 323.7,476.06 324,476.12 324.3,476.11 324.6,475.69 324.9,476.02 325.2,475.68 325.5,476.28 325.8,476.01" fill="none" stroke="#333333" stroke-width="1.2" stroke-linejoin="round" stroke-linecap="round" />
<text x="171.8" y="291.6" font-size="12.2" text-anchor="start" fill="#222" stroke="#222" >C2,3,5</text>
<text x="151.2" y="348.4" font-size="12.2" text-anchor="start" fill="#222" stroke="#222" >C1</text>
<text x="169" y="358.6" font-size="12.2" text-anchor="start" fill="#222" stroke="#222" >C4</text>
<text x="196" y="358.6" font-size="12.2" text-anchor="start" fill="#222" stroke="#222" >C6</text>
<text x="25.2" y="391.9" font-size="12.4" text-anchor="start" fill="#222" stroke="#222" >Cu/S-paper</text>
<text x="26.7" y="429.9" font-size="12.4" text-anchor="start" fill="#222" stroke="#222" >S-paper</text>
<text x="29.5" y="468.2" font-size="12.4" text-anchor="start" fill="#222" stroke="#222" >paper</text>
<line x1="28.5" y1="300.8" x2="40.1" y2="307" stroke="#222" stroke-width="0.75" />
<text x="42.4" y="312.6" font-size="8.3" text-anchor="middle" fill="#222" >O</text>
<line x1="45.3" y1="306.4" x2="56.9" y2="301.5" stroke="#222" stroke-width="0.75" />
<line x1="56.9" y1="301.5" x2="79" y2="307.8" stroke="#222" stroke-width="0.75" />
<line x1="79" y1="307.8" x2="98.3" y2="302.8" stroke="#222" stroke-width="0.75" />
<text x="101.6" y="305.2" font-size="8.3" text-anchor="middle" fill="#222" >O</text>
<line x1="79" y1="307.8" x2="65.7" y2="298.6" stroke="#222" stroke-width="0.75" />
<line x1="65.7" y1="298.6" x2="65.7" y2="287.2" stroke="#222" stroke-width="0.75" />
<text x="69" y="285.8" font-size="8.3" text-anchor="middle" fill="#222" >OH</text>
<line x1="103.8" y1="305.2" x2="112.6" y2="321.7" stroke="#222" stroke-width="0.75" />
<polygon points="56.6,301.5 57.4,301.3 69.2,320.2 66.6,321.0" fill="#222"/>
<polyline points="67.6,320.6 91.6,315.3 112.6,321.7" fill="none" stroke="#222" stroke-width="2.3" stroke-linejoin="round"/>
<line x1="55.2" y1="318.8" x2="67.2" y2="320.6" stroke="#222" stroke-width="0.75" />
<text x="48.8" y="321.3" font-size="8.3" text-anchor="middle" fill="#222" >HO</text>
<line x1="91.6" y1="315.3" x2="97" y2="322.3" stroke="#222" stroke-width="0.75" />
<text x="105.3" y="329.8" font-size="8.3" text-anchor="middle" fill="#222" >OH</text>
<line x1="112.6" y1="321.7" x2="126.2" y2="319.8" stroke="#222" stroke-width="0.75" />
<text x="129.7" y="322.2" font-size="8.3" text-anchor="middle" fill="#222" >O</text>
<line x1="132.8" y1="321.4" x2="141" y2="331.2" stroke="#222" stroke-width="0.75" />
<text x="55.1" y="297.4" font-size="7.6" text-anchor="middle" fill="#222" >C4</text>
<text x="71.5" y="297.4" font-size="7.6" text-anchor="middle" fill="#222" >C6</text>
<text x="81.3" y="302.2" font-size="7.6" text-anchor="middle" fill="#222" >C5</text>
<text x="68.3" y="332.9" font-size="7.6" text-anchor="middle" fill="#222" >C3</text>
<text x="89" y="328.1" font-size="7.6" text-anchor="middle" fill="#222" >C2</text>
<text x="116.2" y="317.3" font-size="7.6" text-anchor="middle" fill="#222" >C1</text>
<line x1="250.5" y1="297.3" x2="261" y2="303.3" stroke="#222" stroke-width="0.7" stroke-dasharray="1.2,1.2"/>
<text x="263.9" y="308.6" font-size="8.3" text-anchor="middle" fill="#222" >O</text>
<line x1="266.3" y1="304.4" x2="278.1" y2="298.7" stroke="#222" stroke-width="0.75" />
<line x1="277.5" y1="298.7" x2="277.5" y2="286" stroke="#222" stroke-width="0.75" />
<line x1="279" y1="298" x2="279" y2="286" stroke="#222" stroke-width="0.75" />
<text x="277.8" y="285.1" font-size="8.3" text-anchor="middle" fill="#222" >O</text>
<line x1="278.1" y1="298.7" x2="291.9" y2="305.9" stroke="#222" stroke-width="0.75" />
<line x1="291.9" y1="305.9" x2="301.3" y2="300.8" stroke="#222" stroke-width="0.75" />
<line x1="250.5" y1="343.3" x2="261" y2="349.3" stroke="#222" stroke-width="0.7" stroke-dasharray="1.2,1.2"/>
<text x="263.9" y="354.6" font-size="8.3" text-anchor="middle" fill="#222" >O</text>
<line x1="266.3" y1="350.4" x2="278.1" y2="344.7" stroke="#222" stroke-width="0.75" />
<line x1="277.5" y1="344.7" x2="277.5" y2="332" stroke="#222" stroke-width="0.75" />
<line x1="279" y1="344" x2="279" y2="332" stroke="#222" stroke-width="0.75" />
<text x="277.8" y="331.1" font-size="8.3" text-anchor="middle" fill="#222" >O</text>
<line x1="278.1" y1="344.7" x2="291.9" y2="351.9" stroke="#222" stroke-width="0.75" />
<line x1="291.9" y1="351.9" x2="301.3" y2="346.8" stroke="#222" stroke-width="0.75" />
<text x="302" y="300.9" font-size="8.3" text-anchor="start" fill="#222" >SH</text>
<text x="304.4" y="347.2" font-size="8.3" text-anchor="middle" fill="#222" >S</text>
<line x1="308.6" y1="346.4" x2="318.2" y2="351.9" stroke="#222" stroke-width="0.7" stroke-dasharray="1.2,1.2"/>
<text x="291.2" y="301.2" font-size="8.3" text-anchor="middle" fill="#222" >2</text>
<text x="278.4" y="309.4" font-size="8.3" text-anchor="middle" fill="#222" >1</text>
<text x="292.3" y="346.9" font-size="8.3" text-anchor="middle" fill="#222" >3</text>
<rect x="371" y="275" width="301.5" height="222.3" fill="none" stroke="#555" stroke-width="1.1"/>
<line x1="371" y1="497.3" x2="371" y2="500.8" stroke="#555" stroke-width="1.0" />
<line x1="401.15" y1="497.3" x2="401.15" y2="500.8" stroke="#555" stroke-width="1.0" />
<line x1="431.3" y1="497.3" x2="431.3" y2="500.8" stroke="#555" stroke-width="1.0" />
<line x1="461.45" y1="497.3" x2="461.45" y2="500.8" stroke="#555" stroke-width="1.0" />
<line x1="491.6" y1="497.3" x2="491.6" y2="500.8" stroke="#555" stroke-width="1.0" />
<line x1="521.75" y1="497.3" x2="521.75" y2="500.8" stroke="#555" stroke-width="1.0" />
<line x1="551.9" y1="497.3" x2="551.9" y2="500.8" stroke="#555" stroke-width="1.0" />
<line x1="582.05" y1="497.3" x2="582.05" y2="500.8" stroke="#555" stroke-width="1.0" />
<line x1="612.2" y1="497.3" x2="612.2" y2="500.8" stroke="#555" stroke-width="1.0" />
<line x1="642.35" y1="497.3" x2="642.35" y2="500.8" stroke="#555" stroke-width="1.0" />
<line x1="672.5" y1="497.3" x2="672.5" y2="500.8" stroke="#555" stroke-width="1.0" />
<line x1="386.07" y1="497.3" x2="386.07" y2="499.3" stroke="#555" stroke-width="1.0" />
<line x1="416.23" y1="497.3" x2="416.23" y2="499.3" stroke="#555" stroke-width="1.0" />
<line x1="446.38" y1="497.3" x2="446.38" y2="499.3" stroke="#555" stroke-width="1.0" />
<line x1="476.52" y1="497.3" x2="476.52" y2="499.3" stroke="#555" stroke-width="1.0" />
<line x1="506.68" y1="497.3" x2="506.68" y2="499.3" stroke="#555" stroke-width="1.0" />
<line x1="536.83" y1="497.3" x2="536.83" y2="499.3" stroke="#555" stroke-width="1.0" />
<line x1="566.98" y1="497.3" x2="566.98" y2="499.3" stroke="#555" stroke-width="1.0" />
<line x1="597.12" y1="497.3" x2="597.12" y2="499.3" stroke="#555" stroke-width="1.0" />
<line x1="627.27" y1="497.3" x2="627.27" y2="499.3" stroke="#555" stroke-width="1.0" />
<line x1="657.42" y1="497.3" x2="657.42" y2="499.3" stroke="#555" stroke-width="1.0" />
<text x="371" y="512.4" font-size="10" text-anchor="middle" fill="#222" stroke="#222" >240</text>
<text x="401.15" y="512.4" font-size="10" text-anchor="middle" fill="#222" stroke="#222" >210</text>
<text x="431.3" y="512.4" font-size="10" text-anchor="middle" fill="#222" stroke="#222" >180</text>
<text x="461.45" y="512.4" font-size="10" text-anchor="middle" fill="#222" stroke="#222" >150</text>
<text x="491.6" y="512.4" font-size="10" text-anchor="middle" fill="#222" stroke="#222" >120</text>
<text x="521.75" y="512.4" font-size="10" text-anchor="middle" fill="#222" stroke="#222" >90</text>
<text x="551.9" y="512.4" font-size="10" text-anchor="middle" fill="#222" stroke="#222" >60</text>
<text x="582.05" y="512.4" font-size="10" text-anchor="middle" fill="#222" stroke="#222" >30</text>
<text x="612.2" y="512.4" font-size="10" text-anchor="middle" fill="#222" stroke="#222" >0</text>
<text x="642.35" y="512.4" font-size="10" text-anchor="middle" fill="#222" stroke="#222" >-30</text>
<text x="672.5" y="512.4" font-size="10" text-anchor="middle" fill="#222" stroke="#222" >-60</text>
<text x="521.75" y="533.6" font-size="12.5" text-anchor="middle" fill="#222" stroke="#222" ><tspan font-size="8" dy="-4.5">13</tspan><tspan dy="4.5">C chemical shift (ppm)</tspan></text>
<text x="349.3" y="290" font-size="13" text-anchor="start" fill="#222" stroke="#222" >(d)</text>
<clipPath id="cd"><rect x="371" y="275" width="301.5" height="222.3"/></clipPath>
<line x1="438.5" y1="312.6" x2="438.5" y2="475.2" stroke="#8a8a8a" stroke-width="0.8" stroke-dasharray="2.2,1.8"/>
<line x1="569.4" y1="313.7" x2="569.4" y2="475.2" stroke="#8a8a8a" stroke-width="0.8" stroke-dasharray="2.2,1.8"/>
<line x1="583.6" y1="313.7" x2="583.6" y2="475.2" stroke="#8a8a8a" stroke-width="0.8" stroke-dasharray="2.2,1.8"/>
<g clip-path="url(#cd)">
<polyline points="371,469.38 371.3,469.77 371.6,470.17 371.9,470.58 372.2,471.03 372.5,471.52 372.8,472.05 373.1,472.6 373.4,473.13 373.7,473.63 374,474.09 374.3,474.49 374.6,474.85 374.9,475.17 375.2,475.41 375.5,475.54 375.8,475.57 376.1,475.53 376.4,475.47 376.7,475.48 377,475.59 377.3,475.84 377.6,476.18 377.9,476.56 378.2,476.94 378.5,477.24 378.8,477.45 379.1,477.41 379.4,477.03 379.7,476.38 380,475.53 380.3,474.54 380.6,473.48 380.9,472.41 381.2,471.37 381.5,470.4 381.8,469.56 382.1,468.91 382.4,468.55 382.7,468.41 383,468.42 383.3,468.57 383.6,468.85 383.9,469.25 384.2,469.72 384.5,470.18 384.8,470.58 385.1,470.89 385.4,471.13 385.7,471.36 386,471.64 386.3,472.04 386.6,472.63 386.9,473.37 387.2,474.16 387.5,474.96 387.8,475.75 388.1,476.53 388.4,477.29 388.7,478.02 389,478.66 389.3,479.14 389.6,479.4 389.9,479.36 390.2,478.95 390.5,478.26 390.8,477.39 391.1,476.44 391.4,475.51 391.7,474.67 392,473.95 392.3,473.36 392.6,472.93 392.9,472.53 393.2,472.05 393.5,471.55 393.8,471.11 394.1,470.82 394.4,470.69 394.7,470.72 395,470.89 395.3,471.17 395.6,471.5 395.9,471.84 396.2,472.1 396.5,472.26 396.8,472.27 397.1,472.17 397.4,471.99 397.7,471.81 398,471.64 398.3,471.48 398.6,471.31 398.9,471.08 399.2,470.79 399.5,470.47 399.8,470.16 400.1,469.92 400.4,469.83 400.7,469.91 401,470.13 401.3,470.5 401.6,471.02 401.9,471.66 402.2,472.39 402.5,473.16 402.8,473.93 403.1,474.64 403.4,475.24 403.7,475.69 404,475.95 404.3,475.98 404.6,475.77 404.9,475.35 405.2,474.78 405.5,474.17 405.8,473.61 406.1,473.13 406.4,472.78 406.7,472.55 407,472.43 407.3,472.42 407.6,472.52 407.9,472.65 408.2,472.79 408.5,472.95 408.8,473.11 409.1,473.25 409.4,473.32 409.7,473.3 410,473.17 410.3,472.95 410.6,472.68 410.9,472.43 411.2,472.1 411.5,471.64 411.8,471.09 412.1,470.5 412.4,469.89 412.7,469.28 413,468.7 413.3,468.21 413.6,467.86 413.9,467.74 414.2,467.85 414.5,468.18 414.8,468.68 415.1,469.28 415.4,469.9 415.7,470.44 416,470.82 416.3,471 416.6,470.95 416.9,470.68 417.2,470.29 417.5,469.83 417.8,469.34 418.1,468.87 418.4,468.47 418.7,468.17 419,467.98 419.3,467.94 419.6,468.05 419.9,468.34 420.2,468.8 420.5,469.38 420.8,470.02 421.1,470.7 421.4,471.38 421.7,472.06 422,472.72 422.3,473.35 422.6,473.92 422.9,474.37 423.2,474.67 423.5,474.78 423.8,474.77 424.1,474.62 424.4,474.35 424.7,473.99 425,473.57 425.3,473.15 425.6,472.77 425.9,472.46 426.2,472.23 426.5,472.07 426.8,471.95 427.1,471.82 427.4,471.64 427.7,471.43 428,471.22 428.3,471.04 428.6,470.94 428.9,470.91 429.2,470.94 429.5,471.01 429.8,471.1 430.1,471.24 430.4,471.43 430.7,471.66 431,471.92 431.3,472.17 431.6,472.37 431.9,472.51 432.2,472.64 432.5,472.85 432.8,473.13 433.1,473.48 433.4,473.81 433.7,474.06 434,474.18 434.3,474.16 434.6,474.03 434.9,473.85 435.2,473.56 435.5,472.99 435.8,472.15 436.1,471.12 436.4,469.98 436.7,468.8 437,467.7 437.3,466.74 437.6,466.01 437.9,465.58 438.2,465.53 438.5,465.85 438.8,466.33 439.1,466.89 439.4,467.45 439.7,467.97 440,468.42 440.3,468.79 440.6,469.08 440.9,469.31 441.2,469.53 441.5,469.76 441.8,470.09 442.1,470.56 442.4,471.09 442.7,471.6 443,471.98 443.3,472.19 443.6,472.21 443.9,472.11 444.2,471.96 444.5,471.86 444.8,471.87 445.1,472.01 445.4,472.23 445.7,472.44 446,472.59 446.3,472.63 446.6,472.53 446.9,472.28 447.2,471.89 447.5,471.4 447.8,470.85 448.1,470.27 448.4,469.7 448.7,469.19 449,468.75 449.3,468.43 449.6,468.22 449.9,468.72 450.2,470.09 450.5,471.65 450.8,472.75 451.1,472.75 451.4,471.42 451.7,469.38 452,467.34 452.3,465.99 452.6,465.96 452.9,466.84 453.2,468.27 453.5,470.03 453.8,471.92 454.1,473.76 454.4,475.4 454.7,476.71 455,477.59 455.3,477.92 455.6,477.67 455.9,477.02 456.2,476.07 456.5,474.93 456.8,473.66 457.1,472.36 457.4,471.11 457.7,470 458,469.11 458.3,468.54 458.6,468.16 458.9,467.76 459.2,467.41 459.5,467.16 459.8,467.04 460.1,467.02 460.4,467.1 460.7,467.23 461,467.42 461.3,467.67 461.6,467.97 461.9,468.3 462.2,468.62 462.5,468.98 462.8,469.31 463.1,469.56 463.4,469.7 463.7,469.75 464,469.73 464.3,469.67 464.6,469.58 464.9,469.47 465.2,469.16 465.5,468.54 465.8,467.69 466.1,466.67 466.4,465.57 466.7,464.45 467,463.38 467.3,462.37 467.6,461.42 467.9,460.55 468.2,459.79 468.5,459.27 468.8,459.05 469.1,459.07 469.4,459.26 469.7,459.52 470,459.7 470.3,459.79 470.6,459.88 470.9,459.92 471.2,459.89 471.5,459.8 471.8,459.67 472.1,459.54 472.4,459.43 472.7,459.33 473,459.23 473.3,459.11 473.6,458.94 473.9,458.74 474.2,458.53 474.5,458.34 474.8,458.26 475.1,458.4 475.4,458.75 475.7,459.26 476,459.88 476.3,460.49 476.6,461 476.9,461.31 477.2,461.38 477.5,461.25 477.8,460.98 478.1,460.64 478.4,460.27 478.7,459.87 479,459.46 479.3,459.01 479.6,458.52 479.9,457.96 480.2,457.34 480.5,456.67 480.8,455.87 481.1,454.97 481.4,454.02 481.7,453.04 482,452.05 482.3,451.06 482.6,450.08 482.9,449.12 483.2,448.19 483.5,447.31 483.8,446.47 484.1,445.71 484.4,445.04 484.7,444.5 485,444.13 485.3,443.93 485.6,443.95 485.9,444.52 486.2,445.62 486.5,447.09 486.8,448.79 487.1,450.56 487.4,452.28 487.7,453.82 488,455.07 488.3,455.92 488.6,456.26 488.9,456.27 489.2,456.03 489.5,455.52 489.8,454.74 490.1,453.7 490.4,452.46 490.7,451.13 491,449.83 491.3,448.66 491.6,447.71 491.9,447.05 492.2,446.69 492.5,446.45 492.8,446.24 493.1,446.02 493.4,445.77 493.7,445.49 494,445.2 494.3,444.96 494.6,444.82 494.9,444.81 495.2,444.88 495.5,444.98 495.8,445.02 496.1,444.69 496.4,443.82 496.7,442.55 497,441 497.3,439.25 497.6,437.32 497.9,435.2 498.2,432.89 498.5,430.25 498.8,427.13 499.1,423.64 499.4,419.88 499.7,415.91 500,411.8 500.3,407.54 500.6,403.15 500.9,398.62 501.2,394.08 501.5,389.25 501.8,383.51 502.1,376.21 502.4,365.96 502.7,344.68 503,316.46 503.3,289.13 503.6,270.04 503.9,257.04 504.2,244.69 504.5,226.91 504.8,205.77 505.1,199.81 505.4,199.71 505.7,199.55 506,199.36 506.3,199.2 506.6,200.35 506.9,214.56 507.2,234.21 507.5,248.73 507.8,261.64 508.1,275.84 508.4,294.11 508.7,315.68 509,337.59 509.3,356.98 509.6,370.97 509.9,380.72 510.2,389.38 510.5,397.02 510.8,403.69 511.1,409.41 511.4,414.25 511.7,418.43 512,422.55 512.3,426.48 512.6,430.06 512.9,433.11 513.2,435.41 513.5,436.73 513.8,436.88 514.1,436.22 514.4,434.99 514.7,433.3 515,431.3 515.3,429.1 515.6,426.8 515.9,424.48 516.2,422.25 516.5,420.06 516.8,417.82 517.1,415.44 517.4,412.79 517.7,409.67 518,405.87 518.3,401.2 518.6,394.2 518.9,381.46 519.2,363.28 519.5,330.29 519.8,293.67 520.1,269.5 520.4,254.65 520.7,241.08 521,222.79 521.3,205.91 521.6,201.71 521.9,201.75 522.2,201.61 522.5,201.28 522.8,200.77 523.1,201.36 523.4,214.64 523.7,233.66 524,250.33 524.3,267.34 524.6,275.62 524.9,279.97 525.2,283.46 525.5,286.12 525.8,288.02 526.1,289.24 526.4,289.93 526.7,290.31 527,290.58 527.3,290.97 527.6,291.74 527.9,293.32 528.2,295.46 528.5,297.7 528.8,299.52 529.1,300.43 529.4,299.58 529.7,296.94 530,293.27 530.3,289.36 530.6,285.41 530.9,280.4 531.2,272.77 531.5,257.93 531.8,240.65 532.1,219.6 532.4,202.05 532.7,200.4 533,200.27 533.3,200.09 533.6,199.85 533.9,199.59 534.2,199.36 534.5,199.17 534.8,199.05 535.1,199.01 535.4,199.03 535.7,199.11 536,199.2 536.3,199.29 536.6,199.36 536.9,199.42 537.2,199.49 537.5,199.59 537.8,199.72 538.1,199.85 538.4,199.95 538.7,199.99 539,199.95 539.3,199.82 539.6,199.62 539.9,199.37 540.2,199.13 540.5,198.97 540.8,198.95 541.1,199.07 541.4,199.32 541.7,199.62 542,199.91 542.3,200.12 542.6,200.25 542.9,200.27 543.2,200.23 543.5,200.12 543.8,199.96 544.1,199.77 544.4,199.6 544.7,199.47 545,199.43 545.3,199.48 545.6,199.64 545.9,199.85 546.2,200.04 546.5,200.13 546.8,206.05 547.1,219.66 547.4,234.81 547.7,247.32 548,260 548.3,273.08 548.6,287.62 548.9,303.25 549.2,317.66 549.5,328.52 549.8,336.11 550.1,342.42 550.4,347.84 550.7,352.74 551,357.48 551.3,362.38 551.6,367.74 551.9,373.66 552.2,379.7 552.5,385.74 552.8,391.71 553.1,397.55 553.4,403.26 553.7,409.09 554,415.49 554.3,421.61 554.6,426.47 554.9,429.6 555.2,432.26 555.5,434.48 555.8,436.22 556.1,437.47 556.4,438.24 556.7,438.68 557,439.02 557.3,439.38 557.6,439.86 557.9,440.42 558.2,440.95 558.5,441.46 558.8,441.93 559.1,442.43 559.4,443.07 559.7,444.59 560,446.87 560.3,449.58 560.6,452.31 560.9,454.69 561.2,456.31 561.5,456.86 561.8,457.07 562.1,457.2 562.4,457.26 562.7,457.25 563,457.19 563.3,457.13 563.6,457.12 563.9,457.22 564.2,457.45 564.5,457.77 564.8,458.12 565.1,458.43 565.4,458.63 565.7,458.68 566,458.59 566.3,458.41 566.6,458.19 566.9,457.96 567.2,457.71 567.5,457.12 567.8,456.25 568.1,455.3 568.4,454.45 568.7,453.88 569,453.74 569.3,453.97 569.6,454.35 569.9,454.83 570.2,455.35 570.5,455.88 570.8,456.38 571.1,456.8 571.4,457.09 571.7,457.24 572,457.22 572.3,457.05 572.6,456.74 572.9,456.26 573.2,455.62 573.5,454.82 573.8,453.9 574.1,452.96 574.4,452.09 574.7,451.34 575,450.75 575.3,450.31 575.6,449.96 575.9,449.66 576.2,449.42 576.5,449.25 576.8,449.24 577.1,449.52 577.4,450.08 577.7,450.88 578,451.86 578.3,452.97 578.6,454.13 578.9,455.29 579.2,456.37 579.5,457.31 579.8,458.04 580.1,458.49 580.4,458.62 580.7,458.54 581,458.41 581.3,458.25 581.6,458.08 581.9,457.89 582.2,457.65 582.5,457.33 582.8,456.93 583.1,456.48 583.4,456 583.7,455.54 584,455.15 584.3,454.85 584.6,454.65 584.9,454.55 585.2,454.55 585.5,454.67 585.8,454.86 586.1,455.08 586.4,455.25 586.7,455.31 587,455.2 587.3,454.91 587.6,454.46 587.9,453.92 588.2,453.37 588.5,452.85 588.8,452.44 589.1,452.17 589.4,452.01 589.7,451.9 590,451.78 590.3,451.6 590.6,451.37 590.9,451.13 591.2,450.94 591.5,450.86 591.8,450.92 592.1,451.37 592.4,452.19 592.7,453.3 593,454.65 593.3,456.17 593.6,457.79 593.9,459.43 594.2,460.94 594.5,462.21 594.8,463.14 595.1,463.67 595.4,463.78 595.7,463.45 596,462.8 596.3,461.89 596.6,460.77 596.9,459.53 597.2,458.29 597.5,457.2 597.8,456.41 598.1,456 598.4,456.02 598.7,456.46 599,457.26 599.3,458.27 599.6,459.41 599.9,460.63 600.2,461.9 600.5,463.18 600.8,464.44 601.1,465.67 601.4,466.82 601.7,467.87 602,468.79 602.3,469.54 602.6,470.07 602.9,470.32 603.2,470.41 603.5,470.46 603.8,470.46 604.1,470.4 604.4,470.31 604.7,470.24 605,470.22 605.3,470.25 605.6,470.29 605.9,470.32 606.2,470.3 606.5,470.23 606.8,470.13 607.1,470.01 607.4,469.89 607.7,469.74 608,469.58 608.3,469.41 608.6,469.35 608.9,469.45 609.2,469.69 609.5,470.12 609.8,470.76 610.1,471.62 610.4,472.67 610.7,473.82 611,474.93 611.3,475.88 611.6,476.61 611.9,477.09 612.2,477.35 612.5,477.39 612.8,477.27 613.1,477 613.4,476.57 613.7,475.99 614,475.34 614.3,474.72 614.6,474.2 614.9,473.81 615.2,473.51 615.5,473.23 615.8,472.91 616.1,472.52 616.4,472.07 616.7,471.58 617,471.07 617.3,470.56 617.6,470.05 617.9,469.55 618.2,469.02 618.5,468.5 618.8,468.06 619.1,467.78 619.4,467.72 619.7,467.86 620,468.12 620.3,468.41 620.6,468.62 620.9,468.68 621.2,468.55 621.5,468.29 621.8,467.94 622.1,467.57 622.4,467.23 622.7,466.95 623,466.74 623.3,466.6 623.6,466.52 623.9,466.51 624.2,466.59 624.5,466.76 624.8,467.01 625.1,467.31 625.4,467.66 625.7,468.06 626,468.53 626.3,469.05 626.6,469.61 626.9,470.2 627.2,470.79 627.5,471.36 627.8,471.9 628.1,472.39 628.4,472.83 628.7,473.21 629,473.52 629.3,473.73 629.6,473.8 629.9,473.72 630.2,473.48 630.5,473.09 630.8,472.61 631.1,472.07 631.4,471.56 631.7,471.11 632,470.74 632.3,470.45 632.6,470.22 632.9,470.06 633.2,469.99 633.5,470.11 633.8,470.42 634.1,470.91 634.4,471.51 634.7,472.15 635,472.76 635.3,473.29 635.6,473.74 635.9,474.11 636.2,474.41 636.5,474.63 636.8,474.75 637.1,474.76 637.4,474.65 637.7,474.46 638,474.18 638.3,473.81 638.6,473.37 638.9,472.91 639.2,472.48 639.5,472.1 639.8,471.79 640.1,471.53 640.4,471.28 640.7,471.03 641,470.79 641.3,470.53 641.6,470.25 641.9,469.97 642.2,469.7 642.5,469.44 642.8,469.18 643.1,468.92 643.4,468.68 643.7,468.49 644,468.38 644.3,468.34 644.6,468.38 644.9,468.46 645.2,468.57 645.5,468.71 645.8,468.85 646.1,468.98 646.4,469.13 646.7,469.3 647,469.53 647.3,469.83 647.6,470.17 647.9,470.54 648.2,470.92 648.5,471.33 648.8,471.74 649.1,472.1 649.4,472.38 649.7,472.55 650,472.64 650.3,472.66 650.6,472.66 650.9,472.67 651.2,472.7 651.5,472.73 651.8,472.73 652.1,472.68 652.4,472.53 652.7,472.26 653,471.91 653.3,471.49 653.6,471.07 653.9,470.68 654.2,470.33 654.5,470.03 654.8,469.75 655.1,469.5 655.4,469.26 655.7,469.04 656,468.85 656.3,468.72 656.6,468.68 656.9,468.77 657.2,469 657.5,469.36 657.8,469.82 658.1,470.29 658.4,470.71 658.7,471.01 659,471.16 659.3,471.21 659.6,471.25 659.9,471.38 660.2,471.64 660.5,472.02 660.8,472.41 661.1,472.72 661.4,472.85 661.7,472.79 662,472.53 662.3,472.1 662.6,471.54 662.9,470.93 663.2,470.3 663.5,469.72 663.8,469.21 664.1,468.83 664.4,468.58 664.7,468.51 665,468.62 665.3,468.97 665.6,469.54 665.9,470.25 666.2,471.02 666.5,471.81 666.8,472.6 667.1,473.41 667.4,474.23 667.7,475.06 668,475.85 668.3,476.56 668.6,477.14 668.9,477.57 669.2,477.83 669.5,477.93 669.8,477.82 670.1,477.49 670.4,476.94 670.7,476.19 671,475.24 671.3,474.1 671.6,472.79 671.9,471.37" fill="none" stroke="#444" stroke-width="1.1" stroke-linejoin="round" stroke-linecap="round" />
<polyline points="371,450.09 371.3,449.44 371.6,448.81 371.9,448.23 372.2,447.73 372.5,447.3 372.8,446.96 373.1,446.7 373.4,446.5 373.7,446.36 374,446.27 374.3,446.25 374.6,446.29 374.9,446.38 375.2,446.46 375.5,446.48 375.8,446.41 376.1,446.36 376.4,446.45 376.7,446.7 377,447.09 377.3,447.56 377.6,448.01 377.9,448.33 378.2,448.4 378.5,448.17 378.8,447.72 379.1,447.12 379.4,446.44 379.7,445.75 380,445.09 380.3,444.46 380.6,443.66 380.9,442.69 381.2,441.62 381.5,440.55 381.8,439.55 382.1,438.7 382.4,438.08 382.7,437.63 383,437.21 383.3,436.86 383.6,436.6 383.9,436.41 384.2,436.28 384.5,436.15 384.8,435.99 385.1,435.81 385.4,435.64 385.7,435.6 386,435.72 386.3,436 386.6,436.44 386.9,437 387.2,437.65 387.5,438.35 387.8,439.05 388.1,439.7 388.4,440.3 388.7,440.96 389,441.68 389.3,442.46 389.6,443.28 389.9,444.1 390.2,444.84 390.5,445.41 390.8,445.75 391.1,445.85 391.4,445.78 391.7,445.76 392,445.87 392.3,446.14 392.6,446.52 392.9,446.97 393.2,447.41 393.5,447.77 393.8,448 394.1,448.1 394.4,448.01 394.7,447.71 395,447.32 395.3,446.92 395.6,446.59 395.9,446.38 396.2,446.31 396.5,446.4 396.8,446.65 397.1,447.04 397.4,447.49 397.7,447.94 398,448.36 398.3,448.76 398.6,449.14 398.9,449.5 399.2,449.83 399.5,450.1 399.8,450.25 400.1,450.25 400.4,450.19 400.7,450.08 401,449.96 401.3,449.87 401.6,449.84 401.9,449.89 402.2,450.04 402.5,450.25 402.8,450.52 403.1,450.8 403.4,451.04 403.7,451.25 404,451.43 404.3,451.6 404.6,451.78 404.9,451.94 405.2,452.08 405.5,452.17 405.8,452.16 406.1,452.07 406.4,451.95 406.7,451.78 407,451.57 407.3,451.34 407.6,451.12 407.9,450.91 408.2,450.72 408.5,450.54 408.8,450.37 409.1,450.24 409.4,450.17 409.7,450.18 410,450.24 410.3,450.29 410.6,450.27 410.9,450.12 411.2,449.69 411.5,448.94 411.8,448 412.1,447 412.4,446.08 412.7,445.33 413,444.81 413.3,444.56 413.6,444.59 413.9,444.73 414.2,444.93 414.5,445.16 414.8,445.42 415.1,445.69 415.4,445.98 415.7,446.28 416,446.58 416.3,446.87 416.6,447.12 416.9,447.3 417.2,447.39 417.5,447.37 417.8,447.26 418.1,447.09 418.4,446.93 418.7,446.85 419,446.87 419.3,446.96 419.6,447.09 419.9,447.23 420.2,447.38 420.5,447.49 420.8,447.54 421.1,447.47 421.4,447.23 421.7,446.81 422,446.26 422.3,445.66 422.6,445.13 422.9,444.73 423.2,444.49 423.5,444.38 423.8,444.34 424.1,444.29 424.4,444.17 424.7,443.93 425,443.58 425.3,443.12 425.6,442.59 425.9,442.05 426.2,441.55 426.5,441.12 426.8,440.77 427.1,440.48 427.4,440.23 427.7,439.97 428,439.7 428.3,439.37 428.6,438.99 428.9,438.56 429.2,438.05 429.5,437.47 429.8,436.81 430.1,436.09 430.4,435.31 430.7,434.51 431,433.67 431.3,432.79 431.6,431.86 431.9,430.86 432.2,429.79 432.5,428.65 432.8,427.43 433.1,426.13 433.4,424.74 433.7,423.09 434,420.72 434.3,417.72 434.6,414.23 434.9,410.39 435.2,406.33 435.5,402.24 435.8,398.24 436.1,393.87 436.4,389.26 436.7,384.73 437,380.64 437.3,377.3 437.6,374.34 437.9,371.51 438.2,369.31 438.5,368.2 438.8,368.54 439.1,370.06 439.4,372.36 439.7,375.1 440,377.92 440.3,381.19 440.6,385.3 440.9,389.93 441.2,394.74 441.5,399.4 441.8,404.09 442.1,409.11 442.4,414.21 442.7,419.22 443,423.94 443.3,428.21 443.6,431.82 443.9,434.8 444.2,437.78 444.5,440.65 444.8,443.25 445.1,445.43 445.4,447.03 445.7,447.94 446,448.09 446.3,448.06 446.6,448.05 446.9,448.11 447.2,448.21 447.5,448.31 447.8,448.37 448.1,448.32 448.4,448.14 448.7,447.86 449,447.5 449.3,447.17 449.6,446.93 449.9,446.83 450.2,446.89 450.5,447.06 450.8,447.31 451.1,447.59 451.4,447.84 451.7,448.06 452,448.23 452.3,448.36 452.6,448.46 452.9,448.52 453.2,448.56 453.5,448.56 453.8,448.52 454.1,448.47 454.4,448.44 454.7,448.44 455,448.51 455.3,448.62 455.6,448.77 455.9,448.93 456.2,449.11 456.5,449.3 456.8,449.53 457.1,449.77 457.4,450.01 457.7,450.24 458,450.47 458.3,450.71 458.6,450.98 458.9,451.29 459.2,451.58 459.5,451.82 459.8,451.93 460.1,451.87 460.4,451.67 460.7,451.38 461,451.08 461.3,450.84 461.6,450.69 461.9,450.64 462.2,450.66 462.5,450.7 462.8,450.72 463.1,450.66 463.4,450.41 463.7,449.99 464,449.44 464.3,448.77 464.6,448 464.9,447.14 465.2,446.24 465.5,445.34 465.8,444.48 466.1,443.68 466.4,442.95 466.7,442.26 467,441.63 467.3,441.08 467.6,440.65 467.9,440.41 468.2,440.36 468.5,440.4 468.8,440.5 469.1,440.62 469.4,440.71 469.7,440.76 470,440.75 470.3,440.7 470.6,440.64 470.9,440.63 471.2,440.68 471.5,440.84 471.8,441.09 472.1,441.48 472.4,441.97 472.7,442.51 473,443.05 473.3,443.55 473.6,444.01 473.9,444.42 474.2,444.81 474.5,445.19 474.8,445.56 475.1,445.88 475.4,446.09 475.7,446.19 476,446.17 476.3,446.03 476.6,445.81 476.9,445.51 477.2,445.15 477.5,444.7 477.8,444.14 478.1,443.47 478.4,442.72 478.7,441.92 479,441.14 479.3,440.42 479.6,439.78 479.9,439.17 480.2,438.39 480.5,437.46 480.8,436.39 481.1,435.22 481.4,433.97 481.7,432.68 482,431.36 482.3,430.07 482.6,428.86 482.9,427.63 483.2,426.3 483.5,424.98 483.8,423.74 484.1,422.63 484.4,421.7 484.7,420.96 485,420.43 485.3,420.13 485.6,420.12 485.9,420.66 486.2,421.64 486.5,422.81 486.8,423.98 487.1,424.96 487.4,425.6 487.7,425.72 488,425.38 488.3,424.8 488.6,424.06 488.9,423.2 489.2,422.27 489.5,421.33 489.8,420.48 490.1,419.74 490.4,418.92 490.7,418.05 491,417.19 491.3,416.4 491.6,415.72 491.9,415.18 492.2,414.81 492.5,414.6 492.8,414.55 493.1,414.77 493.4,415.26 493.7,416 494,416.92 494.3,417.98 494.6,419.07 494.9,420.09 495.2,421.02 495.5,422.05 495.8,423.11 496.1,424.1 496.4,424.94 496.7,425.54 497,425.84 497.3,425.72 497.6,424.43 497.9,422.11 498.2,419.18 498.5,416.03 498.8,413.04 499.1,410.15 499.4,407.12 499.7,403.78 500,399.95 500.3,395.47 500.6,390.18 500.9,383.87 501.2,372.2 501.5,353.15 501.8,330.05 502.1,306.21 502.4,284.97 502.7,269.37 503,257.46 503.3,246.65 503.6,234.87 503.9,219.48 504.2,205.41 504.5,199.26 504.8,199.27 505.1,199.29 505.4,199.32 505.7,199.34 506,199.36 506.3,199.37 506.6,199.38 506.9,199.41 507.2,199.46 507.5,199.56 507.8,205.7 508.1,219.75 508.4,235.5 508.7,248.53 509,261.5 509.3,275.16 509.6,291.16 509.9,309.62 510.2,328.63 510.5,346.29 510.8,360.66 511.1,369.81 511.4,375.36 511.7,380.24 512,384.49 512.3,388.15 512.6,391.25 512.9,393.82 513.2,395.87 513.5,397.51 513.8,399 514.1,400.33 514.4,401.43 514.7,402.27 515,402.8 515.3,403.02 515.6,402.9 515.9,402.2 516.2,401.01 516.5,399.47 516.8,397.74 517.1,395.92 517.4,394.08 517.7,391.99 518,389.06 518.3,384.75 518.6,376.67 518.9,360.17 519.2,338.35 519.5,308.76 519.8,275.13 520.1,257.63 520.4,244.31 520.7,230.07 521,214.43 521.3,202.85 521.6,200.21 521.9,200.28 522.2,200.32 522.5,200.32 522.8,200.29 523.1,200.25 523.4,200.21 523.7,200.17 524,200.11 524.3,200.05 524.6,199.99 524.9,199.97 525.2,200.01 525.5,200.1 525.8,200.23 526.1,200.37 526.4,200.48 526.7,200.56 527,200.6 527.3,200.6 527.6,200.58 527.9,200.55 528.2,200.54 528.5,200.52 528.8,200.48 529.1,200.4 529.4,200.28 529.7,200.14 530,200.01 530.3,199.93 530.6,199.89 530.9,199.9 531.2,199.93 531.5,199.96 531.8,199.99 532.1,200.01 532.4,200.02 532.7,200.01 533,199.94 533.3,199.8 533.6,199.59 533.9,199.32 534.2,199.05 534.5,198.85 534.8,198.75 535.1,198.81 535.4,199 535.7,199.29 536,199.61 536.3,199.9 536.6,200.11 536.9,200.21 537.2,200.22 537.5,200.14 537.8,199.99 538.1,199.82 538.4,199.64 538.7,199.5 539,199.42 539.3,199.44 539.6,199.55 539.9,199.74 540.2,199.99 540.5,200.24 540.8,200.41 541.1,200.46 541.4,200.39 541.7,200.25 542,200.09 542.3,199.97 542.6,199.92 542.9,199.92 543.2,199.97 543.5,200.05 543.8,200.14 544.1,200.23 544.4,200.3 544.7,200.36 545,200.43 545.3,200.53 545.6,200.65 545.9,200.8 546.2,200.96 546.5,201.09 546.8,201.19 547.1,201.23 547.4,201.2 547.7,201.09 548,200.9 548.3,200.66 548.6,200.85 548.9,206.32 549.2,216.42 549.5,228.59 549.8,240.22 550.1,251.54 550.4,263.71 550.7,275.51 551,287.22 551.3,299.64 551.6,312.32 551.9,324.83 552.2,336.75 552.5,347.64 552.8,357.05 553.1,364.55 553.4,369.69 553.7,373.23 554,376.28 554.3,378.91 554.6,381.19 554.9,383.19 555.2,385 555.5,386.72 555.8,388.38 556.1,389.91 556.4,391.33 556.7,392.68 557,393.98 557.3,395.24 557.6,396.48 557.9,397.74 558.2,399.03 558.5,400.33 558.8,401.62 559.1,402.95 559.4,404.33 559.7,405.76 560,407.19 560.3,408.54 560.6,409.68 560.9,410.51 561.2,410.96 561.5,410.98 561.8,410.56 562.1,409.78 562.4,408.72 562.7,407.48 563,406.16 563.3,404.83 563.6,403.5 563.9,402.21 564.2,400.92 564.5,399.63 564.8,398.34 565.1,397.08 565.4,395.8 565.7,394.3 566,392.64 566.3,390.91 566.6,389.2 566.9,387.54 567.2,385.97 567.5,384.49 567.8,383.14 568.1,381.96 568.4,381.04 568.7,380.51 569,380.46 569.3,380.81 569.6,381.42 569.9,382.16 570.2,382.96 570.5,383.77 570.8,384.57 571.1,385.42 571.4,386.34 571.7,387.32 572,388.33 572.3,389.29 572.6,390.16 572.9,390.92 573.2,391.58 573.5,392.16 573.8,392.73 574.1,393.4 574.4,394.21 574.7,395.11 575,396.01 575.3,396.88 575.6,397.66 575.9,398.37 576.2,399.04 576.5,399.68 576.8,400.32 577.1,400.94 577.4,401.53 577.7,402.07 578,402.54 578.3,402.93 578.6,403.22 578.9,403.41 579.2,403.47 579.5,403.39 579.8,403.09 580.1,402.57 580.4,401.9 580.7,401.11 581,400.21 581.3,399.23 581.6,398.17 581.9,397.08 582.2,396.01 582.5,395.02 582.8,394.19 583.1,393.55 583.4,393.13 583.7,392.96 584,393.16 584.3,394.07 584.6,395.57 584.9,397.5 585.2,399.7 585.5,401.99 585.8,404.2 586.1,406.15 586.4,407.71 586.7,408.74 587,409.11 587.3,409.1 587.6,409.06 587.9,408.97 588.2,408.82 588.5,408.61 588.8,408.38 589.1,408.18 589.4,408.05 589.7,408 590,408.09 590.3,408.47 590.6,409.11 590.9,409.95 591.2,410.97 591.5,412.16 591.8,413.49 592.1,414.93 592.4,416.41 592.7,417.85 593,419.61 593.3,421.85 593.6,424.25 593.9,426.49 594.2,428.27 594.5,429.26 594.8,429.4 595.1,429.34 595.4,429.18 595.7,428.91 596,428.54 596.3,428.07 596.6,427.52 596.9,426.94 597.2,426.41 597.5,426.01 597.8,425.83 598.1,425.88 598.4,426.17 598.7,426.68 599,427.41 599.3,428.35 599.6,429.5 599.9,430.8 600.2,432.21 600.5,433.67 600.8,435.13 601.1,436.55 601.4,437.92 601.7,439.21 602,440.4 602.3,441.44 602.6,442.3 602.9,442.96 603.2,443.44 603.5,443.76 603.8,443.98 604.1,444.1 604.4,444.17 604.7,444.22 605,444.23 605.3,444.17 605.6,444.02 605.9,443.77 606.2,443.43 606.5,443.01 606.8,442.55 607.1,442.08 607.4,441.67 607.7,441.36 608,441.23 608.3,441.23 608.6,441.31 608.9,441.42 609.2,441.51 609.5,441.56 609.8,441.52 610.1,441.4 610.4,441.21 610.7,440.99 611,440.78 611.3,440.64 611.6,440.61 611.9,440.69 612.2,440.88 612.5,441.14 612.8,441.42 613.1,441.72 613.4,441.98 613.7,442.2 614,442.4 614.3,442.62 614.6,442.89 614.9,443.25 615.2,443.66 615.5,444.1 615.8,444.51 616.1,444.88 616.4,445.2 616.7,445.51 617,445.81 617.3,446.14 617.6,446.52 617.9,446.94 618.2,447.35 618.5,447.76 618.8,448.15 619.1,448.53 619.4,448.89 619.7,449.26 620,449.62 620.3,449.98 620.6,450.31 620.9,450.6 621.2,450.82 621.5,450.94 621.8,450.93 622.1,450.79 622.4,450.51 622.7,450.09 623,449.56 623.3,448.98 623.6,448.41 623.9,447.92 624.2,447.55 624.5,447.32 624.8,447.2 625.1,447.15 625.4,447.13 625.7,447.13 626,447.14 626.3,447.23 626.6,447.4 626.9,447.66 627.2,447.98 627.5,448.35 627.8,448.71 628.1,449.03 628.4,449.28 628.7,449.46 629,449.55 629.3,449.53 629.6,449.37 629.9,449.09 630.2,448.72 630.5,448.28 630.8,447.84 631.1,447.45 631.4,447.14 631.7,446.93 632,446.79 632.3,446.69 632.6,446.59 632.9,446.47 633.2,446.34 633.5,446.25 633.8,446.25 634.1,446.36 634.4,446.57 634.7,446.85 635,447.18 635.3,447.53 635.6,447.88 635.9,448.22 636.2,448.5 636.5,448.73 636.8,448.89 637.1,448.96 637.4,448.84 637.7,448.54 638,448.09 638.3,447.51 638.6,446.85 638.9,446.17 639.2,445.57 639.5,445.1 639.8,444.84 640.1,444.8 640.4,444.91 640.7,445.05 641,445.22 641.3,445.41 641.6,445.58 641.9,445.71 642.2,445.76 642.5,445.75 642.8,445.69 643.1,445.66 643.4,445.72 643.7,445.9 644,446.2 644.3,446.58 644.6,446.96 644.9,447.3 645.2,447.58 645.5,447.79 645.8,447.93 646.1,448 646.4,448 646.7,447.9 647,447.71 647.3,447.42 647.6,447.09 647.9,446.79 648.2,446.6 648.5,446.57 648.8,446.7 649.1,446.93 649.4,447.2 649.7,447.39 650,447.46 650.3,447.36 650.6,447.09 650.9,446.71 651.2,446.28 651.5,445.86 651.8,445.49 652.1,445.19 652.4,444.94 652.7,444.74 653,444.55 653.3,444.38 653.6,444.26 653.9,444.26 654.2,444.39 654.5,444.67 654.8,445.11 655.1,445.68 655.4,446.36 655.7,447.08 656,447.78 656.3,448.42 656.6,448.97 656.9,449.44 657.2,449.84 657.5,450.23 657.8,450.6 658.1,450.97 658.4,451.29 658.7,451.53 659,451.65 659.3,451.6 659.6,451.32 659.9,450.86 660.2,450.26 660.5,449.56 660.8,448.81 661.1,448.03 661.4,447.25 661.7,446.49 662,445.78 662.3,445.19 662.6,444.77 662.9,444.6 663.2,444.66 663.5,444.85 663.8,445.14 664.1,445.48 664.4,445.79 664.7,446.04 665,446.21 665.3,446.33 665.6,446.46 665.9,446.63 666.2,446.86 666.5,447.12 666.8,447.4 667.1,447.65 667.4,447.89 667.7,448.14 668,448.39 668.3,448.64 668.6,448.89 668.9,449.13 669.2,449.37 669.5,449.58 669.8,449.76 670.1,449.9 670.4,449.98 670.7,450.01 671,449.99 671.3,449.94 671.6,449.8 671.9,449.42 672.2,448.9 672.5,448.36" fill="none" stroke="#c41a20" stroke-width="1.1" stroke-linejoin="round" stroke-linecap="round" />
<polyline points="371,368.94 371.3,368.89 371.6,368.84 371.9,368.79 372.2,368.72 372.5,368.63 372.8,368.54 373.1,368.47 373.4,368.41 373.7,368.34 374,368.24 374.3,368.07 374.6,367.84 374.9,367.57 375.2,367.28 375.5,367 375.8,366.73 376.1,366.47 376.4,366.22 376.7,365.99 377,365.79 377.3,365.68 377.6,365.67 377.9,365.76 378.2,365.92 378.5,366.09 378.8,366.23 379.1,366.31 379.4,366.33 379.7,366.33 380,366.31 380.3,366.3 380.6,366.29 380.9,366.27 381.2,366.22 381.5,366.14 381.8,366.02 382.1,365.87 382.4,365.73 382.7,365.6 383,365.5 383.3,365.42 383.6,365.35 383.9,365.28 384.2,365.25 384.5,365.26 384.8,365.35 385.1,365.55 385.4,365.83 385.7,366.15 386,366.46 386.3,366.77 386.6,367.08 386.9,367.41 387.2,367.79 387.5,368.2 387.8,368.62 388.1,369 388.4,369.33 388.7,369.59 389,369.81 389.3,370.04 389.6,370.31 389.9,370.61 390.2,370.91 390.5,371.15 390.8,371.29 391.1,371.29 391.4,371.17 391.7,370.95 392,370.65 392.3,370.3 392.6,369.93 392.9,369.57 393.2,369.24 393.5,368.97 393.8,368.75 394.1,368.6 394.4,368.49 394.7,368.43 395,368.38 395.3,368.31 395.6,368.18 395.9,368.01 396.2,367.82 396.5,367.63 396.8,367.48 397.1,367.39 397.4,367.36 397.7,367.39 398,367.47 398.3,367.6 398.6,367.75 398.9,367.89 399.2,367.98 399.5,368.18 399.8,368.57 400.1,369.08 400.4,369.63 400.7,370.15 401,370.58 401.3,370.8 401.6,370.75 401.9,370.59 402.2,370.29 402.5,369.85 402.8,369.3 403.1,368.67 403.4,368.03 403.7,367.44 404,366.95 404.3,366.57 404.6,366.32 404.9,366.18 405.2,366.13 405.5,366.15 405.8,366.19 406.1,366.23 406.4,366.27 406.7,366.29 407,366.25 407.3,366.16 407.6,366.07 407.9,366.03 408.2,366.1 408.5,366.31 408.8,366.65 409.1,367.1 409.4,367.58 409.7,368.06 410,368.51 410.3,368.89 410.6,369.19 410.9,369.38 411.2,369.46 411.5,369.41 411.8,369.25 412.1,369.02 412.4,368.77 412.7,368.6 413,368.54 413.3,368.57 413.6,368.7 413.9,368.87 414.2,369.07 414.5,369.29 414.8,369.51 415.1,369.74 415.4,369.97 415.7,370.22 416,370.49 416.3,370.78 416.6,371.08 416.9,371.37 417.2,371.62 417.5,371.8 417.8,371.89 418.1,371.89 418.4,371.81 418.7,371.62 419,371.3 419.3,370.84 419.6,370.28 419.9,369.64 420.2,368.96 420.5,368.29 420.8,367.66 421.1,367.12 421.4,366.7 421.7,366.4 422,366.16 422.3,365.85 422.6,365.41 422.9,364.83 423.2,364.12 423.5,363.35 423.8,362.61 424.1,361.97 424.4,361.46 424.7,361.11 425,360.91 425.3,360.86 425.6,360.98 425.9,361.36 426.2,361.96 426.5,362.66 426.8,363.36 427.1,363.95 427.4,364.35 427.7,364.47 428,364.37 428.3,364.18 428.6,363.9 428.9,363.56 429.2,363.15 429.5,362.66 429.8,362.1 430.1,361.49 430.4,360.85 430.7,360.23 431,359.65 431.3,359.17 431.6,358.8 431.9,358.54 432.2,358.34 432.5,358.18 432.8,358.01 433.1,357.79 433.4,357.48 433.7,357.08 434,356.58 434.3,355.98 434.6,355.11 434.9,354 435.2,352.76 435.5,351.49 435.8,350.25 436.1,349.11 436.4,348.08 436.7,347.1 437,345.88 437.3,344.55 437.6,343.28 437.9,342.26 438.2,341.67 438.5,341.69 438.8,342.23 439.1,343.19 439.4,344.41 439.7,345.75 440,347.07 440.3,348.43 440.6,349.95 440.9,351.48 441.2,352.9 441.5,354.1 441.8,355.26 442.1,356.56 442.4,357.98 442.7,359.45 443,360.87 443.3,362.09 443.6,362.9 443.9,363.24 444.2,363.43 444.5,363.46 444.8,363.37 445.1,363.2 445.4,363.02 445.7,362.86 446,362.75 446.3,362.68 446.6,362.63 446.9,362.58 447.2,362.51 447.5,362.42 447.8,362.3 448.1,362.13 448.4,361.95 448.7,361.79 449,361.7 449.3,361.72 449.6,361.85 449.9,362.04 450.2,362.19 450.5,362.21 450.8,362.04 451.1,361.68 451.4,361.18 451.7,360.62 452,360.11 452.3,359.76 452.6,359.6 452.9,359.71 453.2,360.06 453.5,360.54 453.8,361.08 454.1,361.61 454.4,362.1 454.7,362.54 455,362.95 455.3,363.31 455.6,363.62 455.9,363.83 456.2,363.92 456.5,363.94 456.8,363.92 457.1,363.86 457.4,363.79 457.7,363.71 458,363.62 458.3,363.51 458.6,363.34 458.9,363.1 459.2,362.77 459.5,362.37 459.8,361.91 460.1,361.45 460.4,361.03 460.7,360.68 461,360.37 461.3,360.1 461.6,359.81 461.9,359.48 462.2,359.08 462.5,358.65 462.8,358.22 463.1,357.84 463.4,357.51 463.7,357.23 464,356.96 464.3,356.67 464.6,356.33 464.9,355.9 465.2,355.42 465.5,354.95 465.8,354.52 466.1,354.14 466.4,353.78 466.7,353.43 467,353.09 467.3,352.75 467.6,352.46 467.9,352.27 468.2,352.27 468.5,352.56 468.8,353.09 469.1,353.81 469.4,354.64 469.7,355.52 470,356.4 470.3,357.19 470.6,357.82 470.9,358.19 471.2,358.28 471.5,358.26 471.8,358.15 472.1,357.98 472.4,357.79 472.7,357.59 473,357.39 473.3,357.18 473.6,356.93 473.9,356.62 474.2,356.26 474.5,355.84 474.8,355.39 475.1,354.94 475.4,354.5 475.7,354.1 476,353.72 476.3,353.35 476.6,352.98 476.9,352.58 477.2,352.16 477.5,351.74 477.8,351.34 478.1,351 478.4,350.72 478.7,350.47 479,350.21 479.3,349.9 479.6,349.47 479.9,348.92 480.2,348.23 480.5,347.43 480.8,346.55 481.1,345.63 481.4,344.71 481.7,343.81 482,342.92 482.3,341.76 482.6,340.3 482.9,338.6 483.2,336.7 483.5,334.69 483.8,332.67 484.1,330.75 484.4,329.06 484.7,327.69 485,326.76 485.3,326.36 485.6,326.67 485.9,327.72 486.2,329.37 486.5,331.5 486.8,333.93 487.1,336.46 487.4,338.88 487.7,340.99 488,342.61 488.3,343.6 488.6,343.86 488.9,343.69 489.2,343.25 489.5,342.58 489.8,341.74 490.1,340.73 490.4,339.58 490.7,338.32 491,336.99 491.3,335.68 491.6,334.48 491.9,333.48 492.2,332.73 492.5,332.27 492.8,332.13 493.1,332.23 493.4,332.45 493.7,332.73 494,333.04 494.3,333.34 494.6,333.59 494.9,333.75 495.2,333.75 495.5,333.49 495.8,333 496.1,332.3 496.4,331.41 496.7,330.34 497,329.13 497.3,327.74 497.6,325.61 497.9,322.72 498.2,319.25 498.5,315.37 498.8,311.23 499.1,306.94 499.4,302.22 499.7,296.72 500,290.44 500.3,283.4 500.6,275.63 500.9,266.03 501.2,254.75 501.5,243.7 501.8,233.56 502.1,222.3 502.4,211.67 502.7,203.75 503,200.63 503.3,200.6 503.6,200.55 503.9,200.49 504.2,200.4 504.5,200.26 504.8,200.08 505.1,199.87 505.4,199.66 505.7,199.5 506,199.41 506.3,199.43 506.6,199.54 506.9,199.72 507.2,199.93 507.5,200.12 507.8,200.23 508.1,200.7 508.4,206.83 508.7,217.86 509,230.92 509.3,243.95 509.6,261.23 509.9,274.08 510.2,280.05 510.5,285.11 510.8,289.38 511.1,292.95 511.4,295.92 511.7,298.39 512,300.47 512.3,302.32 512.6,304.01 512.9,305.51 513.2,306.85 513.5,308.02 513.8,309.02 514.1,309.8 514.4,310.29 514.7,310.37 515,309.87 515.3,308.81 515.6,307.26 515.9,305.25 516.2,302.87 516.5,300.2 516.8,296.33 517.1,290.7 517.4,283.95 517.7,276.68 518,269.04 518.3,260.13 518.6,250.67 518.9,241.53 519.2,232.69 519.5,222.57 519.8,212.7 520.1,204.8 520.4,200.61 520.7,200.42 521,200.4 521.3,200.26 521.6,200.08 521.9,199.93 522.2,199.85 522.5,199.85 522.8,199.9 523.1,199.98 523.4,200.05 523.7,200.1 524,200.15 524.3,200.19 524.6,200.22 524.9,200.24 525.2,200.2 525.5,200.09 525.8,199.9 526.1,199.65 526.4,199.38 526.7,199.13 527,198.93 527.3,198.8 527.6,198.72 527.9,198.71 528.2,198.74 528.5,198.82 528.8,198.95 529.1,199.11 529.4,199.29 529.7,199.48 530,199.68 530.3,199.86 530.6,200.02 530.9,200.15 531.2,200.23 531.5,200.24 531.8,200.18 532.1,200.06 532.4,199.92 532.7,199.78 533,199.66 533.3,199.58 533.6,199.57 533.9,199.63 534.2,199.76 534.5,199.94 534.8,200.14 535.1,200.31 535.4,200.43 535.7,200.51 536,200.55 536.3,200.59 536.6,200.63 536.9,200.7 537.2,200.81 537.5,200.96 537.8,201.13 538.1,201.28 538.4,201.39 538.7,201.41 539,201.36 539.3,201.25 539.6,201.14 539.9,201.05 540.2,200.98 540.5,200.91 540.8,200.83 541.1,200.68 541.4,200.46 541.7,200.17 542,199.83 542.3,199.52 542.6,199.3 542.9,199.24 543.2,199.36 543.5,199.64 543.8,200.03 544.1,200.44 544.4,200.78 544.7,200.98 545,200.99 545.3,200.83 545.6,200.52 545.9,200.14 546.2,199.77 546.5,199.48 546.8,199.31 547.1,199.26 547.4,199.31 547.7,199.46 548,199.66 548.3,199.9 548.6,200.17 548.9,200.43 549.2,201.6 549.5,206.18 549.8,213.39 550.1,222.18 550.4,231.56 550.7,240.55 551,250.28 551.3,261.45 551.6,272.35 551.9,281.97 552.2,291.38 552.5,299.74 552.8,306.09 553.1,310.72 553.4,314.55 553.7,317.57 554,319.74 554.3,321.5 554.6,323.21 554.9,324.74 555.2,325.97 555.5,326.73 555.8,326.92 556.1,326.96 556.4,327 556.7,327.06 557,327.17 557.3,327.35 557.6,327.6 557.9,327.89 558.2,328.32 558.5,329.22 558.8,330.48 559.1,331.97 559.4,333.58 559.7,335.21 560,336.74 560.3,338.07 560.6,339.11 560.9,340.09 561.2,341.1 561.5,342.08 561.8,342.97 562.1,343.74 562.4,344.34 562.7,344.78 563,345.06 563.3,345.2 563.6,345.31 563.9,345.47 564.2,345.65 564.5,345.83 564.8,345.97 565.1,346.07 565.4,346.11 565.7,346.11 566,346.05 566.3,345.9 566.6,345.5 566.9,344.93 567.2,344.26 567.5,343.57 567.8,342.93 568.1,342.38 568.4,341.97 568.7,341.73 569,341.72 569.3,342.02 569.6,342.57 569.9,343.25 570.2,343.93 570.5,344.47 570.8,344.73 571.1,344.62 571.4,344.23 571.7,343.61 572,342.82 572.3,341.96 572.6,341.1 572.9,340.29 573.2,339.55 573.5,338.89 573.8,338.32 574.1,337.84 574.4,337.52 574.7,337.41 575,337.56 575.3,337.95 575.6,338.55 575.9,339.3 576.2,340.14 576.5,341.03 576.8,341.93 577.1,342.81 577.4,343.62 577.7,344.32 578,344.87 578.3,345.24 578.6,345.4 578.9,345.49 579.2,345.55 579.5,345.62 579.8,345.73 580.1,345.9 580.4,346.16 580.7,346.48 581,346.85 581.3,347.24 581.6,347.61 581.9,347.98 582.2,348.33 582.5,348.67 582.8,348.98 583.1,349.22 583.4,349.39 583.7,349.5 584,349.56 584.3,349.6 584.6,349.65 584.9,349.75 585.2,349.88 585.5,350.01 585.8,350.1 586.1,350.13 586.4,349.77 586.7,348.87 587,347.67 587.3,346.4 587.6,345.25 587.9,344.44 588.2,344.01 588.5,343.59 588.8,343.14 589.1,342.63 589.4,342.06 589.7,341.47 590,340.89 590.3,340.35 590.6,339.85 590.9,339.4 591.2,338.98 591.5,338.61 591.8,338.34 592.1,338.25 592.4,338.67 592.7,339.83 593,341.56 593.3,343.63 593.6,345.84 593.9,347.98 594.2,349.9 594.5,351.5 594.8,352.66 595.1,353.27 595.4,353.36 595.7,353.34 596,353.28 596.3,353.2 596.6,353.14 596.9,353.12 597.2,353.13 597.5,353.16 597.8,353.16 598.1,353.12 598.4,353.05 598.7,352.98 599,352.97 599.3,353.04 599.6,353.2 599.9,353.44 600.2,353.69 600.5,353.95 600.8,354.34 601.1,354.8 601.4,355.31 601.7,355.87 602,356.48 602.3,357.16 602.6,357.89 602.9,358.62 603.2,359.31 603.5,360.04 603.8,360.82 604.1,361.59 604.4,362.3 604.7,362.91 605,363.39 605.3,363.71 605.6,363.9 605.9,363.98 606.2,364.04 606.5,364.13 606.8,364.32 607.1,364.63 607.4,365.03 607.7,365.49 608,365.92 608.3,366.26 608.6,366.49 608.9,366.6 609.2,366.63 609.5,366.65 609.8,366.7 610.1,366.81 610.4,366.98 610.7,367.18 611,367.39 611.3,367.57 611.6,367.71 611.9,367.81 612.2,367.86 612.5,367.91 612.8,367.98 613.1,368.1 613.4,368.26 613.7,368.47 614,368.71 614.3,368.98 614.6,369.24 614.9,369.49 615.2,369.7 615.5,369.85 615.8,369.91 616.1,369.87 616.4,369.74 616.7,369.49 617,369.15 617.3,368.76 617.6,368.38 617.9,368.05 618.2,367.8 618.5,367.63 618.8,367.5 619.1,367.39 619.4,367.25 619.7,367.07 620,366.86 620.3,366.65 620.6,366.44 620.9,366.26 621.2,366.12 621.5,366.05 621.8,366.05 622.1,366.15 622.4,366.34 622.7,366.6 623,366.91 623.3,367.23 623.6,367.5 623.9,367.68 624.2,367.72 624.5,367.58 624.8,367.31 625.1,366.98 625.4,366.67 625.7,366.43 626,366.29 626.3,366.27 626.6,366.33 626.9,366.47 627.2,366.65 627.5,366.85 627.8,367.05 628.1,367.2 628.4,367.3 628.7,367.32 629,367.29 629.3,367.26 629.6,367.28 629.9,367.39 630.2,367.58 630.5,367.86 630.8,368.18 631.1,368.53 631.4,368.87 631.7,369.2 632,369.5 632.3,369.74 632.6,369.91 632.9,369.98 633.2,369.93 633.5,369.7 633.8,369.34 634.1,368.92 634.4,368.48 634.7,368.07 635,367.69 635.3,367.36 635.6,367.06 635.9,366.82 636.2,366.68 636.5,366.66 636.8,366.77 637.1,367.02 637.4,367.4 637.7,367.87 638,368.38 638.3,368.85 638.6,369.24 638.9,369.5 639.2,369.63 639.5,369.68 639.8,369.75 640.1,369.82 640.4,369.86 640.7,369.83 641,369.72 641.3,369.53 641.6,369.28 641.9,369.02 642.2,368.75 642.5,368.48 642.8,368.22 643.1,367.99 643.4,367.81 643.7,367.72 644,367.72 644.3,367.8 644.6,367.88 644.9,367.93 645.2,367.89 645.5,367.74 645.8,367.48 646.1,367.16 646.4,366.79 646.7,366.44 647,366.14 647.3,365.93 647.6,365.81 647.9,365.81 648.2,365.93 648.5,366.15 648.8,366.43 649.1,366.75 649.4,367.04 649.7,367.25 650,367.36 650.3,367.37 650.6,367.34 650.9,367.34 651.2,367.43 651.5,367.64 651.8,367.95 652.1,368.29 652.4,368.59 652.7,368.77 653,368.83 653.3,368.78 653.6,368.7 653.9,368.64 654.2,368.62 654.5,368.63 654.8,368.63 655.1,368.61 655.4,368.52 655.7,368.34 656,368.06 656.3,367.71 656.6,367.34 656.9,367.01 657.2,366.78 657.5,366.69 657.8,366.76 658.1,367 658.4,367.4 658.7,367.95 659,368.61 659.3,369.26 659.6,369.81 659.9,370.16 660.2,370.24 660.5,370.1 660.8,369.81 661.1,369.45 661.4,369.1 661.7,368.81 662,368.57 662.3,368.38 662.6,368.19 662.9,367.99 663.2,367.78 663.5,367.56 663.8,367.34 664.1,367.14 664.4,366.97 664.7,366.83 665,366.73 665.3,366.69 665.6,366.7 665.9,366.79 666.2,366.96 666.5,367.2 666.8,367.47 667.1,367.75 667.4,368 667.7,368.23 668,368.4 668.3,368.53 668.6,368.61 668.9,368.65 669.2,368.67 669.5,368.66 669.8,368.61 670.1,368.53 670.4,368.39 670.7,368.2 671,368 671.3,367.82 671.6,367.66 671.9,367.56 672.2,367.52 672.5,367.54" fill="none" stroke="#1f4f9e" stroke-width="1.1" stroke-linejoin="round" stroke-linecap="round" />
</g>
<text x="438.3" y="309" font-size="11" text-anchor="middle" fill="#222" stroke="#222" >1</text>
<text x="569" y="309" font-size="11" text-anchor="middle" fill="#222" stroke="#222" >2</text>
<text x="583.8" y="309" font-size="11" text-anchor="middle" fill="#222" stroke="#222" >3</text>
<line x1="480.9" y1="317.9" x2="487.3" y2="317.9" stroke="#111" stroke-width="1.1" />
<line x1="484.1" y1="314.7" x2="484.1" y2="321.1" stroke="#111" stroke-width="1.1" />
<line x1="482.1" y1="407.7" x2="488.5" y2="407.7" stroke="#111" stroke-width="1.1" />
<line x1="485.3" y1="404.5" x2="485.3" y2="410.9" stroke="#111" stroke-width="1.1" />
<line x1="482.8" y1="433.1" x2="489.2" y2="433.1" stroke="#111" stroke-width="1.1" />
<line x1="486" y1="429.9" x2="486" y2="436.3" stroke="#111" stroke-width="1.1" />
<line x1="590.1" y1="332.1" x2="596.5" y2="332.1" stroke="#111" stroke-width="1.1" />
<line x1="593.3" y1="328.9" x2="593.3" y2="335.3" stroke="#111" stroke-width="1.1" />
<line x1="590.1" y1="399" x2="596.5" y2="399" stroke="#111" stroke-width="1.1" />
<line x1="593.3" y1="395.8" x2="593.3" y2="402.2" stroke="#111" stroke-width="1.1" />
<line x1="589.5" y1="438.8" x2="595.9" y2="438.8" stroke="#111" stroke-width="1.1" />
<line x1="592.7" y1="435.6" x2="592.7" y2="442" stroke="#111" stroke-width="1.1" />
<text x="385.3" y="422.5" font-size="11.5" text-anchor="middle" fill="#111" stroke="#111" >*</text>
<text x="492.8" y="406" font-size="11.5" text-anchor="middle" fill="#111" stroke="#111" >*</text>
<rect x="25.7" y="546.7" width="300.3" height="220.9" fill="none" stroke="#555" stroke-width="1.1"/>
<line x1="42.7" y1="767.6" x2="42.7" y2="770.6" stroke="#555" stroke-width="1.0" />
<line x1="109.38" y1="767.6" x2="109.38" y2="770.6" stroke="#555" stroke-width="1.0" />
<line x1="176.06" y1="767.6" x2="176.06" y2="770.6" stroke="#555" stroke-width="1.0" />
<line x1="242.74" y1="767.6" x2="242.74" y2="770.6" stroke="#555" stroke-width="1.0" />
<line x1="309.42" y1="767.6" x2="309.42" y2="770.6" stroke="#555" stroke-width="1.0" />
<line x1="76.04" y1="767.6" x2="76.04" y2="769.6" stroke="#555" stroke-width="1.0" />
<line x1="142.72" y1="767.6" x2="142.72" y2="769.6" stroke="#555" stroke-width="1.0" />
<line x1="209.4" y1="767.6" x2="209.4" y2="769.6" stroke="#555" stroke-width="1.0" />
<line x1="276.08" y1="767.6" x2="276.08" y2="769.6" stroke="#555" stroke-width="1.0" />
<text x="42.7" y="783.2" font-size="9.2" text-anchor="middle" fill="#222" >2400</text>
<text x="109.38" y="783.2" font-size="9.2" text-anchor="middle" fill="#222" >2800</text>
<text x="176.06" y="783.2" font-size="9.2" text-anchor="middle" fill="#222" >3200</text>
<text x="242.74" y="783.2" font-size="9.2" text-anchor="middle" fill="#222" >3600</text>
<text x="309.42" y="783.2" font-size="9.2" text-anchor="middle" fill="#222" >4000</text>
<text x="13.3" y="661" font-size="12.4" text-anchor="middle" fill="#222" stroke="#222" transform="rotate(-90 13.3 661)" >Intensity (a.u.)</text>
<text x="183.8" y="806.6" font-size="12.4" text-anchor="middle" fill="#222" stroke="#222" >Magnetic Field Strength (G)</text>
<text x="0.8" y="560" font-size="13" text-anchor="start" fill="#222" stroke="#222" >(e)</text>
<line x1="235.4" y1="562.2" x2="258.9" y2="562.2" stroke="#1f4f9e" stroke-width="1.1" />
<text x="261.2" y="566.3" font-size="10.3" text-anchor="start" fill="#222" stroke="#222" >Cu/S-paper</text>
<polyline points="42.4,639.71 42.7,639.41 43,640.24 43.3,639.97 43.6,640.14 43.9,639.72 44.2,639.91 44.5,639.84 44.8,640.13 45.1,640.01 45.4,639.85 45.7,639.53 46,639.34 46.3,639.45 46.6,639.48 46.9,639.49 47.2,639.26 47.5,640.13 47.8,639.68 48.1,638.97 48.4,639.23 48.7,639.14 49,639.6 49.3,639.83 49.6,639.19 49.9,639.66 50.2,639.37 50.5,639.78 50.8,639.83 51.1,639.49 51.4,639.59 51.7,639.35 52,639.22 52.3,638.95 52.6,639.39 52.9,639.25 53.2,639.13 53.5,639.2 53.8,639.15 54.1,638.87 54.4,639 54.7,639.49 55,639.05 55.3,639.52 55.6,638.72 55.9,638.64 56.2,639.07 56.5,639.24 56.8,638.78 57.1,639.15 57.4,639.22 57.7,639.24 58,638.86 58.3,638.85 58.6,638.34 58.9,638.83 59.2,638.89 59.5,639.21 59.8,638.37 60.1,638.47 60.4,638.4 60.7,638.95 61,637.88 61.3,638.3 61.6,639.23 61.9,638.77 62.2,638.14 62.5,638.5 62.8,638.75 63.1,638.63 63.4,638.37 63.7,638.17 64,638.63 64.3,638.35 64.6,638.57 64.9,638.41 65.2,638.12 65.5,638.67 65.8,638.05 66.1,638.31 66.4,637.95 66.7,638.04 67,638.01 67.3,637.85 67.6,638.1 67.9,638.39 68.2,638.53 68.5,638.37 68.8,637.85 69.1,638.31 69.4,637.97 69.7,638.35 70,637.4 70.3,638.2 70.6,637.54 70.9,638.04 71.2,637.52 71.5,637.9 71.8,637.51 72.1,637 72.4,637.24 72.7,637.44 73,637.49 73.3,636.77 73.6,637.06 73.9,637.17 74.2,637.3 74.5,637.4 74.8,637.06 75.1,636.82 75.4,637.34 75.7,637.12 76,637.46 76.3,637 76.6,637.33 76.9,636.83 77.2,637.15 77.5,637.07 77.8,637.15 78.1,636.7 78.4,636.92 78.7,636.67 79,636.85 79.3,637.06 79.6,637.74 79.9,636.82 80.2,637 80.5,636.79 80.8,637.07 81.1,636.83 81.4,636.98 81.7,636.74 82,637.33 82.3,636.99 82.6,636.03 82.9,636.61 83.2,636.51 83.5,635.79 83.8,636.17 84.1,636.26 84.4,636.14 84.7,636.37 85,635.76 85.3,636.5 85.6,636.47 85.9,636.32 86.2,636.08 86.5,636.16 86.8,635.99 87.1,636.45 87.4,636.23 87.7,636.65 88,635.91 88.3,636.42 88.6,635.78 88.9,635.87 89.2,635.58 89.5,636.01 89.8,635.8 90.1,635.97 90.4,636.19 90.7,635.68 91,635.77 91.3,635.87 91.6,635.53 91.9,635.32 92.2,635.52 92.5,635.49 92.8,635.49 93.1,635.42 93.4,634.87 93.7,635.11 94,635.24 94.3,634.62 94.6,634.76 94.9,634.35 95.2,634.47 95.5,634.82 95.8,634.22 96.1,633.73 96.4,633.97 96.7,633.76 97,633.86 97.3,632.92 97.6,632.85 97.9,632.85 98.2,632.15 98.5,632.69 98.8,631.47 99.1,631.57 99.4,631.13 99.7,631.16 100,631.39 100.3,631.13 100.6,631.03 100.9,630.74 101.2,629.76 101.5,630.29 101.8,629.47 102.1,629.7 102.4,629.56 102.7,629.36 103,629.53 103.3,629.02 103.6,629.7 103.9,629.28 104.2,629.38 104.5,629.2 104.8,629.19 105.1,628.89 105.4,629.5 105.7,628.61 106,629.1 106.3,629.01 106.6,629 106.9,629.22 107.2,628.96 107.5,629.5 107.8,629.51 108.1,629.34 108.4,629.57 108.7,629.07 109,628.87 109.3,629.27 109.6,629.4 109.9,630.25 110.2,629.46 110.5,629.86 110.8,629.83 111.1,630.22 111.4,629.63 111.7,629.8 112,629.54 112.3,629.31 112.6,629.22 112.9,629.23 113.2,629.82 113.5,629.39 113.8,629.17 114.1,629.13 114.4,628.86 114.7,628.93 115,628.83 115.3,628.92 115.6,628.87 115.9,627.98 116.2,628.4 116.5,628.59 116.8,627.72 117.1,627.8 117.4,627.76 117.7,627.88 118,627.55 118.3,627.12 118.6,627.13 118.9,627.09 119.2,626.68 119.5,626.91 119.8,626.27 120.1,625.62 120.4,625.48 120.7,625.44 121,625.17 121.3,625.17 121.6,624.84 121.9,624.99 122.2,624.46 122.5,624.41 122.8,623.48 123.1,623.35 123.4,623.45 123.7,623.06 124,623.02 124.3,622.73 124.6,622.32 124.9,622.89 125.2,622.62 125.5,621.72 125.8,621.92 126.1,622.03 126.4,622.16 126.7,621.87 127,621.43 127.3,622.03 127.6,621.66 127.9,622.03 128.2,621.71 128.5,621.86 128.8,621.76 129.1,621.71 129.4,621.25 129.7,621.66 130,621.37 130.3,620.88 130.6,621.09 130.9,621.05 131.2,621.22 131.5,621.21 131.8,620.58 132.1,621.01 132.4,620.63 132.7,620.17 133,620.56 133.3,619.89 133.6,619.56 133.9,619.94 134.2,619.77 134.5,619.08 134.8,619.37 135.1,619.12 135.4,618.4 135.7,618.87 136,617.96 136.3,617.74 136.6,616.63 136.9,617.2 137.2,616.48 137.5,616.45 137.8,615.45 138.1,615.95 138.4,615.67 138.7,615.44 139,613.63 139.3,614.33 139.6,613.9 139.9,612.54 140.2,612.89 140.5,612.75 140.8,612.88 141.1,611.9 141.4,611.92 141.7,611.57 142,611.44 142.3,610.96 142.6,611.11 142.9,610.91 143.2,609.98 143.5,610.51 143.8,609.74 144.1,609.68 144.4,609.9 144.7,609.39 145,609.34 145.3,609.21 145.6,608.96 145.9,608.43 146.2,608.11 146.5,608.41 146.8,608.24 147.1,607.92 147.4,607.56 147.7,607.67 148,607.2 148.3,606.58 148.6,606.86 148.9,606.7 149.2,606.55 149.5,605.81 149.8,605.6 150.1,605.67 150.4,605.18 150.7,605.02 151,605.05 151.3,604.61 151.6,604.76 151.9,604.02 152.2,604.16 152.5,603.67 152.8,603.82 153.1,602.78 153.4,602.45 153.7,602.57 154,601.73 154.3,601.46 154.6,601.38 154.9,601.12 155.2,600.3 155.5,600.51 155.8,600.06 156.1,599.87 156.4,599.65 156.7,599.27 157,599.38 157.3,598.95 157.6,598.5 157.9,598.33 158.2,598.37 158.5,598.05 158.8,597.95 159.1,597.29 159.4,597.14 159.7,597.47 160,596.64 160.3,596.94 160.6,596.5 160.9,595.95 161.2,595.51 161.5,595.95 161.8,595.39 162.1,595.24 162.4,594.79 162.7,595.53 163,595.1 163.3,594.99 163.6,595.06 163.9,595 164.2,594.96 164.5,595.1 164.8,594.87 165.1,594.2 165.4,595.21 165.7,595.13 166,595.04 166.3,595.54 166.6,594.72 166.9,594.37 167.2,595.79 167.5,595.6 167.8,595.13 168.1,595.66 168.4,596.14 168.7,595.83 169,596.64 169.3,597.43 169.6,597.57 169.9,597.53 170.2,598.03 170.5,598.05 170.8,598.79 171.1,599.12 171.4,599.41 171.7,599.83 172,601.36 172.3,601.38 172.6,601.63 172.9,602.4 173.2,603.58 173.5,604.26 173.8,604.24 174.1,605.15 174.4,606.04 174.7,606.37 175,606.85 175.3,607.64 175.6,608.69 175.9,609.22 176.2,609.85 176.5,610.97 176.8,612.13 177.1,612.9 177.4,613.5 177.7,615.04 178,615.17 178.3,616.34 178.6,616.95 178.9,618.59 179.2,619.34 179.5,619.91 179.8,621.21 180.1,623.05 180.4,623.79 180.7,624.66 181,625.94 181.3,626.25 181.6,627.54 181.9,628.48 182.2,629.74 182.5,631 182.8,632.41 183.1,633.69 183.4,634.83 183.7,636.48 184,636.67 184.3,637.93 184.6,639.19 184.9,639.87 185.2,641.07 185.5,642.3 185.8,642.89 186.1,644.24 186.4,645.39 186.7,645.6 187,646.13 187.3,647.71 187.6,648.23 187.9,649.43 188.2,650.07 188.5,651.12 188.8,652.18 189.1,652.92 189.4,653.39 189.7,653.96 190,654.37 190.3,655.24 190.6,656.4 190.9,657.37 191.2,657.81 191.5,658.45 191.8,658.72 192.1,659.23 192.4,659.72 192.7,660.89 193,660.58 193.3,661.82 193.6,661.8 193.9,662.67 194.2,663.04 194.5,663.63 194.8,664.18 195.1,664.01 195.4,664.36 195.7,664.93 196,665.24 196.3,666.08 196.6,666.27 196.9,666.74 197.2,667.32 197.5,667.52 197.8,668.47 198.1,668.09 198.4,669.22 198.7,669.85 199,670.06 199.3,670.71 199.6,671.89 199.9,672.28 200.2,672.62 200.5,673.67 200.8,675.3 201.1,675.75 201.4,677.5 201.7,678.71 202,679.51 202.3,681.06 202.6,682.06 202.9,683.68 203.2,685.19 203.5,687.3 203.8,688.62 204.1,691.07 204.4,693.5 204.7,696.19 205,698.04 205.3,700.77 205.6,703.66 205.9,706.52 206.2,709.36 206.5,712.19 206.8,715.62 207.1,718.24 207.4,721.49 207.7,724.54 208,728.22 208.3,731.26 208.6,734.04 208.9,736.48 209.2,739.14 209.5,741.45 209.8,742.67 210.1,743.94 210.4,745.54 210.7,745 211,743.46 211.3,741.86 211.6,741.24 211.9,738.34 212.2,735.92 212.5,733.85 212.8,731.73 213.1,728.77 213.4,726.12 213.7,723.64 214,720.87 214.3,718.66 214.6,716.33 214.9,713.78 215.2,711.86 215.5,709.15 215.8,707.28 216.1,704.12 216.4,701.72 216.7,698.74 217,696.86 217.3,694.54 217.6,693.38 217.9,691.03 218.2,689.43 218.5,687.03 218.8,685.51 219.1,684.18 219.4,682.21 219.7,681.41 220,679.5 220.3,678.34 220.6,677.2 220.9,675.98 221.2,675.24 221.5,673.86 221.8,673.27 222.1,672.66 222.4,671.55 222.7,670.73 223,669.82 223.3,669.18 223.6,668.63 223.9,667.66 224.2,666.57 224.5,666.49 224.8,665.81 225.1,665.46 225.4,664.83 225.7,664.81 226,663.54 226.3,663.18 226.6,663.24 226.9,662.35 227.2,662.36 227.5,661.87 227.8,660.91 228.1,661.31 228.4,661.13 228.7,660.41 229,659.57 229.3,659.85 229.6,658.96 229.9,658.89 230.2,658.72 230.5,658.05 230.8,657.48 231.1,657.66 231.4,657.41 231.7,656.9 232,656.66 232.3,656.86 232.6,656.36 232.9,656.01 233.2,655.74 233.5,655.74 233.8,655.5 234.1,655.22 234.4,654.66 234.7,654.77 235,654.51 235.3,654.53 235.6,654.68 235.9,654.46 236.2,654.2 236.5,653.89 236.8,653.61 237.1,653.66 237.4,653.28 237.7,653.18 238,652.89 238.3,652.99 238.6,652.85 238.9,653.29 239.2,652.78 239.5,652.38 239.8,652.6 240.1,652.11 240.4,652.42 240.7,652.23 241,652.73 241.3,651.45 241.6,651.63 241.9,651.5 242.2,651.51 242.5,651.51 242.8,650.91 243.1,650.87 243.4,651.06 243.7,651.15 244,650.44 244.3,650.21 244.6,650.89 244.9,650.71 245.2,650.68 245.5,649.99 245.8,650.12 246.1,650.16 246.4,650.13 246.7,649.89 247,649.83 247.3,650.06 247.6,649.56 247.9,649.46 248.2,649.42 248.5,649.32 248.8,649.44 249.1,649.28 249.4,649.15 249.7,649.62 250,649.23 250.3,648.99 250.6,649.39 250.9,648.81 251.2,648.91 251.5,648.82 251.8,648.63 252.1,648.63 252.4,648.7 252.7,648.21 253,648.46 253.3,648.59 253.6,648.54 253.9,648.49 254.2,649.03 254.5,648.49 254.8,648.21 255.1,648.16 255.4,648.14 255.7,648.21 256,647.95 256.3,648.42 256.6,647.62 256.9,648.07 257.2,647.98 257.5,647.46 257.8,647.92 258.1,647.85 258.4,647.46 258.7,648.26 259,647.75 259.3,647.41 259.6,647.32 259.9,647.2 260.2,647.45 260.5,647.35 260.8,646.88 261.1,646.95 261.4,647 261.7,647.05 262,647.02 262.3,646.89 262.6,647.23 262.9,647.27 263.2,646.99 263.5,646.3 263.8,646.84 264.1,647.01 264.4,646.79 264.7,646.86 265,646.77 265.3,646.28 265.6,645.95 265.9,646.81 266.2,646.45 266.5,646.69 266.8,646.45 267.1,646.45 267.4,646.86 267.7,646.09 268,646.4 268.3,646.06 268.6,646.36 268.9,646.44 269.2,646.46 269.5,646.28 269.8,645.82 270.1,646.25 270.4,646.4 270.7,646.4 271,646.7 271.3,646.22 271.6,645.74 271.9,645.85 272.2,645.99 272.5,646.24 272.8,645.58 273.1,646.14 273.4,646.04 273.7,645.58 274,645.97 274.3,645.55 274.6,645.74 274.9,645.63 275.2,645.75 275.5,645.32 275.8,645.78 276.1,644.99 276.4,645.46 276.7,645.39 277,645.97 277.3,645.65 277.6,645.33 277.9,645.19 278.2,645.43 278.5,645.21 278.8,646 279.1,644.55 279.4,645.33 279.7,644.59 280,645.56 280.3,645.01 280.6,645.67 280.9,645.03 281.2,645.47 281.5,645.19 281.8,645.44 282.1,645.09 282.4,644.21 282.7,644.82 283,644.56 283.3,645.24 283.6,645.1 283.9,644.92 284.2,645.02 284.5,644.92 284.8,644.68 285.1,645.37 285.4,644.85 285.7,644.7 286,644.31 286.3,644.53 286.6,644.68 286.9,644.6 287.2,644.49 287.5,644.59 287.8,644.25 288.1,644.55 288.4,644.08 288.7,644.25 289,644.26 289.3,644.69 289.6,644.56 289.9,644.41 290.2,644.04 290.5,644.23 290.8,644.54 291.1,644.65 291.4,643.85 291.7,644.12 292,644.25 292.3,644.29 292.6,644.17 292.9,644.34 293.2,643.71 293.5,644.54 293.8,643.75 294.1,644.07 294.4,644.18 294.7,644.34 295,644.25 295.3,644.22 295.6,644.31 295.9,643.88 296.2,644.12 296.5,644.32 296.8,643.65 297.1,643.44 297.4,643.54 297.7,644.21 298,644.14 298.3,643.66 298.6,643.81 298.9,643.86 299.2,644 299.5,643.14 299.8,643.5 300.1,643.57 300.4,643.71 300.7,643.63 301,643.49 301.3,643.65 301.6,642.81 301.9,644.41 302.2,643.74 302.5,643.74 302.8,643.28 303.1,643.57 303.4,644.02 303.7,643.94 304,643.42 304.3,643.03 304.6,643.41 304.9,643.26 305.2,643.57 305.5,642.95 305.8,643.24 306.1,643.36 306.4,643.13 306.7,643.55 307,642.9 307.3,642.86 307.6,643.1 307.9,643.42 308.2,643.08 308.5,642.98 308.8,643.37 309.1,643.18 309.4,642.95" fill="none" stroke="#1f4f9e" stroke-width="1.35" stroke-linejoin="round" stroke-linecap="round" />
<rect x="371" y="546.4" width="301.6" height="222.1" fill="none" stroke="#555" stroke-width="1.1"/>
<line x1="413.5" y1="768.5" x2="413.5" y2="771.5" stroke="#555" stroke-width="1.0" />
<line x1="478.25" y1="768.5" x2="478.25" y2="771.5" stroke="#555" stroke-width="1.0" />
<line x1="543" y1="768.5" x2="543" y2="771.5" stroke="#555" stroke-width="1.0" />
<line x1="607.75" y1="768.5" x2="607.75" y2="771.5" stroke="#555" stroke-width="1.0" />
<line x1="672.5" y1="768.5" x2="672.5" y2="771.5" stroke="#555" stroke-width="1.0" />
<line x1="381.12" y1="768.5" x2="381.12" y2="770.5" stroke="#555" stroke-width="1.0" />
<line x1="445.88" y1="768.5" x2="445.88" y2="770.5" stroke="#555" stroke-width="1.0" />
<line x1="510.62" y1="768.5" x2="510.62" y2="770.5" stroke="#555" stroke-width="1.0" />
<line x1="575.38" y1="768.5" x2="575.38" y2="770.5" stroke="#555" stroke-width="1.0" />
<line x1="640.12" y1="768.5" x2="640.12" y2="770.5" stroke="#555" stroke-width="1.0" />
<text x="413.5" y="783.2" font-size="10" text-anchor="middle" fill="#222" stroke="#222" >500</text>
<text x="478.25" y="783.2" font-size="10" text-anchor="middle" fill="#222" stroke="#222" >1000</text>
<text x="543" y="783.2" font-size="10" text-anchor="middle" fill="#222" stroke="#222" >1500</text>
<text x="607.75" y="783.2" font-size="10" text-anchor="middle" fill="#222" stroke="#222" >2000</text>
<text x="672.5" y="783.2" font-size="10" text-anchor="middle" fill="#222" stroke="#222" >2500</text>
<text x="359.4" y="657.1" font-size="12.4" text-anchor="middle" fill="#222" stroke="#222" transform="rotate(-90 359.4 657.1)" >Intensity (a.u.)</text>
<text x="521.8" y="806.3" font-size="12.5" text-anchor="middle" fill="#222" stroke="#222" >Raman Shift (cm<tspan font-size="8" dy="-5.6">-1</tspan><tspan dy="5.6">)</tspan></text>
<text x="350" y="560" font-size="13" text-anchor="start" fill="#222" stroke="#222" >(f)</text>
<defs><filter id="tex1" x="0" y="0" width="1" height="1"><feTurbulence type="fractalNoise" baseFrequency="0.13" numOctaves="3" seed="11"/><feColorMatrix type="matrix" values="0 0 0 0 0.60  0 0 0 0 0.40  0 0 0 0 0.26  1.4 0 0 0 -0.58"/></filter><filter id="tex1b" x="0" y="0" width="1" height="1"><feTurbulence type="fractalNoise" baseFrequency="0.5" numOctaves="2" seed="4"/><feColorMatrix type="matrix" values="0 0 0 0 0.18  0 0 0 0 0.12  0 0 0 0 0.08  0 1.5 0 0 -0.6"/></filter><filter id="tex2" x="0" y="0" width="1" height="1"><feTurbulence type="fractalNoise" baseFrequency="0.07" numOctaves="2" seed="5"/><feColorMatrix type="matrix" values="0 0 0 0 0.62  0 0 0 0 0.57  0 0 0 0 0.50  0.8 0 0 0 -0.3"/></filter><linearGradient id="edge" x1="0" x2="1" y1="0" y2="0"><stop offset="0.75" stop-color="#3a2e22" stop-opacity="0"/><stop offset="1" stop-color="#3a2e22" stop-opacity="0.28"/></linearGradient></defs>
<rect x="619" y="548.9" width="51.2" height="38" fill="#45301f"/>
<rect x="619" y="548.9" width="51.2" height="38" filter="url(#tex1)"/>
<rect x="619" y="548.9" width="51.2" height="38" filter="url(#tex1b)"/>
<rect x="619" y="629.9" width="50.9" height="37.8" fill="#8a7e6c"/>
<rect x="619" y="629.9" width="50.9" height="37.8" filter="url(#tex2)"/>
<rect x="619" y="629.9" width="50.9" height="37.8" fill="url(#edge)"/>
<rect x="619" y="695.9" width="50.9" height="37.9" fill="#8a7e6c"/>
<rect x="619" y="695.9" width="50.9" height="37.9" filter="url(#tex2)"/>
<rect x="619" y="695.9" width="50.9" height="37.9" fill="url(#edge)"/>
<path d="M631,653.5 Q640,648.5 652,648" fill="none" stroke="#5a5040" stroke-width="0.8" opacity="0.45"/>
<path d="M633,722 Q648,712 664,700" fill="none" stroke="#a89c88" stroke-width="1.0" opacity="0.3"/>
<text x="670" y="604.1" font-size="12.3" text-anchor="end" fill="#222" stroke="#222" >Cu/S-paper</text>
<text x="670" y="682.7" font-size="12.3" text-anchor="end" fill="#222" stroke="#222" >S-paper</text>
<text x="670" y="747.2" font-size="12.3" text-anchor="end" fill="#222" stroke="#222" >paper</text>
<polyline points="375.8,621.07 376.05,620.73 376.3,620.29 376.55,619.74 376.8,619.18 377.05,618.76 377.3,618.52 377.55,618.33 377.8,618.08 378.05,617.81 378.3,617.61 378.55,617.59 378.8,617.6 379.05,617.44 379.3,616.97 379.55,616.19 379.8,615.22 380.05,614.3 380.3,613.63 380.55,613.23 380.8,612.93 381.05,612.53 381.3,612.1 381.55,611.61 381.8,611.24 382.05,610.99 382.3,610.72 382.55,610.39 382.8,610.25 383.05,610.47 383.3,610.85 383.55,610.99 383.8,610.7 384.05,610.24 384.3,609.78 384.55,609.37 384.8,608.98 385.05,608.64 385.3,608.39 385.55,608.23 385.8,608.14 386.05,608.13 386.3,608.2 386.55,608.29 386.8,608.24 387.05,607.99 387.3,607.63 387.55,607.4 387.8,607.5 388.05,607.97 388.3,608.6 388.55,609.12 388.8,609.48 389.05,609.84 389.3,610.3 389.55,610.61 389.8,610.72 390.05,610.67 390.3,610.45 390.55,610.12 390.8,609.93 391.05,610.18 391.3,610.83 391.55,611.54 391.8,611.96 392.05,611.99 392.3,611.72 392.55,611.45 392.8,611.47 393.05,611.76 393.3,612.03 393.55,611.96 393.8,611.67 394.05,611.39 394.3,611.1 394.55,610.65 394.8,610.13 395.05,609.8 395.3,609.78 395.55,609.81 395.8,609.61 396.05,609.16 396.3,608.63 396.55,608.16 396.8,607.8 397.05,607.69 397.3,607.96 397.55,608.55 397.8,609.32 398.05,610.06 398.3,610.43 398.55,610.43 398.8,610.2 399.05,609.97 399.3,609.85 399.55,609.79 399.8,609.83 400.05,609.81 400.3,609.7 400.55,609.55 400.8,609.34 401.05,609.06 401.3,608.81 401.55,608.68 401.8,608.71 402.05,608.8 402.3,608.84 402.55,608.69 402.8,608.36 403.05,607.99 403.3,607.73 403.55,607.69 403.8,607.79 404.05,607.84 404.3,607.71 404.55,607.94 404.8,608.22 405.05,608.54 405.3,608.78 405.55,608.88 405.8,608.9 406.05,608.97 406.3,609.28 406.55,609.97 406.8,610.84 407.05,611.76 407.3,612.31 407.55,612.39 407.8,612.18 408.05,611.87 408.3,611.53 408.55,611.19 408.8,611 409.05,611.19 409.3,611.77 409.55,612.43 409.8,612.82 410.05,612.84 410.3,612.56 410.55,612.09 410.8,611.69 411.05,611.64 411.3,611.99 411.55,612.54 411.8,613 412.05,613.19 412.3,613.04 412.55,612.69 412.8,612.41 413.05,612.42 413.3,612.75 413.55,613.29 413.8,613.97 414.05,614.81 414.3,615.84 414.55,616.89 414.8,617.7 415.05,618.12 415.3,618.24 415.55,618.27 415.8,618.26 416.05,618.08 416.3,617.52 416.55,616.73 416.8,616.14 417.05,616.11 417.3,616.57 417.55,617.13 417.8,617.46 418.05,617.53 418.3,617.56 418.55,617.78 418.8,618.2 419.05,618.72 419.3,619.14 419.55,619.32 419.8,619.08 420.05,618.56 420.3,618.06 420.55,617.82 420.8,617.94 421.05,618.38 421.3,619.08 421.55,619.89 421.8,620.53 422.05,620.82 422.3,620.79 422.55,620.56 422.8,620.17 423.05,619.63 423.3,619.01 423.55,618.77 423.8,618.95 424.05,619.56 424.3,620.31 424.55,620.89 424.8,621.26 425.05,621.67 425.3,622.38 425.55,623.24 425.8,623.81 426.05,623.46 426.3,622.46 426.55,621.38 426.8,620.41 427.05,619.69 427.3,619.27 427.55,619.01 427.8,618.65 428.05,618.08 428.3,617.49 428.55,617.34 428.8,617.67 429.05,618.13 429.3,618.41 429.55,618.36 429.8,618.09 430.05,617.81 430.3,617.63 430.55,617.55 430.8,617.53 431.05,617.62 431.3,617.83 431.55,618.03 431.8,618.08 432.05,618.02 432.3,617.92 432.55,617.8 432.8,617.69 433.05,617.78 433.3,618 433.55,618.23 433.8,618.27 434.05,618.07 434.3,617.7 434.55,617.27 434.8,616.99 435.05,617.03 435.3,617.36 435.55,617.75 435.8,618.04 436.05,618.28 436.3,618.55 436.55,618.81 436.8,619 437.05,619.09 437.3,619.08 437.55,619.06 437.8,619.09 438.05,619.13 438.3,619.1 438.55,619.05 438.8,619.08 439.05,619.22 439.3,619.47 439.55,619.85 439.8,620.27 440.05,620.58 440.3,620.65 440.55,620.58 440.8,620.42 441.05,620.14 441.3,619.74 441.55,619.3 441.8,618.9 442.05,618.47 442.3,618 442.55,617.56 442.8,617.25 443.05,617.11 443.3,617.16 443.55,617.4 443.8,617.68 444.05,617.82 444.3,617.76 444.55,617.62 444.8,617.66 445.05,618.01 445.3,618.62 445.55,619.26 445.8,619.72 446.05,619.97 446.3,620.07 446.55,620.01 446.8,619.71 447.05,619.13 447.3,618.4 447.55,617.83 447.8,617.72 448.05,618.07 448.3,618.53 448.55,618.7 448.8,618.56 449.05,618.3 449.3,618.12 449.55,618.11 449.8,618.28 450.05,618.6 450.3,618.97 450.55,619.3 450.8,619.56 451.05,619.73 451.3,619.78 451.55,619.71 451.8,619.55 452.05,619.31 452.3,618.94 452.55,618.38 452.8,617.7 453.05,617.13 453.3,616.98 453.55,617.35 453.8,618.02 454.05,618.63 454.3,618.94 454.55,618.92 454.8,618.75 455.05,618.54 455.3,618.37 455.55,618.39 455.8,618.74 456.05,619.36 456.3,619.94 456.55,620.18 456.8,620.09 457.05,619.84 457.3,619.57 457.55,619.27 457.8,619.02 458.05,618.87 458.3,618.83 458.55,618.87 458.8,619.05 459.05,619.43 459.3,619.81 459.55,619.91 459.8,619.66 460.05,619.25 460.3,618.87 460.55,618.56 460.8,618.27 461.05,617.99 461.3,617.78 461.55,617.7 461.8,617.71 462.05,617.74 462.3,617.75 462.55,617.73 462.8,617.69 463.05,617.71 463.3,617.89 463.55,618.32 463.8,618.81 464.05,619.13 464.3,619.27 464.55,619.41 464.8,619.63 465.05,619.75 465.3,619.57 465.55,619.13 465.8,618.66 466.05,618.29 466.3,618.07 466.55,618.03 466.8,618.25 467.05,618.75 467.3,619.41 467.55,619.89 467.8,619.88 468.05,619.39 468.3,618.76 468.55,618.33 468.8,618.29 469.05,618.62 469.3,619.2 469.55,619.69 469.8,620.16 470.05,620.59 470.3,621 470.55,621.37 470.8,621.63 471.05,621.72 471.3,621.57 471.55,621.14 471.8,620.51 472.05,619.97 472.3,619.75 472.55,619.9 472.8,620.11 473.05,620.06 473.3,619.69 473.55,619.29 473.8,619.14 474.05,619.24 474.3,619.43 474.55,619.59 474.8,619.64 475.05,619.59 475.3,619.51 475.55,619.46 475.8,619.47 476.05,619.51 476.3,619.56 476.55,619.56 476.8,619.49 477.05,619.38 477.3,619.32 477.55,619.33 477.8,619.25 478.05,618.96 478.3,618.56 478.55,618.23 478.8,618.07 479.05,617.93 479.3,617.63 479.55,617.21 479.8,616.85 480.05,616.65 480.3,616.55 480.55,616.47 480.8,616.52 481.05,616.83 481.3,617.39 481.55,618.01 481.8,618.44 482.05,618.5 482.3,618.15 482.55,617.53 482.8,616.87 483.05,616.29 483.3,615.75 483.55,615.29 483.8,614.84 484.05,614.39 484.3,614.06 484.55,614.05 484.8,614.39 485.05,614.77 485.3,614.92 485.55,614.82 485.8,614.65 486.05,614.48 486.3,614.18 486.55,613.83 486.8,613.42 487.05,612.96 487.3,612.49 487.55,612.1 487.8,611.89 488.05,611.82 488.3,611.74 488.55,611.44 488.8,610.82 489.05,610.08 489.3,609.82 489.55,609.84 489.8,609.99 490.05,609.96 490.3,609.66 490.55,609.3 490.8,609.14 491.05,609.37 491.3,609.99 491.55,610.74 491.8,611.27 492.05,611.38 492.3,611.39 492.55,611.31 492.8,611.49 493.05,611.94 493.3,612.41 493.55,612.77 493.8,613.17 494.05,613.64 494.3,613.82 494.55,613.96 494.8,614.22 495.05,614.73 495.3,615.36 495.55,615.77 495.8,615.85 496.05,615.68 496.3,615.43 496.55,615.17 496.8,614.94 497.05,614.84 497.3,614.95 497.55,615.23 497.8,615.55 498.05,615.86 498.3,616.25 498.55,616.74 498.8,617.14 499.05,617.2 499.3,616.94 499.55,616.73 499.8,616.8 500.05,617.01 500.3,616.91 500.55,616.66 500.8,616.34 501.05,616.03 501.3,615.82 501.55,615.86 501.8,616.2 502.05,616.63 502.3,616.84 502.55,616.7 502.8,616.36 503.05,615.95 503.3,615.56 503.55,615.36 503.8,615.44 504.05,615.66 504.3,615.73 504.55,615.57 504.8,615.34 505.05,615.16 505.3,615.05 505.55,614.76 505.8,614.25 506.05,613.61 506.3,612.99 506.55,612.59 506.8,612.58 507.05,612.93 507.3,613.38 507.55,613.66 507.8,613.73 508.05,613.66 508.3,613.55 508.55,613.45 508.8,613.4 509.05,613.29 509.3,613.08 509.55,612.88 509.8,612.92 510.05,613.29 510.3,613.85 510.55,614.22 510.8,614.16 511.05,613.76 511.3,613.3 511.55,612.93 511.8,612.58 512.05,612.11 512.3,611.6 512.55,611.29 512.8,611.38 513.05,611.78 513.3,612.19 513.55,612.34 513.8,612.27 514.05,612.18 514.3,612.23 514.55,612.38 514.8,612.57 515.05,612.74 515.3,612.9 515.55,613.09 515.8,613.22 516.05,613.16 516.3,612.91 516.55,612.62 516.8,612.33 517.05,612.05 517.3,611.82 517.55,611.73 517.8,611.75 518.05,611.79 518.3,611.85 518.55,611.93 518.8,612.1 519.05,612.33 519.3,612.49 519.55,612.44 519.8,612.18 520.05,611.94 520.3,611.86 520.55,611.85 520.8,611.76 521.05,611.56 521.3,611.33 521.55,611.09 521.8,610.83 522.05,610.55 522.3,610.3 522.55,610.15 522.8,610.16 523.05,610.29 523.3,610.48 523.55,610.69 523.8,610.91 524.05,611.08 524.3,611.16 524.55,611.12 524.8,611 525.05,610.9 525.3,610.94 525.55,611.12 525.8,611.33 526.05,611.41 526.3,611.19 526.55,610.66 526.8,610.07 527.05,609.71 527.3,609.71 527.55,609.91 527.8,610.24 528.05,610.62 528.3,610.93 528.55,611.13 528.8,611.28 529.05,611.47 529.3,611.61 529.55,611.53 529.8,611.11 530.05,610.43 530.3,609.73 530.55,609.4 530.8,609.69 531.05,610.48 531.3,611.38 531.55,611.97 531.8,612.17 532.05,612.16 532.3,612.16 532.55,612.1 532.8,611.85 533.05,611.45 533.3,611.1 533.55,610.93 533.8,610.95 534.05,611.04 534.3,611.1 534.55,611.1 534.8,611.08 535.05,611.1 535.3,611.1 535.55,611.01 535.8,610.83 536.05,610.65 536.3,610.57 536.55,610.62 536.8,610.75 537.05,610.97 537.3,611.27 537.55,611.58 537.8,611.81 538.05,611.88 538.3,611.78 538.55,611.62 538.8,611.52 539.05,611.52 539.3,611.52 539.55,611.41 539.8,611.1 540.05,610.61 540.3,610.07 540.55,609.67 540.8,609.32 541.05,609.01 541.3,608.85 541.55,608.94 541.8,609.15 542.05,609.28 542.3,609.23 542.55,609.13 542.8,609.11 543.05,609.19 543.3,609.3 543.55,609.31 543.8,609.13 544.05,608.86 544.3,608.74 544.55,608.83 544.8,608.97 545.05,609.06 545.3,609.32 545.55,609.6 545.8,610.11 546.05,610.95 546.3,611.9 546.55,612.55 546.8,612.6 547.05,612.14 547.3,611.55 547.55,611.25 547.8,611.39 548.05,611.83 548.3,612.35 548.55,612.88 548.8,613.44 549.05,613.97 549.3,614.36 549.55,614.58 549.8,614.73 550.05,614.75 550.3,614.49 550.55,614.22 550.8,614.29 551.05,614.84 551.3,615.67 551.55,616.42 551.8,616.79 552.05,616.7 552.3,616.36 552.55,616.1 552.8,616.05 553.05,616.11 553.3,616.1 553.55,615.94 553.8,615.67 554.05,615.41 554.3,615.25 554.55,615.23 554.8,615.42 555.05,615.81 555.3,616.23 555.55,616.36 555.8,616.05 556.05,615.54 556.3,615.29 556.55,615.62 556.8,616.46 557.05,617.46 557.3,618.28 557.55,618.7 557.8,618.67 558.05,618.27 558.3,617.73 558.55,617.3 558.8,617.06 559.05,617.05 559.3,617.23 559.55,617.56 559.8,617.9 560.05,618.13 560.3,618.26 560.55,618.24 560.8,618.01 561.05,617.58 561.3,617.18 561.55,617.05 561.8,617.26 562.05,617.63 562.3,617.95 562.55,618.12 562.8,618.2 563.05,618.31 563.3,618.59 563.55,618.97 563.8,619.23 564.05,619.15 564.3,618.8 564.55,618.5 564.8,618.48 565.05,618.64 565.3,618.8 565.55,618.98 565.8,619.29 566.05,619.77 566.3,620.3 566.55,620.64 566.8,620.6 567.05,620.22 567.3,619.77 567.55,619.58 567.8,619.76 568.05,620.05 568.3,620.05 568.55,619.8 568.8,619.48 569.05,619.43 569.3,619.82 569.55,620.51 569.8,621.12 570.05,621.35 570.3,621.13 570.55,620.72 570.8,620.42 571.05,620.31 571.3,620.28 571.55,620.17 571.8,619.99 572.05,619.86 572.3,619.84 572.55,619.81 572.8,619.68 573.05,619.54 573.3,619.58 573.55,619.75 573.8,619.99 574.05,620.28 574.3,620.47 574.55,620.26 574.8,619.54 575.05,618.62 575.3,617.96 575.55,617.64 575.8,617.65 576.05,617.91 576.3,618.3 576.55,618.62 576.8,618.75 577.05,618.73 577.3,618.72 577.55,618.77 577.8,618.81 578.05,618.84 578.3,618.93 578.55,619.12 578.8,619.38 579.05,619.65 579.3,619.8 579.55,619.72 579.8,619.41 580.05,619.09 580.3,619 580.55,619.24 580.8,619.59 581.05,619.79 581.3,619.69 581.55,619.4 581.8,619.12 582.05,618.96 582.3,618.95 582.55,619.02 582.8,619.15 583.05,619.31 583.3,619.53 583.55,619.79 583.8,620.08 584.05,620.42 584.3,620.75 584.55,620.92 584.8,620.75 585.05,620.25 585.3,619.57 585.55,618.95 585.8,618.57 586.05,618.45 586.3,618.44 586.55,618.46 586.8,618.56 587.05,618.83 587.3,619.2 587.55,619.61 587.8,620.1 588.05,620.69 588.3,621.06 588.55,620.83 588.8,620.14 589.05,619.57 589.3,619.59 589.55,620.16 589.8,620.84 590.05,621.31 590.3,621.4 590.55,621.26 590.8,621.08 591.05,621 591.3,621.02 591.55,621.07 591.8,621.15 592.05,621.25 592.3,621.22 592.55,620.99 592.8,620.62 593.05,620.23 593.3,619.85 593.55,619.5 593.8,619.21 594.05,619 594.3,618.85 594.55,618.83 594.8,619.04 595.05,619.43 595.3,619.75 595.55,619.72 595.8,619.34 596.05,618.91 596.3,618.84 596.55,619.35 596.8,620.23 597.05,621 597.3,621.13 597.55,620.46 597.8,619.4 598.05,618.58 598.3,618.34 598.55,618.55 598.8,618.86 599.05,618.99 599.3,618.96 599.55,618.85 599.8,618.65 600.05,618.31 600.3,617.91 600.55,617.62 600.8,617.58 601.05,617.82 601.3,618.22 601.55,618.53 601.8,618.52 602.05,618.07 602.3,617.37 602.55,616.77 602.8,616.52 603.05,616.64 603.3,616.99 603.55,617.42 603.8,617.73 604.05,617.73 604.3,617.44 604.55,617.05 604.8,616.69 605.05,616.37 605.3,616.09 605.55,615.84 605.8,615.78 606.05,616.03 606.3,616.47 606.55,616.86 606.8,617.11 607.05,617.32 607.3,617.71 607.55,618.3 607.8,618.86 608.05,619.1 608.3,618.99 608.55,618.72 608.8,618.49 609.05,618.32 609.3,618.16 609.55,618.01 609.8,617.97 610.05,618.15 610.3,618.5 610.55,618.78 610.8,618.68 611.05,618.22 611.3,617.7 611.55,617.4 611.8,617.34 612.05,617.43 612.3,617.65 612.55,617.98 612.8,618.27 613.05,618.36 613.3,618.21 613.55,618.07 613.8,618.05 614.05,618.22 614.3,618.59 614.55,619.08 614.8,619.53 615.05,619.85 615.3,620.14 615.55,620.55 615.8,620.99 616.05,621.22 616.3,621.17 616.55,621.02 616.8,620.96 617.05,620.95 617.3,620.9 617.55,620.77 617.8,620.53 618.05,620.18 618.3,619.82 618.55,619.56 618.8,619.49 619.05,619.51 619.3,619.5 619.55,619.48 619.8,619.55 620.05,619.75 620.3,619.88 620.55,619.98 620.8,620.01 621.05,619.99 621.3,619.92 621.55,619.72 621.8,619.25 622.05,618.55 622.3,617.89 622.55,617.61 622.8,617.78 623.05,618.17 623.3,618.44 623.55,618.35 623.8,617.83 624.05,617.01 624.3,616.13 624.55,615.35 624.8,614.79 625.05,614.63 625.3,614.87 625.55,615.25 625.8,615.44 626.05,615.25 626.3,614.86 626.55,614.58 626.8,614.58 627.05,614.71 627.3,614.82 627.55,614.87 627.8,614.95 628.05,615.11 628.3,615.27 628.55,615.37 628.8,615.49 629.05,615.67 629.3,615.8 629.55,615.71 629.8,615.31 630.05,614.65 630.3,613.92 630.55,613.4 630.8,613.42 631.05,613.99 631.3,614.8 631.55,615.44 631.8,615.74 632.05,615.83 632.3,615.82 632.55,615.73 632.8,615.53 633.05,615.22 633.3,614.9 633.55,614.6 633.8,614.31 634.05,614.13 634.3,614.32 634.55,615.03 634.8,615.99 635.05,616.71 635.3,616.91 635.55,616.77 635.8,616.68 636.05,616.8 636.3,616.88 636.55,616.67 636.8,616.34 637.05,616.17 637.3,616.09 637.55,616.02 637.8,615.96 638.05,616 638.3,616.27 638.55,616.76 638.8,617.34 639.05,617.82 639.3,618.04 639.55,618.03 639.8,617.95 640.05,618 640.3,618.23 640.55,618.52 640.8,618.7 641.05,618.71 641.3,618.55 641.55,618.34 641.8,618.26 642.05,618.51 642.3,619.06 642.55,619.7 642.8,619.94 643.05,619.97 643.3,619.92 643.55,619.89 643.8,619.91 644.05,619.88 644.3,619.65 644.55,619.11 644.8,618.36 645.05,617.77 645.3,617.67 645.55,618.01 645.8,618.41 646.05,618.54 646.3,618.43 646.55,618.26 646.8,618.09 647.05,617.8 647.3,617.34 647.55,616.78 647.8,616.24 648.05,615.88 648.3,615.78 648.55,615.85 648.8,615.9 649.05,615.89 649.3,615.88 649.55,615.88 649.8,615.74 650.05,615.32 650.3,614.66 650.55,613.99 650.8,613.61 651.05,613.66 651.3,614.09 651.55,614.56 651.8,614.66 652.05,614.19 652.3,613.38 652.55,612.66 652.8,612.47 653.05,612.59 653.3,612.87 653.55,613.25 653.8,613.75 654.05,614.24 654.3,614.54 654.55,614.64 654.8,614.59 655.05,614.37 655.3,613.83 655.55,612.92 655.8,611.91 656.05,611.18 656.3,611.02 656.55,611.48 656.8,612.31 657.05,613.12 657.3,613.72 657.55,614.07 657.8,614.25 658.05,614.41 658.3,614.73 658.55,615.21 658.8,615.61 659.05,615.73 659.3,615.47 659.55,614.89 659.8,614.16 660.05,613.55 660.3,613.3 660.55,613.34 660.8,613.59 661.05,613.83 661.3,613.82 661.55,613.56 661.8,613.27 662.05,613.15 662.3,613.17 662.55,613.15 662.8,612.99 663.05,612.81 663.3,612.84 663.55,613.2 663.8,613.77 664.05,614.23 664.3,614.24 664.55,613.67 664.8,612.76 665.05,611.91 665.3,611.28 665.55,610.86 665.8,610.65 666.05,610.61 666.3,610.56 666.55,610.37 666.8,610.14 667.05,610.03 667.3,609.98 667.55,609.83 667.8,609.59 668.05,609.43 668.3,609.49 668.55,609.75 668.8,609.92 669.05,609.88 669.3,609.59 669.55,609.1 669.8,608.63 670.05,608.35 670.3,608.4 670.55,608.88 670.8,609.72 671.05,610.55 671.3,610.96 671.55,610.93 671.8,610.84" fill="none" stroke="#1f4f9e" stroke-width="1.15" stroke-linejoin="round" stroke-linecap="round" />
<polyline points="375.8,685.57 376.05,685.9 376.3,685.74 376.55,685.1 376.8,684.6 377.05,684.36 377.3,684.1 377.55,683.86 377.8,683.9 378.05,684.33 378.3,684.9 378.55,685.16 378.8,684.85 379.05,684.29 379.3,683.89 379.55,683.76 379.8,683.92 380.05,684.2 380.3,684.33 380.55,684.07 380.8,683.74 381.05,683.82 381.3,684.01 381.55,684.14 381.8,684.39 382.05,684.7 382.3,684.97 382.55,684.93 382.8,684.61 383.05,684.24 383.3,684.16 383.55,684 383.8,683.99 384.05,684.49 384.3,685.4 384.55,686.32 384.8,686.26 385.05,685.69 385.3,685.04 385.55,684.69 385.8,684.39 386.05,683.95 386.3,683.41 386.55,682.87 386.8,682.36 387.05,681.67 387.3,680.69 387.55,679.94 387.8,679.76 388.05,679.78 388.3,679.45 388.55,678.51 388.8,677.3 389.05,676.64 389.3,676.32 389.55,676.06 389.8,675.38 390.05,674.24 390.3,673.25 390.55,672.58 390.8,671.56 391.05,670.27 391.3,669.4 391.55,668.62 391.8,667.63 392.05,667.1 392.3,666.93 392.55,666.57 392.8,666.01 393.05,665.54 393.3,665.29 393.55,665.03 393.8,664.75 394.05,664.54 394.3,665.15 394.55,665.88 394.8,666.35 395.05,666.56 395.3,666.83 395.55,667.38 395.8,667.88 396.05,668.05 396.3,668.05 396.55,665.91 396.8,664.19 397.05,662.4 397.3,660.57 397.55,657.87 397.8,650.61 398.05,643.2 398.3,635.74 398.55,631.26 398.8,638.84 399.05,646.44 399.3,654.05 399.55,660.42 399.8,663.06 400.05,666.08 400.3,669.35 400.55,672.84 400.8,675.22 401.05,675.29 401.3,674.92 401.55,674.87 401.8,675.13 402.05,675.13 402.3,674.91 402.55,674.97 402.8,675.55 403.05,676.12 403.3,676.38 403.55,676.78 403.8,674.89 404.05,672.15 404.3,669.11 404.55,665.81 404.8,662.17 405.05,658.4 405.3,655.11 405.55,652.61 405.8,650.31 406.05,653.75 406.3,656.62 406.55,659.41 406.8,662.44 407.05,666.14 407.3,668.16 407.55,666.43 407.8,664.1 408.05,661.89 408.3,660.12 408.55,658.48 408.8,658.57 409.05,661.38 409.3,664.22 409.55,667.32 409.8,670.48 410.05,673.36 410.3,673.92 410.55,673.9 410.8,674.06 411.05,674.4 411.3,674.67 411.55,674.92 411.8,675.17 412.05,675.4 412.3,676 412.55,675.03 412.8,673.71 413.05,672.06 413.3,670.49 413.55,668.97 413.8,667.32 414.05,665.75 414.3,664.41 414.55,663.25 414.8,662.52 415.05,661.68 415.3,660.6 415.55,659.55 415.8,658.84 416.05,657.99 416.3,656.68 416.55,655.34 416.8,655.63 417.05,658.07 417.3,660.59 417.55,663.25 417.8,665.67 418.05,667.67 418.3,669.65 418.55,671.97 418.8,674.49 419.05,675.82 419.3,676.41 419.55,677.14 419.8,678.06 420.05,678.9 420.3,678.82 420.55,678.29 420.8,678.16 421.05,678.39 421.3,678.57 421.55,678.94 421.8,679.63 422.05,680.21 422.3,680.26 422.55,679.94 422.8,679.68 423.05,679.52 423.3,679.27 423.55,679 423.8,679.11 424.05,679.77 424.3,680.3 424.55,680.15 424.8,679.67 425.05,679.55 425.3,679.73 425.55,679.88 425.8,680.03 426.05,680.27 426.3,680.46 426.55,680.47 426.8,680.16 427.05,679.83 427.3,680.11 427.55,680.65 427.8,680.86 428.05,680.8 428.3,680.57 428.55,680.42 428.8,680.65 429.05,681.09 429.3,681.27 429.55,680.95 429.8,680.39 430.05,680 430.3,679.83 430.55,679.94 430.8,680.32 431.05,680.71 431.3,680.97 431.55,680.99 431.8,680.9 432.05,680.91 432.3,680.82 432.55,680.55 432.8,680.46 433.05,680.77 433.3,681.12 433.55,681.19 433.8,681.05 434.05,681.02 434.3,681.23 434.55,681.58 434.8,681.9 435.05,681.98 435.3,681.71 435.55,681.21 435.8,680.79 436.05,680.94 436.3,681.43 436.55,681.74 436.8,681.66 437.05,681.38 437.3,681.08 437.55,681.17 437.8,681.65 438.05,682.02 438.3,682.26 438.55,682.51 438.8,682.47 439.05,682.09 439.3,681.56 439.55,681.27 439.8,681.31 440.05,681.38 440.3,681.37 440.55,681.36 440.8,681.57 441.05,681.8 441.3,682.02 441.55,682.32 441.8,682.6 442.05,682.91 442.3,683.3 442.55,683.63 442.8,683.89 443.05,684.06 443.3,684.04 443.55,683.98 443.8,684 444.05,684.1 444.3,683.99 444.55,683.53 444.8,683.13 445.05,683.12 445.3,683.31 445.55,683.55 445.8,683.52 446.05,683.43 446.3,683.51 446.55,683.56 446.8,683.29 447.05,682.82 447.3,682.46 447.55,682.06 447.8,681.53 448.05,681.08 448.3,680.81 448.55,680.62 448.8,680.25 449.05,679.76 449.3,679.84 449.55,680.25 449.8,680.68 450.05,680.98 450.3,681.16 450.55,681.29 450.8,681.62 451.05,682.11 451.3,682.44 451.55,682.63 451.8,682.96 452.05,683.38 452.3,683.45 452.55,683.08 452.8,682.84 453.05,683.13 453.3,683.48 453.55,683.41 453.8,683.44 454.05,683.9 454.3,684.18 454.55,684.03 454.8,683.87 455.05,683.98 455.3,684.38 455.55,684.85 455.8,684.82 456.05,684.53 456.3,684.38 456.55,684.21 456.8,683.84 457.05,683.54 457.3,683.77 457.55,684.21 457.8,684.3 458.05,684.2 458.3,684.19 458.55,684.3 458.8,684.31 459.05,684.22 459.3,683.99 459.55,683.44 459.8,682.9 460.05,682.56 460.3,682.31 460.55,682.16 460.8,682.13 461.05,682.25 461.3,682.05 461.55,681.32 461.8,680.75 462.05,680.77 462.3,681.18 462.55,681.59 462.8,681.66 463.05,681.51 463.3,681.39 463.55,680.99 463.8,680.12 464.05,679.48 464.3,679.41 464.55,679.35 464.8,678.95 465.05,678.47 465.3,678.42 465.55,678.6 465.8,678.78 466.05,678.98 466.3,679.45 466.55,680.16 466.8,680.66 467.05,680.67 467.3,680.32 467.55,680.05 467.8,680.01 468.05,680.05 468.3,680.02 468.55,679.84 468.8,679.81 469.05,680.15 469.3,680.4 469.55,680.46 469.8,680.9 470.05,681.65 470.3,682.12 470.55,682.3 470.8,682.64 471.05,683.01 471.3,682.91 471.55,682.5 471.8,682.27 472.05,682.11 472.3,681.76 472.55,681.25 472.8,680.93 473.05,680.71 473.3,680.37 473.55,679.93 473.8,679.56 474.05,679.61 474.3,680.07 474.55,680.27 474.8,679.84 475.05,679.16 475.3,678.82 475.55,678.62 475.8,678.18 476.05,677.63 476.3,677.37 476.55,677.3 476.8,677.36 477.05,677.67 477.3,677.99 477.55,677.97 477.8,677.76 478.05,677.5 478.3,677 478.55,676.49 478.8,676.28 479.05,676.31 479.3,676.42 479.55,676.44 479.8,676.28 480.05,676.2 480.3,676.25 480.55,676.18 480.8,675.84 481.05,675.14 481.3,674.33 481.55,673.91 481.8,674.11 482.05,674.58 482.3,674.59 482.55,674.15 482.8,673.87 483.05,673.87 483.3,673.77 483.55,673.41 483.8,672.99 484.05,672.89 484.3,672.93 484.55,672.76 484.8,672.57 485.05,672.29 485.3,671.9 485.55,671.75 485.8,671.65 486.05,671.33 486.3,670.76 486.55,670.13 486.8,669.92 487.05,670.21 487.3,670.31 487.55,670.15 487.8,669.83 488.05,669.37 488.3,669.01 488.55,668.51 488.8,666.61 489.05,664.46 489.3,662.09 489.55,659.59 489.8,657.3 490.05,654.73 490.3,649.72 490.55,644.78 490.8,639.67 491.05,636.28 491.3,641.11 491.55,646.04 491.8,650.78 492.05,655.39 492.3,659.98 492.55,660.57 492.8,658.7 493.05,657.07 493.3,655.43 493.55,653.77 493.8,652.18 494.05,651.13 494.3,652.75 494.55,654.69 494.8,657.27 495.05,659.97 495.3,662.15 495.55,663.88 495.8,665.5 496.05,666.47 496.3,667.39 496.55,668.47 496.8,669.65 497.05,670.63 497.3,670.91 497.55,671.39 497.8,671.54 498.05,671.25 498.3,671.23 498.55,671.67 498.8,672.02 499.05,672.7 499.3,674.16 499.55,675.93 499.8,677.35 500.05,678.56 500.3,679.54 500.55,679.84 500.8,679.7 501.05,680.14 501.3,681.01 501.55,681.71 501.8,682.12 502.05,682.62 502.3,683.06 502.55,683.2 502.8,683.26 503.05,683.36 503.3,683.37 503.55,683.66 503.8,684.45 504.05,685.28 504.3,685.55 504.55,685.61 504.8,685.98 505.05,686.42 505.3,686.47 505.55,686.15 505.8,685.69 506.05,685.36 506.3,685.34 506.55,685.61 506.8,686.11 507.05,686.58 507.3,686.49 507.55,685.87 507.8,685.02 508.05,684.54 508.3,684.84 508.55,685.21 508.8,684.77 509.05,683.89 509.3,683.68 509.55,684.14 509.8,684.48 510.05,684.6 510.3,684.63 510.55,684.42 510.8,684.14 511.05,684.29 511.3,684.61 511.55,684.56 511.8,684.34 512.05,684.23 512.3,683.92 512.55,683.63 512.8,683.53 513.05,683.37 513.3,682.99 513.55,682.49 513.8,682 514.05,681.63 514.3,681.14 514.55,680.67 514.8,680.53 515.05,680.44 515.3,679.99 515.55,679.4 515.8,679.04 516.05,679.15 516.3,679.66 516.55,680.1 516.8,680.48 517.05,680.48 517.3,680.42 517.55,680.35 517.8,680.48 518.05,680.89 518.3,680.81 518.55,680.34 518.8,679.71 519.05,679.34 519.3,679.13 519.55,678.9 519.8,678.76 520.05,678.66 520.3,678.29 520.55,677.64 520.8,677.1 521.05,676.92 521.3,677.48 521.55,678.09 521.8,678.26 522.05,678.2 522.3,678.34 522.55,678.62 522.8,678.82 523.05,678.73 523.3,678.05 523.55,677.41 523.8,676.76 524.05,676.11 524.3,675.61 524.55,675.29 524.8,674.82 525.05,674.09 525.3,673.42 525.55,672.93 525.8,672.53 526.05,672.07 526.3,671.16 526.55,670.01 526.8,669.36 527.05,669.28 527.3,669.28 527.55,669.67 527.8,670.25 528.05,671.05 528.3,672.22 528.55,673.57 528.8,674.98 529.05,676.27 529.3,677.38 529.55,678.34 529.8,679.06 530.05,679.38 530.3,679.08 530.55,679.24 530.8,679.74 531.05,680.09 531.3,679.99 531.55,679.65 531.8,679.58 532.05,679.9 532.3,680.19 532.55,680.11 532.8,679.81 533.05,679.68 533.3,679.82 533.55,679.95 533.8,680.05 534.05,680.19 534.3,680.2 534.55,680.17 534.8,680.09 535.05,679.89 535.3,679.76 535.55,679.9 535.8,680.16 536.05,680.27 536.3,680.42 536.55,680.71 536.8,680.85 537.05,680.86 537.3,681 537.55,681.1 537.8,680.93 538.05,680.64 538.3,680.18 538.55,679.62 538.8,679.57 539.05,680.18 539.3,680.69 539.55,680.66 539.8,680.43 540.05,680.52 540.3,681.05 540.55,681.33 540.8,681.72 541.05,682.52 541.3,683.39 541.55,684.18 541.8,684.91 542.05,685.37 542.3,685.36 542.55,685.01 542.8,684.65 543.05,684.97 543.3,685.61 543.55,686.16 543.8,686.37 544.05,686.3 544.3,686.05 544.55,685.62 544.8,685.17 545.05,685.18 545.3,685.23 545.55,685.36 545.8,685.42 546.05,685.46 546.3,685.56 546.55,685.54 546.8,685.35 547.05,685.27 547.3,685.42 547.55,685.66 547.8,685.78 548.05,685.66 548.3,685.41 548.55,685.24 548.8,685.22 549.05,685.27 549.3,685.29 549.55,685.33 549.8,685.39 550.05,685.39 550.3,685.36 550.55,685.28 550.8,685.2 551.05,685.22 551.3,685.29 551.55,685.35 551.8,685.44 552.05,685.59 552.3,685.69 552.55,685.53 552.8,685.18 553.05,685.06 553.3,685.23 553.55,685.34 553.8,685.22 554.05,685.01 554.3,684.94 554.55,685.18 554.8,685.56 555.05,685.69 555.3,685.58 555.55,685.42 555.8,685.31 556.05,685.32 556.3,685.31 556.55,685.19 556.8,685.1 557.05,685.15 557.3,685.35 557.55,685.56 557.8,685.63 558.05,685.56 558.3,685.43 558.55,685.37 558.8,685.39 559.05,685.29 559.3,685.12 559.55,685.08 559.8,685.14 560.05,685.19 560.3,685.16 560.55,685.19 560.8,685.41 561.05,685.55 561.3,685.56 561.55,685.65 561.8,685.76 562.05,685.74 562.3,685.59 562.55,685.39 562.8,685.34 563.05,685.42 563.3,685.45 563.55,685.33 563.8,685.29 564.05,685.43 564.3,685.51 564.55,685.49 564.8,685.52 565.05,685.6 565.3,685.57 565.55,685.38 565.8,685.23 566.05,685.21 566.3,685.25 566.55,685.23 566.8,685.18 567.05,685.17 567.3,685.16 567.55,685.2 567.8,685.32 568.05,685.53 568.3,685.77 568.55,685.92 568.8,685.91 569.05,685.81 569.3,685.71 569.55,685.64 569.8,685.57 570.05,685.47 570.3,685.34 570.55,685.21 570.8,685.22 571.05,685.33 571.3,685.39 571.55,685.32 571.8,685.2 572.05,685.15 572.3,685.15 572.55,685.12 572.8,685.16 573.05,685.26 573.3,685.28 573.55,685.19 573.8,685.19 574.05,685.37 574.3,685.48 574.55,685.38 574.8,685.21 575.05,685.17 575.3,685.28 575.55,685.39 575.8,685.43 576.05,685.41 576.3,685.37 576.55,685.35 576.8,685.44 577.05,685.54 577.3,685.47 577.55,685.37 577.8,685.38 578.05,685.46 578.3,685.47 578.55,685.39 578.8,685.42 579.05,685.54 579.3,685.58 579.55,685.47 579.8,685.27 580.05,685.11 580.3,685.16 580.55,685.38 580.8,685.61 581.05,685.77 581.3,685.82 581.55,685.74 581.8,685.61 582.05,685.46 582.3,685.37 582.55,685.38 582.8,685.45 583.05,685.6 583.3,685.71 583.55,685.64 583.8,685.58 584.05,685.61 584.3,685.62 584.55,685.61 584.8,685.64 585.05,685.59 585.3,685.45 585.55,685.49 585.8,685.67 586.05,685.67 586.3,685.52 586.55,685.51 586.8,685.74 587.05,685.93 587.3,685.83 587.55,685.63 587.8,685.58 588.05,685.7 588.3,685.85 588.55,685.94 588.8,685.97 589.05,686.01 589.3,686.03 589.55,685.9 589.8,685.69 590.05,685.54 590.3,685.55 590.55,685.67 590.8,685.85 591.05,685.94 591.3,685.85 591.55,685.72 591.8,685.71 592.05,685.7 592.3,685.69 592.55,685.67 592.8,685.73 593.05,685.85 593.3,685.9 593.55,685.8 593.8,685.58 594.05,685.37 594.3,685.33 594.55,685.45 594.8,685.59 595.05,685.68 595.3,685.66 595.55,685.57 595.8,685.52 596.05,685.57 596.3,685.8 596.55,686.09 596.8,686.16 597.05,686.12 597.3,686.18 597.55,686.24 597.8,686.19 598.05,686.06 598.3,685.86 598.55,685.69 598.8,685.63 599.05,685.61 599.3,685.58 599.55,685.62 599.8,685.71 600.05,685.81 600.3,685.93 600.55,685.99 600.8,685.93 601.05,685.84 601.3,685.72 601.55,685.69 601.8,685.78 602.05,685.82 602.3,685.71 602.55,685.6 602.8,685.58 603.05,685.62 603.3,685.67 603.55,685.69 603.8,685.74 604.05,685.81 604.3,685.87 604.55,685.87 604.8,685.83 605.05,685.94 605.3,686.17 605.55,686.24 605.8,686.14 606.05,686.04 606.3,685.96 606.55,685.92 606.8,685.97 607.05,686.01 607.3,685.93 607.55,685.82 607.8,685.83 608.05,685.82 608.3,685.74 608.55,685.66 608.8,685.61 609.05,685.59 609.3,685.67 609.55,685.71 609.8,685.6 610.05,685.46 610.3,685.44 610.55,685.6 610.8,685.8 611.05,685.86 611.3,685.81 611.55,685.78 611.8,685.82 612.05,685.89 612.3,685.98 612.55,686.01 612.8,686.05 613.05,686.1 613.3,686.1 613.55,686.09 613.8,686.07 614.05,686.09 614.3,686.12 614.55,686.09 614.8,686.01 615.05,685.97 615.3,685.96 615.55,685.89 615.8,685.73 616.05,685.53 616.3,685.48 616.55,685.68 616.8,685.96 617.05,686.18 617.3,686.31 617.55,686.37 617.8,686.31 618.05,686.12 618.3,685.98 618.55,685.96 618.8,685.98 619.05,686.08 619.3,686.23 619.55,686.26 619.8,686.13 620.05,685.98 620.3,685.99 620.55,686.02 620.8,685.97 621.05,685.94 621.3,685.9 621.55,685.9 621.8,685.99 622.05,686.07 622.3,686.12 622.55,686.11 622.8,686.02 623.05,685.98 623.3,686.01 623.55,686.03 623.8,686.08 624.05,686.12 624.3,686.12 624.55,686.15 624.8,686.19 625.05,686.15 625.3,686.13 625.55,686.2 625.8,686.3 626.05,686.27 626.3,686.14 626.55,686.08 626.8,686.16 627.05,686.28 627.3,686.33 627.55,686.32 627.8,686.32 628.05,686.36 628.3,686.22 628.55,686 628.8,686 629.05,686.2 629.3,686.33 629.55,686.3 629.8,686.27 630.05,686.29 630.3,686.37 630.55,686.46 630.8,686.42 631.05,686.26 631.3,686.21 631.55,686.27 631.8,686.28 632.05,686.3 632.3,686.37 632.55,686.24 632.8,685.97 633.05,685.87 633.3,685.97 633.55,686.18 633.8,686.56 634.05,686.97 634.3,687.07 634.55,686.87 634.8,686.7 635.05,686.57 635.3,686.41 635.55,686.34 635.8,686.44 636.05,686.53 636.3,686.57 636.55,686.57 636.8,686.6 637.05,686.66 637.3,686.63 637.55,686.56 637.8,686.56 638.05,686.64 638.3,686.65 638.55,686.58 638.8,686.49 639.05,686.37 639.3,686.32 639.55,686.44 639.8,686.63 640.05,686.74 640.3,686.7 640.55,686.57 640.8,686.52 641.05,686.58 641.3,686.6 641.55,686.49 641.8,686.37 642.05,686.44 642.3,686.67 642.55,686.8 642.8,686.81 643.05,686.82 643.3,686.84 643.55,686.84 643.8,686.79 644.05,686.59 644.3,686.4 644.55,686.39 644.8,686.59 645.05,686.81 645.3,686.92 645.55,686.92 645.8,686.89 646.05,686.82 646.3,686.75 646.55,686.77 646.8,686.86 647.05,686.97 647.3,687.08 647.55,687.14 647.8,687.14 648.05,687.1 648.3,687.11 648.55,687.17 648.8,687.11 649.05,686.92 649.3,686.72 649.55,686.63 649.8,686.67 650.05,686.74 650.3,686.79 650.55,686.82 650.8,686.81 651.05,686.7 651.3,686.55 651.55,686.5 651.8,686.51 652.05,686.58 652.3,686.72 652.55,686.76 652.8,686.63 653.05,686.62 653.3,686.93 653.55,687.18 653.8,687.13 654.05,687 654.3,687.03 654.55,687.16 654.8,687.23 655.05,687.18 655.3,687.05 655.55,686.91 655.8,686.81 656.05,686.79 656.3,686.83 656.55,686.87 656.8,686.87 657.05,686.88 657.3,686.93 657.55,686.93 657.8,686.84 658.05,686.75 658.3,686.75 658.55,686.88 658.8,687.02 659.05,687.12 659.3,687.2 659.55,687.25 659.8,687.22 660.05,687.24 660.3,687.3 660.55,687.31 660.8,687.31 661.05,687.37 661.3,687.4 661.55,687.3 661.8,687.26 662.05,687.4 662.3,687.56 662.55,687.56 662.8,687.46 663.05,687.4 663.3,687.37 663.55,687.36 663.8,687.38 664.05,687.42 664.3,687.47 664.55,687.51 664.8,687.56 665.05,687.72 665.3,687.87 665.55,687.79 665.8,687.5 666.05,687.19 666.3,687.11 666.55,687.27 666.8,687.35 667.05,687.17 667.3,687.09 667.55,687.21 667.8,687.22 668.05,687.13 668.3,687.14 668.55,687.18 668.8,687.19 669.05,687.24 669.3,687.31 669.55,687.38 669.8,687.32 670.05,687.14 670.3,687.05 670.55,687.13 670.8,687.24 671.05,687.28 671.3,687.3 671.55,687.39 671.8,687.48" fill="none" stroke="#c41a20" stroke-width="1.1" stroke-linejoin="round" stroke-linecap="round" />
<polyline points="375.8,751.22 376.05,751.26 376.3,751.41 376.55,751.56 376.8,751.69 377.05,751.55 377.3,750.98 377.55,750.21 377.8,749.74 378.05,749.87 378.3,750.16 378.55,750.21 378.8,750.1 379.05,749.96 379.3,749.88 379.55,749.61 379.8,749.27 380.05,749.1 380.3,748.93 380.55,748.68 380.8,748.61 381.05,748.92 381.3,749.34 381.55,749.51 381.8,749.29 382.05,748.82 382.3,748.47 382.55,748.8 382.8,749.6 383.05,750.5 383.3,751.25 383.55,751.68 383.8,751.98 384.05,752.19 384.3,752.26 384.55,752.61 384.8,752.42 385.05,752 385.3,751.44 385.55,750.75 385.8,749.95 386.05,749.27 386.3,748.79 386.55,748.33 386.8,747.65 387.05,746.69 387.3,745.57 387.55,744.65 387.8,744.06 388.05,743.62 388.3,743.39 388.55,743 388.8,742.04 389.05,740.99 389.3,739.74 389.55,738.41 389.8,737.02 390.05,735.84 390.3,734.74 390.55,733.5 390.8,732.11 391.05,730.64 391.3,729.55 391.55,729.15 391.8,728.82 392.05,728.45 392.3,728.07 392.55,727.81 392.8,727.49 393.05,726.89 393.3,726.44 393.55,726.79 393.8,727.41 394.05,728.02 394.3,728.82 394.55,729.46 394.8,729.71 395.05,729.98 395.3,730.43 395.55,730.69 395.8,730.07 396.05,729.44 396.3,728.72 396.55,727.96 396.8,727.15 397.05,725.78 397.3,721.25 397.55,716.38 397.8,711.08 398.05,706.11 398.3,701.33 398.55,696.21 398.8,699.12 399.05,703.99 399.3,708.9 399.55,714.05 399.8,719.25 400.05,724.39 400.3,729.52 400.55,734.65 400.8,737.88 401.05,738.57 401.3,739.34 401.55,739.65 401.8,739.68 402.05,739.93 402.3,740.57 402.55,741.17 402.8,741.22 403.05,741.02 403.3,741.04 403.55,738.15 403.8,735.29 404.05,732.22 404.3,729.13 404.55,726.25 404.8,723.48 405.05,720.65 405.3,717.71 405.55,714.8 405.8,712.06 406.05,715.69 406.3,719.07 406.55,722.33 406.8,725.58 407.05,728.76 407.3,730.04 407.55,728.74 407.8,727.56 408.05,725.99 408.3,723.95 408.55,721.67 408.8,721.48 409.05,724.57 409.3,727.69 409.55,730.52 409.8,733.43 410.05,736.5 410.3,739.42 410.55,742.27 410.8,742.69 411.05,742.43 411.3,742.12 411.55,741.81 411.8,741.55 412.05,741.39 412.3,741.14 412.55,740.71 412.8,740.38 413.05,740.33 413.3,740.53 413.55,740.69 413.8,740.68 414.05,739.76 414.3,738.65 414.55,737.36 414.8,736.11 415.05,735.12 415.3,734.37 415.55,733.64 415.8,732.57 416.05,731.23 416.3,730.1 416.55,731.31 416.8,733.63 417.05,735.63 417.3,737.86 417.55,740.47 417.8,743.38 418.05,746.38 418.3,747.96 418.55,747.68 418.8,747.52 419.05,747.45 419.3,747.14 419.55,746.8 419.8,746.95 420.05,747.29 420.3,747.25 420.55,747.11 420.8,746.98 421.05,746.83 421.3,746.47 421.55,745.92 421.8,745.58 422.05,745.6 422.3,745.63 422.55,745.49 422.8,745.44 423.05,745.34 423.3,745.01 423.55,744.74 423.8,744.71 424.05,744.65 424.3,744.58 424.55,744.5 424.8,744.49 425.05,744.58 425.3,744.66 425.55,744.88 425.8,745.14 426.05,745.31 426.3,745.62 426.55,745.97 426.8,745.99 427.05,745.67 427.3,745.23 427.55,745.06 427.8,745.24 428.05,745.39 428.3,745.37 428.55,745.42 428.8,745.59 429.05,745.68 429.3,745.7 429.55,745.68 429.8,745.92 430.05,746.46 430.3,746.71 430.55,746.47 430.8,746.2 431.05,746.28 431.3,746.54 431.55,746.74 431.8,746.77 432.05,746.57 432.3,746.33 432.55,746.08 432.8,746.05 433.05,746.43 433.3,746.86 433.55,746.96 433.8,746.84 434.05,746.71 434.3,746.69 434.55,746.84 434.8,747.09 435.05,747.26 435.3,747.19 435.55,747.19 435.8,747.66 436.05,748.2 436.3,748.32 436.55,748.19 436.8,748.1 437.05,748.11 437.3,748.14 437.55,748.13 437.8,748.15 438.05,748.26 438.3,748.47 438.55,748.78 438.8,749.18 439.05,749.33 439.3,749.26 439.55,749.4 439.8,749.67 440.05,749.79 440.3,749.66 440.55,749.6 440.8,749.7 441.05,749.72 441.3,749.64 441.55,749.75 441.8,749.85 442.05,749.88 442.3,750.1 442.55,750.52 442.8,750.78 443.05,750.57 443.3,749.92 443.55,749.45 443.8,749.55 444.05,749.95 444.3,750.49 444.55,751.09 444.8,751.27 445.05,750.8 445.3,750.36 445.55,750.36 445.8,750.51 446.05,750.71 446.3,750.92 446.55,750.96 446.8,750.95 447.05,751.08 447.3,751.32 447.55,751.4 447.8,750.97 448.05,750.27 448.3,750.14 448.55,750.62 448.8,751.13 449.05,751.31 449.3,751.14 449.55,750.9 449.8,750.99 450.05,751.22 450.3,751.23 450.55,751.25 450.8,751.39 451.05,751.36 451.3,751.23 451.55,751.3 451.8,751.29 452.05,751.17 452.3,751.26 452.55,751.41 452.8,751.4 453.05,751.25 453.3,751.12 453.55,751.07 453.8,751.17 454.05,751.29 454.3,751.28 454.55,751.2 454.8,751.15 455.05,751.08 455.3,750.86 455.55,750.69 455.8,750.69 456.05,750.73 456.3,750.83 456.55,750.99 456.8,751 457.05,750.7 457.3,750.26 457.55,750.08 457.8,750.2 458.05,750.42 458.3,750.8 458.55,751.29 458.8,751.66 459.05,751.7 459.3,751.37 459.55,750.99 459.8,750.82 460.05,750.71 460.3,750.37 460.55,750.15 460.8,750.01 461.05,749.59 461.3,748.89 461.55,748.34 461.8,748.09 462.05,747.87 462.3,747.53 462.55,747.17 462.8,747.01 463.05,747 463.3,746.68 463.55,746.05 463.8,745.62 464.05,745.4 464.3,745.17 464.55,745.04 464.8,745.22 465.05,745.18 465.3,745.06 465.55,744.97 465.8,744.85 466.05,744.96 466.3,745.36 466.55,745.71 466.8,746.01 467.05,746.34 467.3,746.47 467.55,746.51 467.8,746.88 468.05,747.4 468.3,747.62 468.55,747.55 468.8,747.59 469.05,747.97 469.3,748.44 469.55,748.58 469.8,748.65 470.05,749.23 470.3,750.21 470.55,750.73 470.8,750.49 471.05,750.2 471.3,749.86 471.55,749.53 471.8,749.15 472.05,748.86 472.3,748.38 472.55,747.73 472.8,747.29 473.05,747.05 473.3,746.72 473.55,746.35 473.8,746.13 474.05,745.99 474.3,745.85 474.55,745.48 474.8,745.59 475.05,745.87 475.3,746.3 475.55,746.94 475.8,747.55 476.05,747.88 476.3,748.1 476.55,747.82 476.8,747.32 477.05,746.77 477.3,745.98 477.55,745.08 477.8,744.25 478.05,743.82 478.3,743.8 478.55,744.52 478.8,744.79 479.05,744.8 479.3,744.91 479.55,745.1 479.8,745.43 480.05,746.13 480.3,746.59 480.55,746.17 480.8,745.37 481.05,744.63 481.3,744.17 481.55,743.98 481.8,743.94 482.05,743.8 482.3,743.43 482.55,743.11 482.8,742.98 483.05,742.68 483.3,742.11 483.55,741.54 483.8,741.03 484.05,740.72 484.3,740.82 484.55,741.07 484.8,740.95 485.05,740.35 485.3,739.69 485.55,739.35 485.8,739.16 486.05,738.79 486.3,738.29 486.55,737.9 486.8,737.55 487.05,737.25 487.3,737.23 487.55,737.18 487.8,736.92 488.05,736.5 488.3,736.12 488.55,735.46 488.8,733.06 489.05,730.47 489.3,727.57 489.55,724.65 489.8,722.02 490.05,719.31 490.3,715.25 490.55,711.16 490.8,707.02 491.05,702.71 491.3,702.41 491.55,708.2 491.8,713.89 492.05,719.69 492.3,725.67 492.55,727.22 492.8,725.92 493.05,724.67 493.3,722.99 493.55,721.15 493.8,719.77 494.05,718.68 494.3,718.85 494.55,720.99 494.8,723.07 495.05,724.88 495.3,726.42 495.55,727.77 495.8,729.23 496.05,731.45 496.3,733.75 496.55,736.04 496.8,738.16 497.05,737.71 497.3,737.48 497.55,737.63 497.8,737.94 498.05,738.14 498.3,738.19 498.55,738.74 498.8,739.35 499.05,739.76 499.3,740.43 499.55,741.36 499.8,742.4 500.05,743.54 500.3,744.71 500.55,745.61 500.8,745.81 501.05,745.75 501.3,745.66 501.55,745.76 501.8,746.22 502.05,747.01 502.3,747.8 502.55,748.49 502.8,749.17 503.05,749.61 503.3,749.66 503.55,749.51 503.8,749.64 504.05,750.05 504.3,750.58 504.55,750.91 504.8,751.05 505.05,751.33 505.3,751.84 505.55,751.99 505.8,751.66 506.05,751.48 506.3,751.59 506.55,751.65 506.8,751.49 507.05,751.51 507.3,751.33 507.55,750.74 507.8,750.25 508.05,750.3 508.3,750.61 508.55,750.7 508.8,750.47 509.05,750.35 509.3,750.55 509.55,750.72 509.8,750.71 510.05,750.62 510.3,750.43 510.55,749.98 510.8,749.57 511.05,749.63 511.3,749.87 511.55,749.95 511.8,749.83 512.05,749.47 512.3,748.9 512.55,748.36 512.8,747.95 513.05,747.53 513.3,747.11 513.55,746.95 513.8,746.98 514.05,746.8 514.3,746.26 514.55,745.78 514.8,745.64 515.05,745.6 515.3,745.41 515.55,745.09 515.8,744.79 516.05,744.89 516.3,745.63 516.55,746 516.8,745.96 517.05,745.96 517.3,746.38 517.55,747.05 517.8,746.78 518.05,746.17 518.3,745.69 518.55,745.36 518.8,744.95 519.05,744.28 519.3,743.54 519.55,743.04 519.8,742.6 520.05,742.09 520.3,741.64 520.55,741.28 520.8,740.84 521.05,740.1 521.3,739.33 521.55,739.88 521.8,740.6 522.05,741.24 522.3,741.77 522.55,742.31 522.8,742.84 523.05,743.41 523.3,743.91 523.55,743.23 523.8,742.69 524.05,742.62 524.3,742.63 524.55,742.41 524.8,741.87 525.05,741.12 525.3,740.39 525.55,739.79 525.8,739.3 526.05,739.09 526.3,739.07 526.55,738.7 526.8,737.81 527.05,736.81 527.3,735.93 527.55,735.26 527.8,735.82 528.05,736.73 528.3,737.44 528.55,737.99 528.8,738.84 529.05,740.03 529.3,740.87 529.55,741.3 529.8,741.96 530.05,742.69 530.3,743.14 530.55,743.72 530.8,744.4 531.05,744.83 531.3,745.37 531.55,746.03 531.8,746.36 532.05,746.22 532.3,746.01 532.55,746.05 532.8,746.34 533.05,746.71 533.3,747.06 533.55,747.15 533.8,747.14 534.05,747.39 534.3,747.63 534.55,747.46 534.8,747.14 535.05,747.11 535.3,747.34 535.55,747.62 535.8,747.67 536.05,747.76 536.3,747.91 536.55,747.75 536.8,747.21 537.05,746.86 537.3,746.95 537.55,747.08 537.8,746.99 538.05,746.8 538.3,746.7 538.55,746.82 538.8,747.06 539.05,746.85 539.3,746.03 539.55,745.4 539.8,745.45 540.05,745.94 540.3,746.88 540.55,747.79 540.8,748.76 541.05,749.41 541.3,749.56 541.55,749.67 541.8,749.99 542.05,750.45 542.3,751.02 542.55,751.33 542.8,751.18 543.05,751.43 543.3,751.98 543.55,752.42 543.8,752.47 544.05,752.19 544.3,751.94 544.55,752.01 544.8,752.23 545.05,751.95 545.3,751.88 545.55,751.94 545.8,751.98 546.05,751.87 546.3,751.69 546.55,751.52 546.8,751.45 547.05,751.61 547.3,751.91 547.55,752.03 547.8,751.9 548.05,751.64 548.3,751.46 548.55,751.5 548.8,751.67 549.05,751.71 549.3,751.64 549.55,751.59 549.8,751.58 550.05,751.55 550.3,751.53 550.55,751.54 550.8,751.5 551.05,751.54 551.3,751.77 551.55,751.89 551.8,751.78 552.05,751.62 552.3,751.54 552.55,751.61 552.8,751.79 553.05,751.88 553.3,751.88 553.55,751.84 553.8,751.79 554.05,751.82 554.3,751.92 554.55,751.93 554.8,751.74 555.05,751.48 555.3,751.34 555.55,751.37 555.8,751.48 556.05,751.52 556.3,751.51 556.55,751.54 556.8,751.65 557.05,751.79 557.3,751.83 557.55,751.67 557.8,751.36 558.05,751.1 558.3,751.07 558.55,751.21 558.8,751.37 559.05,751.5 559.3,751.52 559.55,751.38 559.8,751.22 560.05,751.21 560.3,751.32 560.55,751.34 560.8,751.27 561.05,751.27 561.3,751.32 561.55,751.38 561.8,751.39 562.05,751.43 562.3,751.53 562.55,751.59 562.8,751.57 563.05,751.49 563.3,751.37 563.55,751.28 563.8,751.25 564.05,751.25 564.3,751.29 564.55,751.35 564.8,751.33 565.05,751.18 565.3,751.12 565.55,751.26 565.8,751.42 566.05,751.44 566.3,751.43 566.55,751.47 566.8,751.51 567.05,751.49 567.3,751.48 567.55,751.55 567.8,751.57 568.05,751.49 568.3,751.48 568.55,751.57 568.8,751.61 569.05,751.53 569.3,751.36 569.55,751.23 569.8,751.2 570.05,751.2 570.3,751.2 570.55,751.34 570.8,751.66 571.05,751.83 571.3,751.7 571.55,751.51 571.8,751.52 572.05,751.63 572.3,751.65 572.55,751.66 572.8,751.73 573.05,751.76 573.3,751.67 573.55,751.54 573.8,751.46 574.05,751.44 574.3,751.47 574.55,751.56 574.8,751.66 575.05,751.68 575.3,751.66 575.55,751.62 575.8,751.55 576.05,751.54 576.3,751.6 576.55,751.57 576.8,751.42 577.05,751.32 577.3,751.31 577.55,751.37 577.8,751.42 578.05,751.46 578.3,751.53 578.55,751.6 578.8,751.73 579.05,751.84 579.3,751.81 579.55,751.72 579.8,751.68 580.05,751.73 580.3,751.82 580.55,751.83 580.8,751.69 581.05,751.53 581.3,751.42 581.55,751.37 581.8,751.45 582.05,751.53 582.3,751.49 582.55,751.38 582.8,751.34 583.05,751.39 583.3,751.5 583.55,751.61 583.8,751.64 584.05,751.68 584.3,751.69 584.55,751.53 584.8,751.35 585.05,751.4 585.3,751.61 585.55,751.75 585.8,751.75 586.05,751.66 586.3,751.54 586.55,751.45 586.8,751.37 587.05,751.34 587.3,751.35 587.55,751.41 587.8,751.49 588.05,751.56 588.3,751.65 588.55,751.78 588.8,751.89 589.05,751.96 589.3,751.89 589.55,751.74 589.8,751.68 590.05,751.72 590.3,751.79 590.55,751.69 590.8,751.43 591.05,751.28 591.3,751.34 591.55,751.49 591.8,751.6 592.05,751.62 592.3,751.67 592.55,751.76 592.8,751.8 593.05,751.79 593.3,751.78 593.55,751.76 593.8,751.7 594.05,751.65 594.3,751.6 594.55,751.57 594.8,751.6 595.05,751.72 595.3,751.85 595.55,751.78 595.8,751.57 596.05,751.49 596.3,751.62 596.55,751.76 596.8,751.79 597.05,751.74 597.3,751.63 597.55,751.55 597.8,751.59 598.05,751.72 598.3,751.91 598.55,752.06 598.8,752.05 599.05,752.01 599.3,752.03 599.55,751.99 599.8,751.99 600.05,752.13 600.3,752.12 600.55,751.91 600.8,751.72 601.05,751.67 601.3,751.74 601.55,751.85 601.8,751.86 602.05,751.78 602.3,751.73 602.55,751.77 602.8,751.9 603.05,752.01 603.3,752.09 603.55,752.15 603.8,752.17 604.05,752.11 604.3,751.98 604.55,751.79 604.8,751.64 605.05,751.6 605.3,751.7 605.55,751.84 605.8,751.9 606.05,751.85 606.3,751.8 606.55,751.83 606.8,751.88 607.05,751.83 607.3,751.66 607.55,751.54 607.8,751.61 608.05,751.74 608.3,751.74 608.55,751.71 608.8,751.79 609.05,751.92 609.3,752.02 609.55,752.04 609.8,752.03 610.05,752.07 610.3,752.13 610.55,752.05 610.8,751.88 611.05,751.78 611.3,751.75 611.55,751.79 611.8,751.95 612.05,752.05 612.3,751.99 612.55,751.91 612.8,751.99 613.05,752.12 613.3,752.17 613.55,752.18 613.8,752.26 614.05,752.28 614.3,752.11 614.55,751.91 614.8,751.8 615.05,751.8 615.3,751.95 615.55,752.08 615.8,752.08 616.05,752.12 616.3,752.23 616.55,752.24 616.8,752.14 617.05,752.06 617.3,752.05 617.55,752.12 617.8,752.19 618.05,752.18 618.3,752.08 618.55,751.98 618.8,752 619.05,752.03 619.3,752.04 619.55,752.08 619.8,752.15 620.05,752.16 620.3,752.13 620.55,752.12 620.8,752.22 621.05,752.36 621.3,752.34 621.55,752.2 621.8,752.09 622.05,752.06 622.3,752.1 622.55,752.22 622.8,752.37 623.05,752.48 623.3,752.5 623.55,752.36 623.8,752.13 624.05,751.98 624.3,751.84 624.55,751.73 624.8,751.8 625.05,752.03 625.3,752.23 625.55,752.23 625.8,752.11 626.05,752.03 626.3,752 626.55,751.99 626.8,751.93 627.05,751.94 627.3,752.21 627.55,752.51 627.8,752.49 628.05,752.29 628.3,752.14 628.55,752.06 628.8,752.07 629.05,752.02 629.3,751.88 629.55,751.83 629.8,751.89 630.05,751.96 630.3,752.05 630.55,752.19 630.8,752.32 631.05,752.38 631.3,752.39 631.55,752.31 631.8,752.18 632.05,752.11 632.3,752.12 632.55,752.13 632.8,752.14 633.05,752.21 633.3,752.24 633.55,752.09 633.8,751.95 634.05,751.99 634.3,752.06 634.55,752.1 634.8,752.15 635.05,752.17 635.3,752.09 635.55,752.01 635.8,752 636.05,752.03 636.3,752.01 636.55,752.01 636.8,752.1 637.05,752.1 637.3,751.91 637.55,751.81 637.8,751.9 638.05,752.02 638.3,752.05 638.55,751.91 638.8,751.84 639.05,752.01 639.3,752.25 639.55,752.36 639.8,752.35 640.05,752.3 640.3,752.18 640.55,752.07 640.8,752.12 641.05,752.19 641.3,752.18 641.55,752.25 641.8,752.4 642.05,752.45 642.3,752.45 642.55,752.47 642.8,752.41 643.05,752.23 643.3,752 643.55,751.92 643.8,751.98 644.05,751.96 644.3,751.78 644.55,751.76 644.8,751.88 645.05,751.83 645.3,751.7 645.55,751.78 645.8,751.98 646.05,752.02 646.3,751.94 646.55,752.01 646.8,752.18 647.05,752.18 647.3,752.02 647.55,751.92 647.8,751.98 648.05,752.14 648.3,752.27 648.55,752.32 648.8,752.24 649.05,752.12 649.3,752.12 649.55,752.26 649.8,752.4 650.05,752.49 650.3,752.47 650.55,752.35 650.8,752.19 651.05,752.06 651.3,752.05 651.55,752.11 651.8,752.08 652.05,751.97 652.3,751.92 652.55,751.95 652.8,752.04 653.05,752.09 653.3,752.04 653.55,752.03 653.8,752.1 654.05,752.11 654.3,752.02 654.55,751.92 654.8,751.91 655.05,751.92 655.3,751.9 655.55,751.96 655.8,752.13 656.05,752.36 656.3,752.49 656.55,752.46 656.8,752.35 657.05,752.15 657.3,752.03 657.55,752.16 657.8,752.36 658.05,752.4 658.3,752.35 658.55,752.29 658.8,752.13 659.05,752.02 659.3,752.12 659.55,752.29 659.8,752.29 660.05,752.11 660.3,751.92 660.55,751.94 660.8,752.08 661.05,752.17 661.3,752.19 661.55,752.13 661.8,751.95 662.05,751.8 662.3,751.89 662.55,752.13 662.8,752.24 663.05,752.21 663.3,752.19 663.55,752.11 663.8,751.96 664.05,751.87 664.3,751.92 664.55,752.04 664.8,752.12 665.05,752.2 665.3,752.31 665.55,752.31 665.8,752.16 666.05,752.01 666.3,751.94 666.55,751.95 666.8,751.97 667.05,752.03 667.3,752.1 667.55,752.16 667.8,752.15 668.05,752.07 668.3,752.05 668.55,752.1 668.8,752.14 669.05,752.12 669.3,752.06 669.55,752.07 669.8,752.17 670.05,752.29 670.3,752.37 670.55,752.33 670.8,752.14 671.05,751.96 671.3,751.86 671.55,751.78 671.8,751.77" fill="none" stroke="#333333" stroke-width="1.1" stroke-linejoin="round" stroke-linecap="round" />
<text x="376.2" y="572.7" font-size="10.3" text-anchor="start" fill="#3f8a48" stroke="#3f8a48" >Cu-S</text>
<text x="376.2" y="586.1" font-size="10.3" text-anchor="start" fill="#3f8a48" stroke="#3f8a48" >(265)</text>
<text x="434.6" y="572.7" font-size="10.3" text-anchor="start" fill="#c27a36" stroke="#c27a36" >CuO</text>
<text x="410" y="586.1" font-size="10.3" text-anchor="start" fill="#c27a36" stroke="#c27a36" >(299, 336, 633)</text>
<text x="505" y="571" font-size="10.3" text-anchor="start" fill="#9549c9" stroke="#9549c9" >Cu<tspan font-size="7" dy="2">2</tspan><tspan dy="-2">O</tspan></text>
<text x="485.6" y="585.9" font-size="10.3" text-anchor="start" fill="#9549c9" stroke="#9549c9" >(413,570,633)</text>
<line x1="384.3" y1="588.9" x2="384.3" y2="599" stroke="#3f8a48" stroke-width="1.0" />
<polygon points="382.4,598.2 386.2,598.2 384.3,602" fill="#3f8a48"/>
<line x1="387.5" y1="588.9" x2="387.5" y2="599" stroke="#c27a36" stroke-width="1.0" />
<polygon points="385.6,598.2 389.4,598.2 387.5,602" fill="#c27a36"/>
<line x1="392.8" y1="588.9" x2="392.8" y2="599" stroke="#c27a36" stroke-width="1.0" />
<polygon points="390.9,598.2 394.7,598.2 392.8,602" fill="#c27a36"/>
<line x1="404.7" y1="588.9" x2="404.7" y2="599" stroke="#9549c9" stroke-width="1.0" />
<polygon points="402.8,598.2 406.6,598.2 404.7,602" fill="#9549c9"/>
<line x1="423.5" y1="598.8" x2="423.5" y2="608.5" stroke="#9549c9" stroke-width="1.0" />
<polygon points="421.6,607.7 425.4,607.7 423.5,611.5" fill="#9549c9"/>
<line x1="432.3" y1="598.8" x2="432.3" y2="608.5" stroke="#c27a36" stroke-width="1.3" />
<polygon points="430.4,607.7 434.2,607.7 432.3,611.5" fill="#c27a36"/>
<line x1="432.8" y1="598.8" x2="432.8" y2="608.5" stroke="#9549c9" stroke-width="0.8" />
<polygon points="431.2,607.8 434.2,607.8 432.7,611.5" fill="#9549c9" opacity="0.6"/>
<text x="407.6" y="632.8" font-size="10.6" text-anchor="start" fill="#222" stroke="#222" >SS<tspan font-size="6.4" dy="2.6" fill="#444" stroke="none">str</tspan></text>
<text x="406.6" y="647.9" font-size="10.6" text-anchor="start" fill="#222" stroke="#222" >(502)</text>
<line x1="414.5" y1="651.5" x2="414.5" y2="660.9" stroke="#111" stroke-width="1.0" />
<polygon points="412.6,660.1 416.4,660.1 414.5,663.9" fill="#111"/>
<text x="435.5" y="654.6" font-size="10.6" text-anchor="start" fill="#222" stroke="#222" >CS<tspan font-size="6.4" dy="2.6" fill="#444" stroke="none">str</tspan></text>
<text x="424.9" y="669.3" font-size="10.4" text-anchor="start" fill="#222" stroke="#222" >(690,760)</text>
<line x1="443" y1="674" x2="441.2" y2="678.6" stroke="#111" stroke-width="0.8" />
<polygon points="440.0,677.2 442.4,678.2 440.6,680.5" fill="#111"/>
<line x1="446.2" y1="674" x2="448" y2="678.6" stroke="#111" stroke-width="0.8" />
<polygon points="446.8,678.2 449.2,677.2 448.6,680.5" fill="#111"/>
<text x="459.4" y="642.2" font-size="10.6" text-anchor="start" fill="#222" stroke="#222" >SH<tspan font-size="6.6" dy="2.6" fill="#444" stroke="none">bend</tspan></text>
<text x="462.6" y="658.1" font-size="10.6" text-anchor="start" fill="#222" stroke="#222" >(941)</text>
<line x1="471.7" y1="663.9" x2="471.7" y2="671.9" stroke="#111" stroke-width="1.0" />
<polygon points="469.8,671.1 473.6,671.1 471.7,674.9" fill="#111"/>
</svg></body></html>
